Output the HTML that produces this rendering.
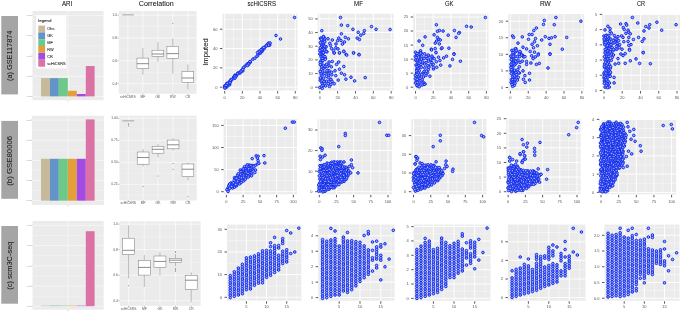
<!DOCTYPE html>
<html><head><meta charset="utf-8"><style>
html,body{margin:0;padding:0;background:#fff;}
svg{display:block;font-family:"Liberation Sans", sans-serif;-webkit-font-smoothing:antialiased;}
text{-webkit-font-smoothing:antialiased;}
</style></head><body>
<svg width="685" height="312" viewBox="0 0 685 312" style="will-change:transform">
<rect width="685" height="312" fill="#fff"/>
<rect x="1.3" y="16" width="16.7" height="78.4" fill="#a5a5a5" /><text x="-25.2" y="0" font-size="8.1" textLength="50.4" lengthAdjust="spacingAndGlyphs" fill="#151515" stroke="#151515" stroke-width="0.04" transform="translate(12.1,55.8) rotate(-90)">(a) GSE117874</text><rect x="1.3" y="120.9" width="16.7" height="77.9" fill="#a5a5a5" /><text x="-24.95" y="0" font-size="8.1" textLength="49.9" lengthAdjust="spacingAndGlyphs" fill="#151515" stroke="#151515" stroke-width="0.04" transform="translate(12.1,160.8) rotate(-90)">(b) GSE80006</text><rect x="1.3" y="226" width="16.7" height="77.7" fill="#a5a5a5" /><text x="-24.1" y="0" font-size="8.1" textLength="48.2" lengthAdjust="spacingAndGlyphs" fill="#151515" stroke="#151515" stroke-width="0.04" transform="translate(12.1,265.7) rotate(-90)">(c) scm3C-seq</text><text x="61.9" y="5.7" font-size="7.3" textLength="10.3" lengthAdjust="spacingAndGlyphs" fill="#111" stroke="#111" stroke-width="0.05">ARI</text><text x="138.8" y="5.7" font-size="7.3" textLength="35.0" lengthAdjust="spacingAndGlyphs" fill="#111" stroke="#111" stroke-width="0.05">Correlation</text><text x="247.5" y="5.7" font-size="7.3" textLength="28.5" lengthAdjust="spacingAndGlyphs" fill="#111" stroke="#111" stroke-width="0.05">scHiCSRS</text><text x="354" y="5.7" font-size="7.3" textLength="9.0" lengthAdjust="spacingAndGlyphs" fill="#111" stroke="#111" stroke-width="0.05">MF</text><text x="444.9" y="5.7" font-size="7.3" textLength="8.6" lengthAdjust="spacingAndGlyphs" fill="#111" stroke="#111" stroke-width="0.05">GK</text><text x="539.9" y="5.7" font-size="7.3" textLength="10.9" lengthAdjust="spacingAndGlyphs" fill="#111" stroke="#111" stroke-width="0.05">RW</text><text x="637" y="5.7" font-size="7.3" textLength="8.1" lengthAdjust="spacingAndGlyphs" fill="#111" stroke="#111" stroke-width="0.05">CR</text><text x="-13.75" y="0" font-size="7.5" textLength="27.5" lengthAdjust="spacingAndGlyphs" fill="#111" stroke="#111" stroke-width="0.05" transform="translate(208,52.05) rotate(-90)">Imputed</text><rect x="32.5" y="11" width="71" height="89.2" fill="#ebebeb" /><line x1="32.5" y1="25.55" x2="103.5" y2="25.55" stroke="#fafafa" stroke-width="0.3"/><line x1="32.5" y1="45.85" x2="103.5" y2="45.85" stroke="#fafafa" stroke-width="0.3"/><line x1="32.5" y1="66.15" x2="103.5" y2="66.15" stroke="#fafafa" stroke-width="0.3"/><line x1="32.5" y1="86.35" x2="103.5" y2="86.35" stroke="#fafafa" stroke-width="0.3"/><line x1="68" y1="11" x2="68" y2="100.2" stroke="#ffffff" stroke-width="0.5"/><line x1="32.5" y1="15.4" x2="103.5" y2="15.4" stroke="#ffffff" stroke-width="0.5"/><line x1="32.5" y1="35.7" x2="103.5" y2="35.7" stroke="#ffffff" stroke-width="0.5"/><line x1="32.5" y1="56" x2="103.5" y2="56" stroke="#ffffff" stroke-width="0.5"/><line x1="32.5" y1="76.3" x2="103.5" y2="76.3" stroke="#ffffff" stroke-width="0.5"/><line x1="32.5" y1="96.4" x2="103.5" y2="96.4" stroke="#ffffff" stroke-width="0.5"/><rect x="41" y="78.1" width="8.9" height="18.3" fill="#c9b99b" /><rect x="49.9" y="78.1" width="8.9" height="18.3" fill="#6294c8" /><rect x="58.8" y="78.1" width="9" height="18.3" fill="#6cc98a" /><rect x="67.8" y="90.8" width="9" height="5.6" fill="#e3a03a" /><rect x="76.8" y="94" width="9" height="2.4" fill="#a34be3" /><rect x="85.8" y="66" width="8.8" height="30.4" fill="#db72a6" /><line x1="31.3" y1="15.4" x2="32.5" y2="15.4" stroke="#777" stroke-width="0.4"/><text x="31.1" y="16.15" font-size="2.2" text-anchor="end" fill="#8a8a8a" >0.00</text><line x1="31.3" y1="35.7" x2="32.5" y2="35.7" stroke="#777" stroke-width="0.4"/><text x="31.1" y="36.45" font-size="2.2" text-anchor="end" fill="#8a8a8a" >0.00</text><line x1="31.3" y1="56" x2="32.5" y2="56" stroke="#777" stroke-width="0.4"/><text x="31.1" y="56.75" font-size="2.2" text-anchor="end" fill="#8a8a8a" >0.00</text><line x1="31.3" y1="76.3" x2="32.5" y2="76.3" stroke="#777" stroke-width="0.4"/><text x="31.1" y="77.05" font-size="2.2" text-anchor="end" fill="#8a8a8a" >0.00</text><line x1="31.3" y1="96.4" x2="32.5" y2="96.4" stroke="#777" stroke-width="0.4"/><text x="31.1" y="97.15" font-size="2.2" text-anchor="end" fill="#8a8a8a" >0.00</text><line x1="68" y1="100.2" x2="68" y2="101.4" stroke="#777" stroke-width="0.4"/><rect x="36" y="15.4" width="30.3" height="53.1" fill="#ffffff" /><text x="38.2" y="22.4" font-size="4.4" textLength="13.3" lengthAdjust="spacingAndGlyphs" fill="#222" stroke="#222" stroke-width="0.08">legend</text><rect x="38.3" y="25.6" width="6.8" height="6.8" fill="#c9b99b" /><text x="47.2" y="30.3" font-size="3.9" fill="#222" stroke="#222" stroke-width="0.06">Obs</text><rect x="38.3" y="32.4" width="6.8" height="6.8" fill="#6294c8" /><text x="47.2" y="37.1" font-size="3.9" fill="#222" stroke="#222" stroke-width="0.06">GK</text><rect x="38.3" y="39.2" width="6.8" height="6.8" fill="#6cc98a" /><text x="47.2" y="43.9" font-size="3.9" fill="#222" stroke="#222" stroke-width="0.06">MF</text><rect x="38.3" y="46" width="6.8" height="6.8" fill="#e3a03a" /><text x="47.2" y="50.7" font-size="3.9" fill="#222" stroke="#222" stroke-width="0.06">RW</text><rect x="38.3" y="52.9" width="6.8" height="6.8" fill="#a34be3" /><text x="47.2" y="57.6" font-size="3.9" fill="#222" stroke="#222" stroke-width="0.06">CR</text><rect x="38.3" y="59.9" width="6.8" height="6.8" fill="#db72a6" /><text x="47.2" y="64.6" font-size="3.9" fill="#222" stroke="#222" stroke-width="0.06">scHiCSRS</text><rect x="32" y="115.7" width="72" height="89.2" fill="#ebebeb" /><line x1="32" y1="130.1" x2="104" y2="130.1" stroke="#fafafa" stroke-width="0.3"/><line x1="32" y1="150.25" x2="104" y2="150.25" stroke="#fafafa" stroke-width="0.3"/><line x1="32" y1="170.4" x2="104" y2="170.4" stroke="#fafafa" stroke-width="0.3"/><line x1="32" y1="190.6" x2="104" y2="190.6" stroke="#fafafa" stroke-width="0.3"/><line x1="68" y1="115.7" x2="68" y2="204.9" stroke="#ffffff" stroke-width="0.5"/><line x1="32" y1="120" x2="104" y2="120" stroke="#ffffff" stroke-width="0.5"/><line x1="32" y1="140.2" x2="104" y2="140.2" stroke="#ffffff" stroke-width="0.5"/><line x1="32" y1="160.3" x2="104" y2="160.3" stroke="#ffffff" stroke-width="0.5"/><line x1="32" y1="180.5" x2="104" y2="180.5" stroke="#ffffff" stroke-width="0.5"/><line x1="32" y1="200.7" x2="104" y2="200.7" stroke="#ffffff" stroke-width="0.5"/><rect x="41" y="158.8" width="8.9" height="41.9" fill="#c9b99b" /><rect x="49.9" y="158.8" width="8.9" height="41.9" fill="#6294c8" /><rect x="58.8" y="158.8" width="9" height="41.9" fill="#6cc98a" /><rect x="67.8" y="158.8" width="9" height="41.9" fill="#e3a03a" /><rect x="76.8" y="158.8" width="9" height="41.9" fill="#a34be3" /><rect x="85.8" y="119.4" width="8.8" height="81.3" fill="#db72a6" /><line x1="30.8" y1="120" x2="32" y2="120" stroke="#777" stroke-width="0.4"/><text x="30.6" y="120.75" font-size="2.2" text-anchor="end" fill="#8a8a8a" >0.00</text><line x1="30.8" y1="140.2" x2="32" y2="140.2" stroke="#777" stroke-width="0.4"/><text x="30.6" y="140.95" font-size="2.2" text-anchor="end" fill="#8a8a8a" >0.00</text><line x1="30.8" y1="160.3" x2="32" y2="160.3" stroke="#777" stroke-width="0.4"/><text x="30.6" y="161.05" font-size="2.2" text-anchor="end" fill="#8a8a8a" >0.00</text><line x1="30.8" y1="180.5" x2="32" y2="180.5" stroke="#777" stroke-width="0.4"/><text x="30.6" y="181.25" font-size="2.2" text-anchor="end" fill="#8a8a8a" >0.00</text><line x1="30.8" y1="200.7" x2="32" y2="200.7" stroke="#777" stroke-width="0.4"/><text x="30.6" y="201.45" font-size="2.2" text-anchor="end" fill="#8a8a8a" >0.00</text><line x1="68" y1="204.9" x2="68" y2="206.1" stroke="#777" stroke-width="0.4"/><rect x="32.5" y="221" width="71.2" height="88.7" fill="#ebebeb" /><line x1="32.5" y1="235.5" x2="103.7" y2="235.5" stroke="#fafafa" stroke-width="0.3"/><line x1="32.5" y1="255.7" x2="103.7" y2="255.7" stroke="#fafafa" stroke-width="0.3"/><line x1="32.5" y1="275.9" x2="103.7" y2="275.9" stroke="#fafafa" stroke-width="0.3"/><line x1="32.5" y1="296.1" x2="103.7" y2="296.1" stroke="#fafafa" stroke-width="0.3"/><line x1="68" y1="221" x2="68" y2="309.7" stroke="#ffffff" stroke-width="0.5"/><line x1="32.5" y1="225.4" x2="103.7" y2="225.4" stroke="#ffffff" stroke-width="0.5"/><line x1="32.5" y1="245.6" x2="103.7" y2="245.6" stroke="#ffffff" stroke-width="0.5"/><line x1="32.5" y1="265.8" x2="103.7" y2="265.8" stroke="#ffffff" stroke-width="0.5"/><line x1="32.5" y1="286" x2="103.7" y2="286" stroke="#ffffff" stroke-width="0.5"/><line x1="32.5" y1="306.2" x2="103.7" y2="306.2" stroke="#ffffff" stroke-width="0.5"/><rect x="41" y="305.4" width="8.9" height="0.8" fill="#c9b99b" fill-opacity="0.55"/><rect x="49.9" y="305.4" width="8.9" height="0.8" fill="#6294c8" fill-opacity="0.55"/><rect x="58.8" y="305.4" width="9" height="0.8" fill="#6cc98a" fill-opacity="0.55"/><rect x="67.8" y="305.4" width="9" height="0.8" fill="#e3a03a" fill-opacity="0.55"/><rect x="76.8" y="305.4" width="9" height="0.8" fill="#a34be3" fill-opacity="0.55"/><rect x="85.8" y="231.2" width="8.8" height="75" fill="#db72a6" /><line x1="31.3" y1="225.4" x2="32.5" y2="225.4" stroke="#777" stroke-width="0.4"/><text x="31.1" y="226.15" font-size="2.2" text-anchor="end" fill="#8a8a8a" >0.00</text><line x1="31.3" y1="245.6" x2="32.5" y2="245.6" stroke="#777" stroke-width="0.4"/><text x="31.1" y="246.35" font-size="2.2" text-anchor="end" fill="#8a8a8a" >0.00</text><line x1="31.3" y1="265.8" x2="32.5" y2="265.8" stroke="#777" stroke-width="0.4"/><text x="31.1" y="266.55" font-size="2.2" text-anchor="end" fill="#8a8a8a" >0.00</text><line x1="31.3" y1="286" x2="32.5" y2="286" stroke="#777" stroke-width="0.4"/><text x="31.1" y="286.75" font-size="2.2" text-anchor="end" fill="#8a8a8a" >0.00</text><line x1="31.3" y1="306.2" x2="32.5" y2="306.2" stroke="#777" stroke-width="0.4"/><text x="31.1" y="306.95" font-size="2.2" text-anchor="end" fill="#8a8a8a" >0.00</text><line x1="68" y1="309.7" x2="68" y2="310.9" stroke="#777" stroke-width="0.4"/><rect x="118.8" y="11.1" width="77.8" height="82.6" fill="#ebebeb" /><line x1="118.8" y1="26.6" x2="196.6" y2="26.6" stroke="#fafafa" stroke-width="0.3"/><line x1="118.8" y1="49.4" x2="196.6" y2="49.4" stroke="#fafafa" stroke-width="0.3"/><line x1="118.8" y1="72.2" x2="196.6" y2="72.2" stroke="#fafafa" stroke-width="0.3"/><line x1="127.85" y1="11.1" x2="127.85" y2="93.7" stroke="#ffffff" stroke-width="0.6"/><line x1="142.85" y1="11.1" x2="142.85" y2="93.7" stroke="#ffffff" stroke-width="0.6"/><line x1="157.9" y1="11.1" x2="157.9" y2="93.7" stroke="#ffffff" stroke-width="0.6"/><line x1="172.8" y1="11.1" x2="172.8" y2="93.7" stroke="#ffffff" stroke-width="0.6"/><line x1="187.85" y1="11.1" x2="187.85" y2="93.7" stroke="#ffffff" stroke-width="0.6"/><line x1="118.8" y1="15.2" x2="196.6" y2="15.2" stroke="#ffffff" stroke-width="0.6"/><line x1="118.8" y1="38" x2="196.6" y2="38" stroke="#ffffff" stroke-width="0.6"/><line x1="118.8" y1="60.8" x2="196.6" y2="60.8" stroke="#ffffff" stroke-width="0.6"/><line x1="118.8" y1="83.6" x2="196.6" y2="83.6" stroke="#ffffff" stroke-width="0.6"/><line x1="117.4" y1="15.2" x2="118.8" y2="15.2" stroke="#555" stroke-width="0.4"/><text x="117" y="16.3" font-size="3.3" text-anchor="end" fill="#555" >1.0</text><line x1="117.4" y1="38" x2="118.8" y2="38" stroke="#555" stroke-width="0.4"/><text x="117" y="39.1" font-size="3.3" text-anchor="end" fill="#555" >0.8</text><line x1="117.4" y1="60.8" x2="118.8" y2="60.8" stroke="#555" stroke-width="0.4"/><text x="117" y="61.9" font-size="3.3" text-anchor="end" fill="#555" >0.6</text><line x1="117.4" y1="83.6" x2="118.8" y2="83.6" stroke="#555" stroke-width="0.4"/><text x="117" y="84.7" font-size="3.3" text-anchor="end" fill="#555" >0.4</text><line x1="127.85" y1="93.7" x2="127.85" y2="94.9" stroke="#555" stroke-width="0.4"/><text x="127.85" y="97.6" font-size="3.3" text-anchor="middle" fill="#555" >scHiCSRS</text><line x1="142.85" y1="93.7" x2="142.85" y2="94.9" stroke="#555" stroke-width="0.4"/><text x="142.85" y="97.6" font-size="3.3" text-anchor="middle" fill="#555" >MF</text><line x1="157.9" y1="93.7" x2="157.9" y2="94.9" stroke="#555" stroke-width="0.4"/><text x="157.9" y="97.6" font-size="3.3" text-anchor="middle" fill="#555" >GK</text><line x1="172.8" y1="93.7" x2="172.8" y2="94.9" stroke="#555" stroke-width="0.4"/><text x="172.8" y="97.6" font-size="3.3" text-anchor="middle" fill="#555" >RW</text><line x1="187.85" y1="93.7" x2="187.85" y2="94.9" stroke="#555" stroke-width="0.4"/><text x="187.85" y="97.6" font-size="3.3" text-anchor="middle" fill="#555" >CR</text><line x1="142.85" y1="48" x2="142.85" y2="58.1" stroke="#8a8a8a" stroke-width="0.55"/><line x1="142.85" y1="68.5" x2="142.85" y2="74.5" stroke="#8a8a8a" stroke-width="0.55"/><rect x="136.95" y="58.1" width="11.8" height="10.4" fill="#fff" stroke="#777777" stroke-width="0.5"/><line x1="136.95" y1="63.7" x2="148.75" y2="63.7" stroke="#666" stroke-width="0.75"/><line x1="157.9" y1="42" x2="157.9" y2="50.2" stroke="#8a8a8a" stroke-width="0.55"/><line x1="157.9" y1="56.4" x2="157.9" y2="61.7" stroke="#8a8a8a" stroke-width="0.55"/><rect x="152" y="50.2" width="11.8" height="6.2" fill="#fff" stroke="#777777" stroke-width="0.5"/><line x1="152" y1="54" x2="163.8" y2="54" stroke="#666" stroke-width="0.75"/><line x1="172.8" y1="38.4" x2="172.8" y2="46.3" stroke="#8a8a8a" stroke-width="0.55"/><line x1="172.8" y1="58.4" x2="172.8" y2="73.75" stroke="#8a8a8a" stroke-width="0.55"/><rect x="166.9" y="46.3" width="11.8" height="12.1" fill="#fff" stroke="#777777" stroke-width="0.5"/><line x1="166.9" y1="53.6" x2="178.7" y2="53.6" stroke="#666" stroke-width="0.75"/><circle cx="172.8" cy="23.3" r="0.45" fill="#444"/><line x1="187.85" y1="64.4" x2="187.85" y2="71.6" stroke="#8a8a8a" stroke-width="0.55"/><line x1="187.85" y1="82.4" x2="187.85" y2="89.6" stroke="#8a8a8a" stroke-width="0.55"/><rect x="181.95" y="71.6" width="11.8" height="10.8" fill="#fff" stroke="#777777" stroke-width="0.5"/><line x1="181.95" y1="78" x2="193.75" y2="78" stroke="#666" stroke-width="0.75"/><rect x="122.3" y="14.3" width="11.5" height="1.1" fill="#ababab" /><rect x="119.4" y="115.6" width="77.3" height="84.8" fill="#ebebeb" /><line x1="119.4" y1="129.3" x2="196.7" y2="129.3" stroke="#fafafa" stroke-width="0.3"/><line x1="119.4" y1="151.3" x2="196.7" y2="151.3" stroke="#fafafa" stroke-width="0.3"/><line x1="119.4" y1="173.3" x2="196.7" y2="173.3" stroke="#fafafa" stroke-width="0.3"/><line x1="119.4" y1="195.3" x2="196.7" y2="195.3" stroke="#fafafa" stroke-width="0.3"/><line x1="128.3" y1="115.6" x2="128.3" y2="200.4" stroke="#ffffff" stroke-width="0.6"/><line x1="143.1" y1="115.6" x2="143.1" y2="200.4" stroke="#ffffff" stroke-width="0.6"/><line x1="158" y1="115.6" x2="158" y2="200.4" stroke="#ffffff" stroke-width="0.6"/><line x1="173.1" y1="115.6" x2="173.1" y2="200.4" stroke="#ffffff" stroke-width="0.6"/><line x1="187.9" y1="115.6" x2="187.9" y2="200.4" stroke="#ffffff" stroke-width="0.6"/><line x1="119.4" y1="118.3" x2="196.7" y2="118.3" stroke="#ffffff" stroke-width="0.6"/><line x1="119.4" y1="140.3" x2="196.7" y2="140.3" stroke="#ffffff" stroke-width="0.6"/><line x1="119.4" y1="162.3" x2="196.7" y2="162.3" stroke="#ffffff" stroke-width="0.6"/><line x1="119.4" y1="184.3" x2="196.7" y2="184.3" stroke="#ffffff" stroke-width="0.6"/><line x1="118" y1="118.3" x2="119.4" y2="118.3" stroke="#555" stroke-width="0.4"/><text x="117.6" y="119.4" font-size="3.3" text-anchor="end" fill="#555" >1.00</text><line x1="118" y1="140.3" x2="119.4" y2="140.3" stroke="#555" stroke-width="0.4"/><text x="117.6" y="141.4" font-size="3.3" text-anchor="end" fill="#555" >0.75</text><line x1="118" y1="162.3" x2="119.4" y2="162.3" stroke="#555" stroke-width="0.4"/><text x="117.6" y="163.4" font-size="3.3" text-anchor="end" fill="#555" >0.50</text><line x1="118" y1="184.3" x2="119.4" y2="184.3" stroke="#555" stroke-width="0.4"/><text x="117.6" y="185.4" font-size="3.3" text-anchor="end" fill="#555" >0.25</text><line x1="128.3" y1="200.4" x2="128.3" y2="201.6" stroke="#555" stroke-width="0.4"/><text x="128.3" y="204.3" font-size="3.3" text-anchor="middle" fill="#555" >scHiCSRS</text><line x1="143.1" y1="200.4" x2="143.1" y2="201.6" stroke="#555" stroke-width="0.4"/><text x="143.1" y="204.3" font-size="3.3" text-anchor="middle" fill="#555" >MF</text><line x1="158" y1="200.4" x2="158" y2="201.6" stroke="#555" stroke-width="0.4"/><text x="158" y="204.3" font-size="3.3" text-anchor="middle" fill="#555" >GK</text><line x1="173.1" y1="200.4" x2="173.1" y2="201.6" stroke="#555" stroke-width="0.4"/><text x="173.1" y="204.3" font-size="3.3" text-anchor="middle" fill="#555" >RW</text><line x1="187.9" y1="200.4" x2="187.9" y2="201.6" stroke="#555" stroke-width="0.4"/><text x="187.9" y="204.3" font-size="3.3" text-anchor="middle" fill="#555" >CR</text><line x1="143.1" y1="149.3" x2="143.1" y2="152" stroke="#8a8a8a" stroke-width="0.55"/><line x1="143.1" y1="164.2" x2="143.1" y2="166.3" stroke="#8a8a8a" stroke-width="0.55"/><rect x="137.2" y="152" width="11.8" height="12.2" fill="#fff" stroke="#777777" stroke-width="0.5"/><line x1="137.2" y1="157.5" x2="149" y2="157.5" stroke="#666" stroke-width="0.75"/><circle cx="143.1" cy="186.5" r="0.45" fill="#444"/><line x1="158" y1="144.1" x2="158" y2="146.4" stroke="#8a8a8a" stroke-width="0.55"/><line x1="158" y1="153.2" x2="158" y2="157.4" stroke="#8a8a8a" stroke-width="0.55"/><rect x="152.1" y="146.4" width="11.8" height="6.8" fill="#fff" stroke="#777777" stroke-width="0.5"/><line x1="152.1" y1="149.3" x2="163.9" y2="149.3" stroke="#666" stroke-width="0.75"/><circle cx="158" cy="176" r="0.45" fill="#444"/><line x1="173.1" y1="138.4" x2="173.1" y2="140.1" stroke="#8a8a8a" stroke-width="0.55"/><line x1="173.1" y1="148.8" x2="173.1" y2="150.5" stroke="#8a8a8a" stroke-width="0.55"/><rect x="167.2" y="140.1" width="11.8" height="8.7" fill="#fff" stroke="#777777" stroke-width="0.5"/><line x1="167.2" y1="144.8" x2="179" y2="144.8" stroke="#666" stroke-width="0.75"/><circle cx="173.1" cy="163.5" r="0.45" fill="#444"/><circle cx="173.1" cy="169.2" r="0.45" fill="#444"/><line x1="187.9" y1="162.5" x2="187.9" y2="164" stroke="#8a8a8a" stroke-width="0.55"/><line x1="187.9" y1="176.5" x2="187.9" y2="180.4" stroke="#8a8a8a" stroke-width="0.55"/><rect x="182" y="164" width="11.8" height="12.5" fill="#fff" stroke="#777777" stroke-width="0.5"/><line x1="182" y1="169.2" x2="193.8" y2="169.2" stroke="#666" stroke-width="0.75"/><circle cx="187.9" cy="196.2" r="0.45" fill="#444"/><rect x="122.3" y="120.3" width="11.9" height="1.1" fill="#ababab" /><circle cx="128.6" cy="123.6" r="0.45" fill="#444"/><circle cx="128.6" cy="124.7" r="0.45" fill="#444"/><circle cx="128.6" cy="126.0" r="0.45" fill="#444"/><rect x="119.7" y="221.4" width="80.9" height="84.4" fill="#ebebeb" /><line x1="119.7" y1="236.85" x2="200.6" y2="236.85" stroke="#fafafa" stroke-width="0.3"/><line x1="119.7" y1="262.4" x2="200.6" y2="262.4" stroke="#fafafa" stroke-width="0.3"/><line x1="119.7" y1="287.95" x2="200.6" y2="287.95" stroke="#fafafa" stroke-width="0.3"/><line x1="128.6" y1="221.4" x2="128.6" y2="305.8" stroke="#ffffff" stroke-width="0.6"/><line x1="144.3" y1="221.4" x2="144.3" y2="305.8" stroke="#ffffff" stroke-width="0.6"/><line x1="159.95" y1="221.4" x2="159.95" y2="305.8" stroke="#ffffff" stroke-width="0.6"/><line x1="175.5" y1="221.4" x2="175.5" y2="305.8" stroke="#ffffff" stroke-width="0.6"/><line x1="191.2" y1="221.4" x2="191.2" y2="305.8" stroke="#ffffff" stroke-width="0.6"/><line x1="119.7" y1="224.1" x2="200.6" y2="224.1" stroke="#ffffff" stroke-width="0.6"/><line x1="119.7" y1="249.6" x2="200.6" y2="249.6" stroke="#ffffff" stroke-width="0.6"/><line x1="119.7" y1="275.2" x2="200.6" y2="275.2" stroke="#ffffff" stroke-width="0.6"/><line x1="119.7" y1="300.7" x2="200.6" y2="300.7" stroke="#ffffff" stroke-width="0.6"/><line x1="118.3" y1="224.1" x2="119.7" y2="224.1" stroke="#555" stroke-width="0.4"/><text x="117.9" y="225.2" font-size="3.3" text-anchor="end" fill="#555" >1.0</text><line x1="118.3" y1="249.6" x2="119.7" y2="249.6" stroke="#555" stroke-width="0.4"/><text x="117.9" y="250.7" font-size="3.3" text-anchor="end" fill="#555" >0.8</text><line x1="118.3" y1="275.2" x2="119.7" y2="275.2" stroke="#555" stroke-width="0.4"/><text x="117.9" y="276.3" font-size="3.3" text-anchor="end" fill="#555" >0.6</text><line x1="118.3" y1="300.7" x2="119.7" y2="300.7" stroke="#555" stroke-width="0.4"/><text x="117.9" y="301.8" font-size="3.3" text-anchor="end" fill="#555" >0.4</text><line x1="128.6" y1="305.8" x2="128.6" y2="307" stroke="#555" stroke-width="0.4"/><text x="128.6" y="309.7" font-size="3.3" text-anchor="middle" fill="#555" >scHiCSRS</text><line x1="144.3" y1="305.8" x2="144.3" y2="307" stroke="#555" stroke-width="0.4"/><text x="144.3" y="309.7" font-size="3.3" text-anchor="middle" fill="#555" >MF</text><line x1="159.95" y1="305.8" x2="159.95" y2="307" stroke="#555" stroke-width="0.4"/><text x="159.95" y="309.7" font-size="3.3" text-anchor="middle" fill="#555" >GK</text><line x1="175.5" y1="305.8" x2="175.5" y2="307" stroke="#555" stroke-width="0.4"/><text x="175.5" y="309.7" font-size="3.3" text-anchor="middle" fill="#555" >RW</text><line x1="191.2" y1="305.8" x2="191.2" y2="307" stroke="#555" stroke-width="0.4"/><text x="191.2" y="309.7" font-size="3.3" text-anchor="middle" fill="#555" >CR</text><line x1="128.6" y1="225.4" x2="128.6" y2="238.2" stroke="#8a8a8a" stroke-width="0.55"/><line x1="128.6" y1="254.3" x2="128.6" y2="278.4" stroke="#8a8a8a" stroke-width="0.55"/><rect x="122.6" y="238.2" width="12" height="16.1" fill="#fff" stroke="#777777" stroke-width="0.5"/><line x1="122.6" y1="250.3" x2="134.6" y2="250.3" stroke="#666" stroke-width="0.75"/><circle cx="128.6" cy="285.7" r="0.45" fill="#444"/><line x1="144.3" y1="255" x2="144.3" y2="260.5" stroke="#8a8a8a" stroke-width="0.55"/><line x1="144.3" y1="275.1" x2="144.3" y2="287" stroke="#8a8a8a" stroke-width="0.55"/><rect x="138.3" y="260.5" width="12" height="14.6" fill="#fff" stroke="#777777" stroke-width="0.5"/><line x1="138.3" y1="267.4" x2="150.3" y2="267.4" stroke="#666" stroke-width="0.75"/><line x1="159.95" y1="252.2" x2="159.95" y2="256" stroke="#8a8a8a" stroke-width="0.55"/><line x1="159.95" y1="267.4" x2="159.95" y2="275.5" stroke="#8a8a8a" stroke-width="0.55"/><rect x="153.95" y="256" width="12" height="11.4" fill="#fff" stroke="#777777" stroke-width="0.5"/><line x1="153.95" y1="261.4" x2="165.95" y2="261.4" stroke="#666" stroke-width="0.75"/><line x1="175.5" y1="254" x2="175.5" y2="258.3" stroke="#8a8a8a" stroke-width="0.55"/><line x1="175.5" y1="262.4" x2="175.5" y2="266.3" stroke="#8a8a8a" stroke-width="0.55"/><rect x="169.5" y="258.3" width="12" height="4.1" fill="#fff" stroke="#777777" stroke-width="0.5"/><line x1="169.5" y1="260.2" x2="181.5" y2="260.2" stroke="#666" stroke-width="0.75"/><circle cx="175.5" cy="251.5" r="0.45" fill="#444"/><circle cx="175.5" cy="252.3" r="0.45" fill="#444"/><circle cx="175.5" cy="268.2" r="0.45" fill="#444"/><circle cx="175.5" cy="269.3" r="0.45" fill="#444"/><circle cx="175.5" cy="270.5" r="0.45" fill="#444"/><circle cx="175.5" cy="271.4" r="0.45" fill="#444"/><line x1="191.2" y1="272.4" x2="191.2" y2="275.5" stroke="#8a8a8a" stroke-width="0.55"/><line x1="191.2" y1="289.4" x2="191.2" y2="302.2" stroke="#8a8a8a" stroke-width="0.55"/><rect x="185.2" y="275.5" width="12" height="13.9" fill="#fff" stroke="#777777" stroke-width="0.5"/><line x1="185.2" y1="280.2" x2="197.2" y2="280.2" stroke="#666" stroke-width="0.75"/><rect x="222.4" y="13.8" width="75.1" height="76.7" fill="#ebebeb" /><line x1="233.52" y1="13.8" x2="233.52" y2="90.5" stroke="#fafafa" stroke-width="0.55"/><line x1="251.18" y1="13.8" x2="251.18" y2="90.5" stroke="#fafafa" stroke-width="0.55"/><line x1="268.83" y1="13.8" x2="268.83" y2="90.5" stroke="#fafafa" stroke-width="0.55"/><line x1="286.48" y1="13.8" x2="286.48" y2="90.5" stroke="#fafafa" stroke-width="0.55"/><line x1="222.4" y1="19.53" x2="297.5" y2="19.53" stroke="#fafafa" stroke-width="0.55"/><line x1="222.4" y1="38.87" x2="297.5" y2="38.87" stroke="#fafafa" stroke-width="0.55"/><line x1="222.4" y1="58.2" x2="297.5" y2="58.2" stroke="#fafafa" stroke-width="0.55"/><line x1="222.4" y1="77.53" x2="297.5" y2="77.53" stroke="#fafafa" stroke-width="0.55"/><line x1="224.7" y1="13.8" x2="224.7" y2="90.5" stroke="#ffffff" stroke-width="0.95"/><line x1="242.35" y1="13.8" x2="242.35" y2="90.5" stroke="#ffffff" stroke-width="0.95"/><line x1="260" y1="13.8" x2="260" y2="90.5" stroke="#ffffff" stroke-width="0.95"/><line x1="277.65" y1="13.8" x2="277.65" y2="90.5" stroke="#ffffff" stroke-width="0.95"/><line x1="295.3" y1="13.8" x2="295.3" y2="90.5" stroke="#ffffff" stroke-width="0.95"/><line x1="222.4" y1="87.2" x2="297.5" y2="87.2" stroke="#ffffff" stroke-width="0.95"/><line x1="222.4" y1="67.87" x2="297.5" y2="67.87" stroke="#ffffff" stroke-width="0.95"/><line x1="222.4" y1="48.53" x2="297.5" y2="48.53" stroke="#ffffff" stroke-width="0.95"/><line x1="222.4" y1="29.2" x2="297.5" y2="29.2" stroke="#ffffff" stroke-width="0.95"/><line x1="219.9" y1="87.2" x2="222.4" y2="87.2" stroke="#222" stroke-width="0.75"/><text x="217.4" y="88.65" font-size="4.0" text-anchor="end" fill="#555" >0</text><line x1="219.9" y1="67.87" x2="222.4" y2="67.87" stroke="#222" stroke-width="0.75"/><text x="217.4" y="69.32" font-size="4.0" text-anchor="end" fill="#555" >20</text><line x1="219.9" y1="48.53" x2="222.4" y2="48.53" stroke="#222" stroke-width="0.75"/><text x="217.4" y="49.98" font-size="4.0" text-anchor="end" fill="#555" >40</text><line x1="219.9" y1="29.2" x2="222.4" y2="29.2" stroke="#222" stroke-width="0.75"/><text x="217.4" y="30.65" font-size="4.0" text-anchor="end" fill="#555" >60</text><line x1="224.7" y1="91.1" x2="224.7" y2="93.5" stroke="#222" stroke-width="0.75"/><text x="224.7" y="98.8" font-size="4.0" text-anchor="middle" fill="#555" >0</text><line x1="242.35" y1="91.1" x2="242.35" y2="93.5" stroke="#222" stroke-width="0.75"/><text x="242.35" y="98.8" font-size="4.0" text-anchor="middle" fill="#555" >20</text><line x1="260" y1="91.1" x2="260" y2="93.5" stroke="#222" stroke-width="0.75"/><text x="260" y="98.8" font-size="4.0" text-anchor="middle" fill="#555" >40</text><line x1="277.65" y1="91.1" x2="277.65" y2="93.5" stroke="#222" stroke-width="0.75"/><text x="277.65" y="98.8" font-size="4.0" text-anchor="middle" fill="#555" >60</text><line x1="295.3" y1="91.1" x2="295.3" y2="93.5" stroke="#222" stroke-width="0.75"/><text x="295.3" y="98.8" font-size="4.0" text-anchor="middle" fill="#555" >80</text><g fill="#9eaef8" stroke="#0f28ec" stroke-width="1.0"><circle cx="234.87" cy="75.38" r="1.3"/><circle cx="237.32" cy="74.14" r="1.3"/><circle cx="226.72" cy="83.96" r="1.3"/><circle cx="225.4" cy="86.41" r="1.3"/><circle cx="225.37" cy="86.25" r="1.3"/><circle cx="268.39" cy="43.31" r="1.3"/><circle cx="244.98" cy="66.23" r="1.3"/><circle cx="238.29" cy="72.79" r="1.3"/><circle cx="226.82" cy="85.14" r="1.3"/><circle cx="234.38" cy="77.98" r="1.3"/><circle cx="237.85" cy="73.7" r="1.3"/><circle cx="235.08" cy="75.46" r="1.3"/><circle cx="269.7" cy="45.04" r="1.3"/><circle cx="229.92" cy="81.26" r="1.3"/><circle cx="229.16" cy="84.24" r="1.3"/><circle cx="257.69" cy="55.68" r="1.3"/><circle cx="266.38" cy="45.77" r="1.3"/><circle cx="262.54" cy="50.28" r="1.3"/><circle cx="268.24" cy="44.47" r="1.3"/><circle cx="252.87" cy="59.14" r="1.3"/><circle cx="225.34" cy="85.42" r="1.3"/><circle cx="225.68" cy="87.46" r="1.3"/><circle cx="225.48" cy="87.13" r="1.3"/><circle cx="239.82" cy="73.04" r="1.3"/><circle cx="226.83" cy="85.06" r="1.3"/><circle cx="225.66" cy="85.79" r="1.3"/><circle cx="227.28" cy="84.38" r="1.3"/><circle cx="229.59" cy="84.8" r="1.3"/><circle cx="227.23" cy="83.33" r="1.3"/><circle cx="225.47" cy="87.53" r="1.3"/><circle cx="227.29" cy="84.59" r="1.3"/><circle cx="229.36" cy="83.4" r="1.3"/><circle cx="225.36" cy="85.96" r="1.3"/><circle cx="231.76" cy="79.97" r="1.3"/><circle cx="266.47" cy="45.3" r="1.3"/><circle cx="226.68" cy="84.58" r="1.3"/><circle cx="262.39" cy="49.93" r="1.3"/><circle cx="250.26" cy="61.66" r="1.3"/><circle cx="226.95" cy="86.78" r="1.3"/><circle cx="233.61" cy="77.13" r="1.3"/><circle cx="224.99" cy="87.56" r="1.3"/><circle cx="228.3" cy="83.53" r="1.3"/><circle cx="241.76" cy="70.41" r="1.3"/><circle cx="225.18" cy="86.47" r="1.3"/><circle cx="239.82" cy="72.4" r="1.3"/><circle cx="263.1" cy="47.96" r="1.3"/><circle cx="224.92" cy="86.06" r="1.3"/><circle cx="226.56" cy="86.35" r="1.3"/><circle cx="240.48" cy="72.39" r="1.3"/><circle cx="268.25" cy="45.36" r="1.3"/><circle cx="247.21" cy="64.02" r="1.3"/><circle cx="224.92" cy="86.73" r="1.3"/><circle cx="247.81" cy="64.84" r="1.3"/><circle cx="236.16" cy="75.98" r="1.3"/><circle cx="230.03" cy="82.35" r="1.3"/><circle cx="250.1" cy="62.43" r="1.3"/><circle cx="250.11" cy="61.97" r="1.3"/><circle cx="231.08" cy="79.44" r="1.3"/><circle cx="261.8" cy="51.67" r="1.3"/><circle cx="258.95" cy="53.13" r="1.3"/><circle cx="243.32" cy="68.16" r="1.3"/><circle cx="225.27" cy="87.44" r="1.3"/><circle cx="269.33" cy="44.74" r="1.3"/><circle cx="249.97" cy="61.56" r="1.3"/><circle cx="234.38" cy="77.96" r="1.3"/><circle cx="224.96" cy="86.62" r="1.3"/><circle cx="236.1" cy="76.25" r="1.3"/><circle cx="242.74" cy="70.99" r="1.3"/><circle cx="228.28" cy="84.47" r="1.3"/><circle cx="227.07" cy="84.14" r="1.3"/><circle cx="262.18" cy="50.13" r="1.3"/><circle cx="230.28" cy="80.93" r="1.3"/><circle cx="226.98" cy="83.49" r="1.3"/><circle cx="260.22" cy="53.25" r="1.3"/><circle cx="241.05" cy="71.06" r="1.3"/><circle cx="257" cy="56.15" r="1.3"/><circle cx="248.45" cy="63.93" r="1.3"/><circle cx="234.8" cy="76.33" r="1.3"/><circle cx="227.31" cy="83.57" r="1.3"/><circle cx="229.92" cy="82.75" r="1.3"/><circle cx="268.38" cy="43.47" r="1.3"/><circle cx="259.65" cy="52.42" r="1.3"/><circle cx="248.29" cy="63.5" r="1.3"/><circle cx="224.92" cy="85.84" r="1.3"/><circle cx="234.97" cy="78.05" r="1.3"/><circle cx="225.99" cy="85.4" r="1.3"/><circle cx="243.56" cy="67.61" r="1.3"/><circle cx="254.87" cy="58.2" r="1.3"/><circle cx="246.8" cy="65.17" r="1.3"/><circle cx="224.91" cy="87.96" r="1.3"/><circle cx="248.64" cy="64.17" r="1.3"/><circle cx="247.58" cy="65.53" r="1.3"/><circle cx="242.74" cy="69.64" r="1.3"/><circle cx="262.22" cy="48.91" r="1.3"/><circle cx="264.31" cy="48.49" r="1.3"/><circle cx="276" cy="35.5" r="1.3"/><circle cx="280.5" cy="39" r="1.3"/><circle cx="294.6" cy="17.5" r="1.3"/><circle cx="270" cy="43" r="1.3"/><circle cx="268.5" cy="45.2" r="1.3"/><circle cx="266.3" cy="46" r="1.3"/><circle cx="263.8" cy="47.5" r="1.3"/><circle cx="261" cy="49.8" r="1.3"/><circle cx="259" cy="51.3" r="1.3"/><circle cx="257.5" cy="52.6" r="1.3"/></g><rect x="317.7" y="13.8" width="75.9" height="76.7" fill="#ebebeb" /><line x1="328.73" y1="13.8" x2="328.73" y2="90.5" stroke="#fafafa" stroke-width="0.55"/><line x1="346.57" y1="13.8" x2="346.57" y2="90.5" stroke="#fafafa" stroke-width="0.55"/><line x1="364.42" y1="13.8" x2="364.42" y2="90.5" stroke="#fafafa" stroke-width="0.55"/><line x1="382.27" y1="13.8" x2="382.27" y2="90.5" stroke="#fafafa" stroke-width="0.55"/><line x1="317.7" y1="25.73" x2="393.6" y2="25.73" stroke="#fafafa" stroke-width="0.55"/><line x1="317.7" y1="39.39" x2="393.6" y2="39.39" stroke="#fafafa" stroke-width="0.55"/><line x1="317.7" y1="53.05" x2="393.6" y2="53.05" stroke="#fafafa" stroke-width="0.55"/><line x1="317.7" y1="66.71" x2="393.6" y2="66.71" stroke="#fafafa" stroke-width="0.55"/><line x1="317.7" y1="80.37" x2="393.6" y2="80.37" stroke="#fafafa" stroke-width="0.55"/><line x1="319.8" y1="13.8" x2="319.8" y2="90.5" stroke="#ffffff" stroke-width="0.95"/><line x1="337.65" y1="13.8" x2="337.65" y2="90.5" stroke="#ffffff" stroke-width="0.95"/><line x1="355.5" y1="13.8" x2="355.5" y2="90.5" stroke="#ffffff" stroke-width="0.95"/><line x1="373.35" y1="13.8" x2="373.35" y2="90.5" stroke="#ffffff" stroke-width="0.95"/><line x1="391.2" y1="13.8" x2="391.2" y2="90.5" stroke="#ffffff" stroke-width="0.95"/><line x1="317.7" y1="87.2" x2="393.6" y2="87.2" stroke="#ffffff" stroke-width="0.95"/><line x1="317.7" y1="73.54" x2="393.6" y2="73.54" stroke="#ffffff" stroke-width="0.95"/><line x1="317.7" y1="59.88" x2="393.6" y2="59.88" stroke="#ffffff" stroke-width="0.95"/><line x1="317.7" y1="46.22" x2="393.6" y2="46.22" stroke="#ffffff" stroke-width="0.95"/><line x1="317.7" y1="32.56" x2="393.6" y2="32.56" stroke="#ffffff" stroke-width="0.95"/><line x1="317.7" y1="18.9" x2="393.6" y2="18.9" stroke="#ffffff" stroke-width="0.95"/><line x1="315.2" y1="87.2" x2="317.7" y2="87.2" stroke="#222" stroke-width="0.75"/><text x="312.7" y="88.65" font-size="4.0" text-anchor="end" fill="#555" >0</text><line x1="315.2" y1="73.54" x2="317.7" y2="73.54" stroke="#222" stroke-width="0.75"/><text x="312.7" y="74.99" font-size="4.0" text-anchor="end" fill="#555" >10</text><line x1="315.2" y1="59.88" x2="317.7" y2="59.88" stroke="#222" stroke-width="0.75"/><text x="312.7" y="61.33" font-size="4.0" text-anchor="end" fill="#555" >20</text><line x1="315.2" y1="46.22" x2="317.7" y2="46.22" stroke="#222" stroke-width="0.75"/><text x="312.7" y="47.67" font-size="4.0" text-anchor="end" fill="#555" >30</text><line x1="315.2" y1="32.56" x2="317.7" y2="32.56" stroke="#222" stroke-width="0.75"/><text x="312.7" y="34.01" font-size="4.0" text-anchor="end" fill="#555" >40</text><line x1="315.2" y1="18.9" x2="317.7" y2="18.9" stroke="#222" stroke-width="0.75"/><text x="312.7" y="20.35" font-size="4.0" text-anchor="end" fill="#555" >50</text><line x1="319.8" y1="91.1" x2="319.8" y2="93.5" stroke="#222" stroke-width="0.75"/><text x="319.8" y="98.8" font-size="4.0" text-anchor="middle" fill="#555" >0</text><line x1="337.65" y1="91.1" x2="337.65" y2="93.5" stroke="#222" stroke-width="0.75"/><text x="337.65" y="98.8" font-size="4.0" text-anchor="middle" fill="#555" >20</text><line x1="355.5" y1="91.1" x2="355.5" y2="93.5" stroke="#222" stroke-width="0.75"/><text x="355.5" y="98.8" font-size="4.0" text-anchor="middle" fill="#555" >40</text><line x1="373.35" y1="91.1" x2="373.35" y2="93.5" stroke="#222" stroke-width="0.75"/><text x="373.35" y="98.8" font-size="4.0" text-anchor="middle" fill="#555" >60</text><line x1="391.2" y1="91.1" x2="391.2" y2="93.5" stroke="#222" stroke-width="0.75"/><text x="391.2" y="98.8" font-size="4.0" text-anchor="middle" fill="#555" >80</text><g fill="#9eaef8" stroke="#0f28ec" stroke-width="1.0"><circle cx="340.5" cy="17.5" r="1.3"/><circle cx="341.4" cy="25.1" r="1.3"/><circle cx="347.7" cy="25.6" r="1.3"/><circle cx="352.9" cy="29.3" r="1.3"/><circle cx="321.8" cy="30.7" r="1.3"/><circle cx="341.4" cy="33.8" r="1.3"/><circle cx="358.2" cy="32.3" r="1.3"/><circle cx="364.4" cy="30.6" r="1.3"/><circle cx="363.7" cy="33.5" r="1.3"/><circle cx="360.8" cy="35.2" r="1.3"/><circle cx="371.5" cy="26.6" r="1.3"/><circle cx="376.1" cy="29.3" r="1.3"/><circle cx="390.1" cy="29.5" r="1.3"/><circle cx="357.2" cy="38.1" r="1.3"/><circle cx="359.4" cy="39.5" r="1.3"/><circle cx="328" cy="38.8" r="1.3"/><circle cx="332.3" cy="40" r="1.3"/><circle cx="338.8" cy="38.1" r="1.3"/><circle cx="337.6" cy="40.7" r="1.3"/><circle cx="341" cy="40.5" r="1.3"/><circle cx="345.3" cy="37.4" r="1.3"/><circle cx="348.4" cy="38.8" r="1.3"/><circle cx="344.5" cy="42" r="1.3"/><circle cx="342.4" cy="44.1" r="1.3"/><circle cx="329.8" cy="43.4" r="1.3"/><circle cx="323.4" cy="40.7" r="1.3"/><circle cx="321.5" cy="42" r="1.3"/><circle cx="321.8" cy="45.6" r="1.3"/><circle cx="326.2" cy="46.7" r="1.3"/><circle cx="320.5" cy="49.2" r="1.3"/><circle cx="324.8" cy="48.9" r="1.3"/><circle cx="331.6" cy="48.5" r="1.3"/><circle cx="335.9" cy="47.8" r="1.3"/><circle cx="338" cy="48.9" r="1.3"/><circle cx="343.8" cy="51.5" r="1.3"/><circle cx="327" cy="51.8" r="1.3"/><circle cx="334.2" cy="52.9" r="1.3"/><circle cx="339.5" cy="52.9" r="1.3"/><circle cx="353.6" cy="52.9" r="1.3"/><circle cx="359" cy="54.4" r="1.3"/><circle cx="346" cy="54.4" r="1.3"/><circle cx="321.1" cy="51.3" r="1.3"/><circle cx="326.2" cy="51.6" r="1.3"/><circle cx="334.2" cy="52.9" r="1.3"/><circle cx="339.4" cy="52.9" r="1.3"/><circle cx="343.8" cy="51.3" r="1.3"/><circle cx="346.7" cy="55.1" r="1.3"/><circle cx="353.5" cy="52.9" r="1.3"/><circle cx="359.1" cy="54.8" r="1.3"/><circle cx="322.2" cy="56.4" r="1.3"/><circle cx="325.4" cy="58.3" r="1.3"/><circle cx="321.1" cy="61.5" r="1.3"/><circle cx="329.1" cy="62" r="1.3"/><circle cx="332.3" cy="61.5" r="1.3"/><circle cx="338.7" cy="62" r="1.3"/><circle cx="336.6" cy="64.4" r="1.3"/><circle cx="331.3" cy="66.8" r="1.3"/><circle cx="343.8" cy="66.5" r="1.3"/><circle cx="321.4" cy="66" r="1.3"/><circle cx="324.6" cy="67.6" r="1.3"/><circle cx="339.4" cy="69.2" r="1.3"/><circle cx="335" cy="70.8" r="1.3"/><circle cx="327.5" cy="72.1" r="1.3"/><circle cx="341.4" cy="73.2" r="1.3"/><circle cx="344.6" cy="74.8" r="1.3"/><circle cx="335.8" cy="75.6" r="1.3"/><circle cx="351" cy="77.2" r="1.3"/><circle cx="365.2" cy="77.6" r="1.3"/><circle cx="345.9" cy="79.2" r="1.3"/><circle cx="338.2" cy="80.1" r="1.3"/><circle cx="354.6" cy="80.9" r="1.3"/><circle cx="334.2" cy="83.7" r="1.3"/><circle cx="323.5" cy="36.5" r="1.3"/><circle cx="320.6" cy="38.5" r="1.3"/><circle cx="330.5" cy="45.5" r="1.3"/><circle cx="336" cy="44" r="1.3"/><circle cx="333.5" cy="50.5" r="1.3"/><circle cx="321.2" cy="60.35" r="1.3"/><circle cx="320.33" cy="47.68" r="1.3"/><circle cx="320.2" cy="71.52" r="1.3"/><circle cx="322.56" cy="54.34" r="1.3"/><circle cx="321.66" cy="62.32" r="1.3"/><circle cx="321.1" cy="56.84" r="1.3"/><circle cx="322.33" cy="58.63" r="1.3"/><circle cx="321.81" cy="46.11" r="1.3"/><circle cx="319.84" cy="87.47" r="1.3"/><circle cx="321.4" cy="52.56" r="1.3"/><circle cx="323.69" cy="48.15" r="1.3"/><circle cx="323.53" cy="73.94" r="1.3"/><circle cx="320.23" cy="80.21" r="1.3"/><circle cx="322.15" cy="83.34" r="1.3"/><circle cx="322.26" cy="88.37" r="1.3"/><circle cx="321.35" cy="81.46" r="1.3"/><circle cx="321.13" cy="43.98" r="1.3"/><circle cx="323.06" cy="68.59" r="1.3"/><circle cx="320.33" cy="77.93" r="1.3"/><circle cx="322.25" cy="80.27" r="1.3"/><circle cx="323.62" cy="52.61" r="1.3"/><circle cx="320.24" cy="62.45" r="1.3"/><circle cx="322" cy="49.73" r="1.3"/><circle cx="323.5" cy="65.42" r="1.3"/><circle cx="323.66" cy="78.16" r="1.3"/><circle cx="323.44" cy="43.57" r="1.3"/><circle cx="323.14" cy="56.04" r="1.3"/><circle cx="322.66" cy="70.87" r="1.3"/><circle cx="321.39" cy="69.21" r="1.3"/><circle cx="320.35" cy="64.65" r="1.3"/><circle cx="324.06" cy="81.5" r="1.3"/><circle cx="321.61" cy="86.48" r="1.3"/><circle cx="323" cy="85.29" r="1.3"/><circle cx="321.9" cy="66.78" r="1.3"/><circle cx="321.58" cy="75.29" r="1.3"/><circle cx="320.39" cy="42.63" r="1.3"/><circle cx="320.46" cy="54.34" r="1.3"/><circle cx="321.06" cy="73.91" r="1.3"/><circle cx="319.82" cy="50.68" r="1.3"/><circle cx="322.95" cy="60.54" r="1.3"/><circle cx="324.92" cy="56.68" r="1.3"/><circle cx="331.81" cy="74.77" r="1.3"/><circle cx="325.19" cy="66.45" r="1.3"/><circle cx="326.63" cy="81.12" r="1.3"/><circle cx="328.79" cy="81.32" r="1.3"/><circle cx="328.91" cy="65.26" r="1.3"/><circle cx="328.34" cy="73.69" r="1.3"/><circle cx="324.8" cy="83.62" r="1.3"/><circle cx="328.93" cy="70.71" r="1.3"/><circle cx="324.83" cy="73.3" r="1.3"/><circle cx="328.49" cy="75.48" r="1.3"/><circle cx="326.89" cy="70.77" r="1.3"/><circle cx="329.45" cy="86.49" r="1.3"/><circle cx="327.35" cy="66.75" r="1.3"/><circle cx="330.91" cy="79.27" r="1.3"/><circle cx="330.84" cy="84.5" r="1.3"/><circle cx="326.58" cy="64.24" r="1.3"/><circle cx="332.02" cy="81.34" r="1.3"/><circle cx="328.29" cy="83.65" r="1.3"/><circle cx="331.62" cy="72.24" r="1.3"/><circle cx="328.65" cy="77.53" r="1.3"/><circle cx="325.6" cy="86" r="1.3"/><circle cx="325.28" cy="59.3" r="1.3"/><circle cx="326.59" cy="76.34" r="1.3"/><circle cx="324.78" cy="38.53" r="1.3"/><circle cx="319.92" cy="53.98" r="1.3"/><circle cx="320.76" cy="38.17" r="1.3"/><circle cx="323.19" cy="42.22" r="1.3"/><circle cx="324.43" cy="40.17" r="1.3"/><circle cx="324.79" cy="41.75" r="1.3"/><circle cx="322.93" cy="52.78" r="1.3"/><circle cx="323.36" cy="52.63" r="1.3"/><circle cx="323.48" cy="36.87" r="1.3"/><circle cx="324.38" cy="46.61" r="1.3"/><circle cx="321.42" cy="39.42" r="1.3"/><circle cx="324.22" cy="46.49" r="1.3"/><circle cx="324.68" cy="49.93" r="1.3"/><circle cx="324.8" cy="46.19" r="1.3"/></g><rect x="413.2" y="13.8" width="75.3" height="76.7" fill="#ebebeb" /><line x1="424.36" y1="13.8" x2="424.36" y2="90.5" stroke="#fafafa" stroke-width="0.55"/><line x1="442.09" y1="13.8" x2="442.09" y2="90.5" stroke="#fafafa" stroke-width="0.55"/><line x1="459.81" y1="13.8" x2="459.81" y2="90.5" stroke="#fafafa" stroke-width="0.55"/><line x1="477.54" y1="13.8" x2="477.54" y2="90.5" stroke="#fafafa" stroke-width="0.55"/><line x1="413.2" y1="24.02" x2="488.5" y2="24.02" stroke="#fafafa" stroke-width="0.55"/><line x1="413.2" y1="38.06" x2="488.5" y2="38.06" stroke="#fafafa" stroke-width="0.55"/><line x1="413.2" y1="52.1" x2="488.5" y2="52.1" stroke="#fafafa" stroke-width="0.55"/><line x1="413.2" y1="66.14" x2="488.5" y2="66.14" stroke="#fafafa" stroke-width="0.55"/><line x1="413.2" y1="80.18" x2="488.5" y2="80.18" stroke="#fafafa" stroke-width="0.55"/><line x1="415.5" y1="13.8" x2="415.5" y2="90.5" stroke="#ffffff" stroke-width="0.95"/><line x1="433.23" y1="13.8" x2="433.23" y2="90.5" stroke="#ffffff" stroke-width="0.95"/><line x1="450.95" y1="13.8" x2="450.95" y2="90.5" stroke="#ffffff" stroke-width="0.95"/><line x1="468.67" y1="13.8" x2="468.67" y2="90.5" stroke="#ffffff" stroke-width="0.95"/><line x1="486.4" y1="13.8" x2="486.4" y2="90.5" stroke="#ffffff" stroke-width="0.95"/><line x1="413.2" y1="87.2" x2="488.5" y2="87.2" stroke="#ffffff" stroke-width="0.95"/><line x1="413.2" y1="73.16" x2="488.5" y2="73.16" stroke="#ffffff" stroke-width="0.95"/><line x1="413.2" y1="59.12" x2="488.5" y2="59.12" stroke="#ffffff" stroke-width="0.95"/><line x1="413.2" y1="45.08" x2="488.5" y2="45.08" stroke="#ffffff" stroke-width="0.95"/><line x1="413.2" y1="31.04" x2="488.5" y2="31.04" stroke="#ffffff" stroke-width="0.95"/><line x1="413.2" y1="17" x2="488.5" y2="17" stroke="#ffffff" stroke-width="0.95"/><line x1="410.7" y1="87.2" x2="413.2" y2="87.2" stroke="#222" stroke-width="0.75"/><text x="408.2" y="88.65" font-size="4.0" text-anchor="end" fill="#555" >0</text><line x1="410.7" y1="73.16" x2="413.2" y2="73.16" stroke="#222" stroke-width="0.75"/><text x="408.2" y="74.61" font-size="4.0" text-anchor="end" fill="#555" >5</text><line x1="410.7" y1="59.12" x2="413.2" y2="59.12" stroke="#222" stroke-width="0.75"/><text x="408.2" y="60.57" font-size="4.0" text-anchor="end" fill="#555" >10</text><line x1="410.7" y1="45.08" x2="413.2" y2="45.08" stroke="#222" stroke-width="0.75"/><text x="408.2" y="46.53" font-size="4.0" text-anchor="end" fill="#555" >15</text><line x1="410.7" y1="31.04" x2="413.2" y2="31.04" stroke="#222" stroke-width="0.75"/><text x="408.2" y="32.49" font-size="4.0" text-anchor="end" fill="#555" >20</text><line x1="410.7" y1="17" x2="413.2" y2="17" stroke="#222" stroke-width="0.75"/><text x="408.2" y="18.45" font-size="4.0" text-anchor="end" fill="#555" >25</text><line x1="415.5" y1="91.1" x2="415.5" y2="93.5" stroke="#222" stroke-width="0.75"/><text x="415.5" y="98.8" font-size="4.0" text-anchor="middle" fill="#555" >0</text><line x1="433.23" y1="91.1" x2="433.23" y2="93.5" stroke="#222" stroke-width="0.75"/><text x="433.23" y="98.8" font-size="4.0" text-anchor="middle" fill="#555" >20</text><line x1="450.95" y1="91.1" x2="450.95" y2="93.5" stroke="#222" stroke-width="0.75"/><text x="450.95" y="98.8" font-size="4.0" text-anchor="middle" fill="#555" >40</text><line x1="468.67" y1="91.1" x2="468.67" y2="93.5" stroke="#222" stroke-width="0.75"/><text x="468.67" y="98.8" font-size="4.0" text-anchor="middle" fill="#555" >60</text><line x1="486.4" y1="91.1" x2="486.4" y2="93.5" stroke="#222" stroke-width="0.75"/><text x="486.4" y="98.8" font-size="4.0" text-anchor="middle" fill="#555" >80</text><g fill="#9eaef8" stroke="#0f28ec" stroke-width="1.0"><circle cx="485.4" cy="17.5" r="1.3"/><circle cx="436.4" cy="24.8" r="1.3"/><circle cx="466.6" cy="26.3" r="1.3"/><circle cx="471.2" cy="27" r="1.3"/><circle cx="437.4" cy="31.3" r="1.3"/><circle cx="439.5" cy="30.5" r="1.3"/><circle cx="443.1" cy="31" r="1.3"/><circle cx="454.4" cy="30.5" r="1.3"/><circle cx="459.4" cy="32.5" r="1.3"/><circle cx="458.7" cy="33.3" r="1.3"/><circle cx="448.2" cy="35.2" r="1.3"/><circle cx="434.1" cy="34.8" r="1.3"/><circle cx="425.1" cy="36.9" r="1.3"/><circle cx="437.4" cy="37.4" r="1.3"/><circle cx="456.1" cy="37.4" r="1.3"/><circle cx="438.8" cy="39.3" r="1.3"/><circle cx="440.3" cy="40" r="1.3"/><circle cx="436.7" cy="41" r="1.3"/><circle cx="419.1" cy="41" r="1.3"/><circle cx="435.2" cy="43.1" r="1.3"/><circle cx="439.3" cy="43.9" r="1.3"/><circle cx="422.7" cy="45.3" r="1.3"/><circle cx="431.3" cy="49.2" r="1.3"/><circle cx="435.2" cy="48.6" r="1.3"/><circle cx="441.4" cy="48.6" r="1.3"/><circle cx="442" cy="47.9" r="1.3"/><circle cx="448.9" cy="48.2" r="1.3"/><circle cx="420.5" cy="50.8" r="1.3"/><circle cx="436" cy="52.5" r="1.3"/><circle cx="421.2" cy="52.9" r="1.3"/><circle cx="416.5" cy="53.9" r="1.3"/><circle cx="454" cy="53.9" r="1.3"/><circle cx="454" cy="54.3" r="1.3"/><circle cx="452.5" cy="59.4" r="1.3"/><circle cx="460.4" cy="61.2" r="1.3"/><circle cx="446.5" cy="56.2" r="1.3"/><circle cx="443.6" cy="57.9" r="1.3"/><circle cx="438.5" cy="57.2" r="1.3"/><circle cx="440" cy="60.5" r="1.3"/><circle cx="436" cy="52.6" r="1.3"/><circle cx="431.6" cy="50" r="1.3"/><circle cx="449.9" cy="65.9" r="1.3"/><circle cx="440.7" cy="65.1" r="1.3"/><circle cx="436.7" cy="67.3" r="1.3"/><circle cx="433.5" cy="69" r="1.3"/><circle cx="428.4" cy="69.5" r="1.3"/><circle cx="429.9" cy="76.2" r="1.3"/><circle cx="426.1" cy="75.2" r="1.3"/><circle cx="423" cy="73" r="1.3"/><circle cx="425.1" cy="83.9" r="1.3"/><circle cx="424" cy="84.5" r="1.3"/><circle cx="423" cy="82" r="1.3"/><circle cx="427.5" cy="72.5" r="1.3"/><circle cx="430.5" cy="60.5" r="1.3"/><circle cx="433" cy="58" r="1.3"/><circle cx="428.5" cy="56" r="1.3"/><circle cx="416.65" cy="61.03" r="1.3"/><circle cx="416.79" cy="76.34" r="1.3"/><circle cx="415.3" cy="56.48" r="1.3"/><circle cx="418.06" cy="63.83" r="1.3"/><circle cx="419.71" cy="82.29" r="1.3"/><circle cx="419.12" cy="76.2" r="1.3"/><circle cx="415.45" cy="59.99" r="1.3"/><circle cx="419.91" cy="52.55" r="1.3"/><circle cx="418.57" cy="83.87" r="1.3"/><circle cx="419.05" cy="67.83" r="1.3"/><circle cx="417.91" cy="65.43" r="1.3"/><circle cx="416.04" cy="65.08" r="1.3"/><circle cx="417.54" cy="55.75" r="1.3"/><circle cx="417.4" cy="60.14" r="1.3"/><circle cx="415.35" cy="75.37" r="1.3"/><circle cx="417.98" cy="62.24" r="1.3"/><circle cx="415.36" cy="78.72" r="1.3"/><circle cx="416.39" cy="80.87" r="1.3"/><circle cx="416.62" cy="72.99" r="1.3"/><circle cx="416.75" cy="69.31" r="1.3"/><circle cx="417.95" cy="80.13" r="1.3"/><circle cx="420.32" cy="56.02" r="1.3"/><circle cx="418.81" cy="54.08" r="1.3"/><circle cx="415.44" cy="82.95" r="1.3"/><circle cx="419.67" cy="74.8" r="1.3"/><circle cx="417.25" cy="85.9" r="1.3"/><circle cx="418.59" cy="57.12" r="1.3"/><circle cx="418.56" cy="72.86" r="1.3"/><circle cx="419.98" cy="78.32" r="1.3"/><circle cx="419.17" cy="63.23" r="1.3"/><circle cx="416.12" cy="57.47" r="1.3"/><circle cx="415.4" cy="52.19" r="1.3"/><circle cx="416.97" cy="53.48" r="1.3"/><circle cx="417.24" cy="79.34" r="1.3"/><circle cx="419.28" cy="70.71" r="1.3"/><circle cx="418.07" cy="68.73" r="1.3"/><circle cx="417.45" cy="82.51" r="1.3"/><circle cx="417.23" cy="74.37" r="1.3"/><circle cx="416.88" cy="70.83" r="1.3"/><circle cx="420.3" cy="59.73" r="1.3"/><circle cx="419.26" cy="86.75" r="1.3"/><circle cx="417.06" cy="66.77" r="1.3"/><circle cx="416.93" cy="85.18" r="1.3"/><circle cx="422.11" cy="84.97" r="1.3"/><circle cx="421.37" cy="59.09" r="1.3"/><circle cx="425.83" cy="73.23" r="1.3"/><circle cx="427.78" cy="65.79" r="1.3"/><circle cx="424.81" cy="67.84" r="1.3"/><circle cx="424.59" cy="53.8" r="1.3"/><circle cx="421.75" cy="56.18" r="1.3"/><circle cx="433.36" cy="64.38" r="1.3"/><circle cx="421.76" cy="74.57" r="1.3"/><circle cx="426.1" cy="62.5" r="1.3"/><circle cx="428.17" cy="55.08" r="1.3"/><circle cx="434.25" cy="58.7" r="1.3"/><circle cx="428.56" cy="61.11" r="1.3"/><circle cx="431.91" cy="56.06" r="1.3"/><circle cx="424.12" cy="71.49" r="1.3"/><circle cx="426.43" cy="71.22" r="1.3"/><circle cx="422.83" cy="62.04" r="1.3"/><circle cx="421.05" cy="64.52" r="1.3"/><circle cx="422.13" cy="79.81" r="1.3"/><circle cx="424.17" cy="58.5" r="1.3"/><circle cx="430.77" cy="59.13" r="1.3"/><circle cx="424.63" cy="64.01" r="1.3"/><circle cx="428.81" cy="67.24" r="1.3"/><circle cx="436.38" cy="61.68" r="1.3"/><circle cx="431.97" cy="62.69" r="1.3"/><circle cx="433.29" cy="67.41" r="1.3"/><circle cx="423.4" cy="77.05" r="1.3"/><circle cx="420.56" cy="53.17" r="1.3"/><circle cx="426.93" cy="58.33" r="1.3"/><circle cx="426.15" cy="56.46" r="1.3"/><circle cx="421.34" cy="67.39" r="1.3"/><circle cx="430.54" cy="64.76" r="1.3"/></g><rect x="508.2" y="14.1" width="76" height="76.4" fill="#ebebeb" /><line x1="519.34" y1="14.1" x2="519.34" y2="90.5" stroke="#fafafa" stroke-width="0.55"/><line x1="537.21" y1="14.1" x2="537.21" y2="90.5" stroke="#fafafa" stroke-width="0.55"/><line x1="555.09" y1="14.1" x2="555.09" y2="90.5" stroke="#fafafa" stroke-width="0.55"/><line x1="572.96" y1="14.1" x2="572.96" y2="90.5" stroke="#fafafa" stroke-width="0.55"/><line x1="508.2" y1="29.49" x2="584.2" y2="29.49" stroke="#fafafa" stroke-width="0.55"/><line x1="508.2" y1="46.06" x2="584.2" y2="46.06" stroke="#fafafa" stroke-width="0.55"/><line x1="508.2" y1="62.64" x2="584.2" y2="62.64" stroke="#fafafa" stroke-width="0.55"/><line x1="508.2" y1="79.21" x2="584.2" y2="79.21" stroke="#fafafa" stroke-width="0.55"/><line x1="510.4" y1="14.1" x2="510.4" y2="90.5" stroke="#ffffff" stroke-width="0.95"/><line x1="528.27" y1="14.1" x2="528.27" y2="90.5" stroke="#ffffff" stroke-width="0.95"/><line x1="546.15" y1="14.1" x2="546.15" y2="90.5" stroke="#ffffff" stroke-width="0.95"/><line x1="564.02" y1="14.1" x2="564.02" y2="90.5" stroke="#ffffff" stroke-width="0.95"/><line x1="581.9" y1="14.1" x2="581.9" y2="90.5" stroke="#ffffff" stroke-width="0.95"/><line x1="508.2" y1="87.5" x2="584.2" y2="87.5" stroke="#ffffff" stroke-width="0.95"/><line x1="508.2" y1="70.92" x2="584.2" y2="70.92" stroke="#ffffff" stroke-width="0.95"/><line x1="508.2" y1="54.35" x2="584.2" y2="54.35" stroke="#ffffff" stroke-width="0.95"/><line x1="508.2" y1="37.77" x2="584.2" y2="37.77" stroke="#ffffff" stroke-width="0.95"/><line x1="508.2" y1="21.2" x2="584.2" y2="21.2" stroke="#ffffff" stroke-width="0.95"/><line x1="505.7" y1="87.5" x2="508.2" y2="87.5" stroke="#222" stroke-width="0.75"/><text x="503.2" y="88.95" font-size="4.0" text-anchor="end" fill="#555" >0</text><line x1="505.7" y1="70.92" x2="508.2" y2="70.92" stroke="#222" stroke-width="0.75"/><text x="503.2" y="72.38" font-size="4.0" text-anchor="end" fill="#555" >5</text><line x1="505.7" y1="54.35" x2="508.2" y2="54.35" stroke="#222" stroke-width="0.75"/><text x="503.2" y="55.8" font-size="4.0" text-anchor="end" fill="#555" >10</text><line x1="505.7" y1="37.77" x2="508.2" y2="37.77" stroke="#222" stroke-width="0.75"/><text x="503.2" y="39.23" font-size="4.0" text-anchor="end" fill="#555" >15</text><line x1="505.7" y1="21.2" x2="508.2" y2="21.2" stroke="#222" stroke-width="0.75"/><text x="503.2" y="22.65" font-size="4.0" text-anchor="end" fill="#555" >20</text><line x1="510.4" y1="91.1" x2="510.4" y2="93.5" stroke="#222" stroke-width="0.75"/><text x="510.4" y="98.8" font-size="4.0" text-anchor="middle" fill="#555" >0</text><line x1="528.27" y1="91.1" x2="528.27" y2="93.5" stroke="#222" stroke-width="0.75"/><text x="528.27" y="98.8" font-size="4.0" text-anchor="middle" fill="#555" >20</text><line x1="546.15" y1="91.1" x2="546.15" y2="93.5" stroke="#222" stroke-width="0.75"/><text x="546.15" y="98.8" font-size="4.0" text-anchor="middle" fill="#555" >40</text><line x1="564.02" y1="91.1" x2="564.02" y2="93.5" stroke="#222" stroke-width="0.75"/><text x="564.02" y="98.8" font-size="4.0" text-anchor="middle" fill="#555" >60</text><line x1="581.9" y1="91.1" x2="581.9" y2="93.5" stroke="#222" stroke-width="0.75"/><text x="581.9" y="98.8" font-size="4.0" text-anchor="middle" fill="#555" >80</text><g fill="#9eaef8" stroke="#0f28ec" stroke-width="1.0"><circle cx="580.9" cy="21.2" r="1.3"/><circle cx="555.9" cy="17.5" r="1.3"/><circle cx="544.3" cy="20.4" r="1.3"/><circle cx="543.5" cy="24.4" r="1.3"/><circle cx="554.3" cy="24.7" r="1.3"/><circle cx="536.4" cy="28" r="1.3"/><circle cx="533.8" cy="30.5" r="1.3"/><circle cx="529.2" cy="34.5" r="1.3"/><circle cx="532.1" cy="34.5" r="1.3"/><circle cx="512.5" cy="35.9" r="1.3"/><circle cx="513.6" cy="37.4" r="1.3"/><circle cx="522.3" cy="36.9" r="1.3"/><circle cx="528.5" cy="39.3" r="1.3"/><circle cx="535.5" cy="38.5" r="1.3"/><circle cx="545.3" cy="36.7" r="1.3"/><circle cx="549" cy="38.4" r="1.3"/><circle cx="551.5" cy="37.8" r="1.3"/><circle cx="555.1" cy="36.7" r="1.3"/><circle cx="566.7" cy="37.4" r="1.3"/><circle cx="541.7" cy="40" r="1.3"/><circle cx="534.5" cy="41.7" r="1.3"/><circle cx="518" cy="43.1" r="1.3"/><circle cx="532.1" cy="44.3" r="1.3"/><circle cx="537.4" cy="45.7" r="1.3"/><circle cx="550" cy="44.3" r="1.3"/><circle cx="523" cy="47.2" r="1.3"/><circle cx="526.6" cy="48.9" r="1.3"/><circle cx="533.5" cy="47.8" r="1.3"/><circle cx="515.8" cy="48.6" r="1.3"/><circle cx="513.4" cy="51.1" r="1.3"/><circle cx="516.5" cy="51.1" r="1.3"/><circle cx="520.1" cy="52.2" r="1.3"/><circle cx="530.2" cy="51.5" r="1.3"/><circle cx="534.5" cy="52.2" r="1.3"/><circle cx="562.3" cy="49.2" r="1.3"/><circle cx="538.4" cy="53.9" r="1.3"/><circle cx="550" cy="53.9" r="1.3"/><circle cx="550" cy="54.3" r="1.3"/><circle cx="548" cy="68" r="1.3"/><circle cx="538.1" cy="55" r="1.3"/><circle cx="535.3" cy="56.9" r="1.3"/><circle cx="531.7" cy="55.8" r="1.3"/><circle cx="533.1" cy="58.6" r="1.3"/><circle cx="530.9" cy="63" r="1.3"/><circle cx="526.6" cy="61.5" r="1.3"/><circle cx="526.6" cy="64.4" r="1.3"/><circle cx="536.4" cy="64.4" r="1.3"/><circle cx="539.3" cy="63.4" r="1.3"/><circle cx="529.5" cy="73.3" r="1.3"/><circle cx="529.5" cy="80" r="1.3"/><circle cx="524.9" cy="75.6" r="1.3"/><circle cx="523.4" cy="79.3" r="1.3"/><circle cx="525.2" cy="82.4" r="1.3"/><circle cx="523" cy="70.9" r="1.3"/><circle cx="519.4" cy="73" r="1.3"/><circle cx="520.1" cy="52.6" r="1.3"/><circle cx="523.7" cy="56.9" r="1.3"/><circle cx="522.3" cy="55" r="1.3"/><circle cx="512.56" cy="67.79" r="1.3"/><circle cx="515.21" cy="56.26" r="1.3"/><circle cx="512.39" cy="54.69" r="1.3"/><circle cx="513.65" cy="71.61" r="1.3"/><circle cx="512.02" cy="62.5" r="1.3"/><circle cx="511.1" cy="70.83" r="1.3"/><circle cx="514.49" cy="65.1" r="1.3"/><circle cx="511.73" cy="57.44" r="1.3"/><circle cx="513.93" cy="53.68" r="1.3"/><circle cx="511.43" cy="66.21" r="1.3"/><circle cx="512.18" cy="81.52" r="1.3"/><circle cx="511.83" cy="50.41" r="1.3"/><circle cx="514.62" cy="70.95" r="1.3"/><circle cx="511.1" cy="82.38" r="1.3"/><circle cx="513.43" cy="50.32" r="1.3"/><circle cx="514.6" cy="80.88" r="1.3"/><circle cx="511.37" cy="79.66" r="1.3"/><circle cx="515.11" cy="51.87" r="1.3"/><circle cx="510.82" cy="56.15" r="1.3"/><circle cx="513.38" cy="56.29" r="1.3"/><circle cx="513.49" cy="58.69" r="1.3"/><circle cx="513.56" cy="63.58" r="1.3"/><circle cx="513.62" cy="73.81" r="1.3"/><circle cx="512.77" cy="79.43" r="1.3"/><circle cx="514.49" cy="70.19" r="1.3"/><circle cx="514.35" cy="61.33" r="1.3"/><circle cx="514.22" cy="85.44" r="1.3"/><circle cx="510.97" cy="64.21" r="1.3"/><circle cx="512.57" cy="76.68" r="1.3"/><circle cx="515.44" cy="48.91" r="1.3"/><circle cx="512.92" cy="74.65" r="1.3"/><circle cx="514.43" cy="77.89" r="1.3"/><circle cx="514.5" cy="75.86" r="1.3"/><circle cx="511.32" cy="73.61" r="1.3"/><circle cx="512.56" cy="86.33" r="1.3"/><circle cx="512.59" cy="83.56" r="1.3"/><circle cx="515.2" cy="79.74" r="1.3"/><circle cx="511.36" cy="69.55" r="1.3"/><circle cx="513.54" cy="60.02" r="1.3"/><circle cx="511.27" cy="59.7" r="1.3"/><circle cx="510.93" cy="67.46" r="1.3"/><circle cx="512.01" cy="84.53" r="1.3"/><circle cx="515.24" cy="64.09" r="1.3"/><circle cx="514.64" cy="60.48" r="1.3"/><circle cx="515.07" cy="83.21" r="1.3"/><circle cx="513.07" cy="52.69" r="1.3"/><circle cx="516.43" cy="50.48" r="1.3"/><circle cx="517.43" cy="56.6" r="1.3"/><circle cx="520.1" cy="62.39" r="1.3"/><circle cx="516.58" cy="62.81" r="1.3"/><circle cx="524.92" cy="56.59" r="1.3"/><circle cx="521.45" cy="55.1" r="1.3"/><circle cx="516.49" cy="77.79" r="1.3"/><circle cx="517.41" cy="80.16" r="1.3"/><circle cx="515.75" cy="61.27" r="1.3"/><circle cx="516.09" cy="72.53" r="1.3"/><circle cx="519.74" cy="56.56" r="1.3"/><circle cx="522.25" cy="61.17" r="1.3"/><circle cx="517.86" cy="69.47" r="1.3"/><circle cx="519.33" cy="66.72" r="1.3"/><circle cx="516.51" cy="74.57" r="1.3"/><circle cx="519.28" cy="54.07" r="1.3"/><circle cx="518.3" cy="77.3" r="1.3"/><circle cx="518.59" cy="72.8" r="1.3"/><circle cx="517.97" cy="60.1" r="1.3"/><circle cx="519.91" cy="51.49" r="1.3"/></g><rect x="602.2" y="14.1" width="77.8" height="76.4" fill="#ebebeb" /><line x1="613.12" y1="14.1" x2="613.12" y2="90.5" stroke="#fafafa" stroke-width="0.55"/><line x1="631.38" y1="14.1" x2="631.38" y2="90.5" stroke="#fafafa" stroke-width="0.55"/><line x1="649.62" y1="14.1" x2="649.62" y2="90.5" stroke="#fafafa" stroke-width="0.55"/><line x1="667.88" y1="14.1" x2="667.88" y2="90.5" stroke="#fafafa" stroke-width="0.55"/><line x1="602.2" y1="22.01" x2="680" y2="22.01" stroke="#fafafa" stroke-width="0.55"/><line x1="602.2" y1="37.23" x2="680" y2="37.23" stroke="#fafafa" stroke-width="0.55"/><line x1="602.2" y1="52.45" x2="680" y2="52.45" stroke="#fafafa" stroke-width="0.55"/><line x1="602.2" y1="67.67" x2="680" y2="67.67" stroke="#fafafa" stroke-width="0.55"/><line x1="602.2" y1="82.89" x2="680" y2="82.89" stroke="#fafafa" stroke-width="0.55"/><line x1="604" y1="14.1" x2="604" y2="90.5" stroke="#ffffff" stroke-width="0.95"/><line x1="622.25" y1="14.1" x2="622.25" y2="90.5" stroke="#ffffff" stroke-width="0.95"/><line x1="640.5" y1="14.1" x2="640.5" y2="90.5" stroke="#ffffff" stroke-width="0.95"/><line x1="658.75" y1="14.1" x2="658.75" y2="90.5" stroke="#ffffff" stroke-width="0.95"/><line x1="677" y1="14.1" x2="677" y2="90.5" stroke="#ffffff" stroke-width="0.95"/><line x1="602.2" y1="90.5" x2="680" y2="90.5" stroke="#ffffff" stroke-width="0.95"/><line x1="602.2" y1="75.28" x2="680" y2="75.28" stroke="#ffffff" stroke-width="0.95"/><line x1="602.2" y1="60.06" x2="680" y2="60.06" stroke="#ffffff" stroke-width="0.95"/><line x1="602.2" y1="44.84" x2="680" y2="44.84" stroke="#ffffff" stroke-width="0.95"/><line x1="602.2" y1="29.62" x2="680" y2="29.62" stroke="#ffffff" stroke-width="0.95"/><line x1="602.2" y1="14.4" x2="680" y2="14.4" stroke="#ffffff" stroke-width="0.95"/><line x1="599.7" y1="90.5" x2="602.2" y2="90.5" stroke="#222" stroke-width="0.75"/><text x="597.2" y="91.95" font-size="4.0" text-anchor="end" fill="#555" >0</text><line x1="599.7" y1="75.28" x2="602.2" y2="75.28" stroke="#222" stroke-width="0.75"/><text x="597.2" y="76.73" font-size="4.0" text-anchor="end" fill="#555" >1</text><line x1="599.7" y1="60.06" x2="602.2" y2="60.06" stroke="#222" stroke-width="0.75"/><text x="597.2" y="61.51" font-size="4.0" text-anchor="end" fill="#555" >2</text><line x1="599.7" y1="44.84" x2="602.2" y2="44.84" stroke="#222" stroke-width="0.75"/><text x="597.2" y="46.29" font-size="4.0" text-anchor="end" fill="#555" >3</text><line x1="599.7" y1="29.62" x2="602.2" y2="29.62" stroke="#222" stroke-width="0.75"/><text x="597.2" y="31.07" font-size="4.0" text-anchor="end" fill="#555" >4</text><line x1="599.7" y1="14.4" x2="602.2" y2="14.4" stroke="#222" stroke-width="0.75"/><text x="597.2" y="15.85" font-size="4.0" text-anchor="end" fill="#555" >5</text><line x1="604" y1="91.1" x2="604" y2="93.5" stroke="#222" stroke-width="0.75"/><text x="604" y="98.8" font-size="4.0" text-anchor="middle" fill="#555" >0</text><line x1="622.25" y1="91.1" x2="622.25" y2="93.5" stroke="#222" stroke-width="0.75"/><text x="622.25" y="98.8" font-size="4.0" text-anchor="middle" fill="#555" >20</text><line x1="640.5" y1="91.1" x2="640.5" y2="93.5" stroke="#222" stroke-width="0.75"/><text x="640.5" y="98.8" font-size="4.0" text-anchor="middle" fill="#555" >40</text><line x1="658.75" y1="91.1" x2="658.75" y2="93.5" stroke="#222" stroke-width="0.75"/><text x="658.75" y="98.8" font-size="4.0" text-anchor="middle" fill="#555" >60</text><line x1="677" y1="91.1" x2="677" y2="93.5" stroke="#222" stroke-width="0.75"/><text x="677" y="98.8" font-size="4.0" text-anchor="middle" fill="#555" >80</text><g fill="#9eaef8" stroke="#0f28ec" stroke-width="1.0"><circle cx="632.4" cy="17.5" r="1.3"/><circle cx="676.1" cy="24.7" r="1.3"/><circle cx="656.9" cy="22.2" r="1.3"/><circle cx="649.7" cy="24.7" r="1.3"/><circle cx="649" cy="28" r="1.3"/><circle cx="645.8" cy="26.6" r="1.3"/><circle cx="661.7" cy="30.2" r="1.3"/><circle cx="644" cy="30.9" r="1.3"/><circle cx="637.8" cy="23" r="1.3"/><circle cx="620.6" cy="24" r="1.3"/><circle cx="626" cy="23.7" r="1.3"/><circle cx="626.7" cy="25.1" r="1.3"/><circle cx="623.3" cy="27.6" r="1.3"/><circle cx="624.2" cy="29.5" r="1.3"/><circle cx="628.1" cy="30.2" r="1.3"/><circle cx="628.8" cy="32.3" r="1.3"/><circle cx="625.9" cy="33.3" r="1.3"/><circle cx="630.3" cy="33.8" r="1.3"/><circle cx="607.9" cy="26.3" r="1.3"/><circle cx="605" cy="29.9" r="1.3"/><circle cx="610.1" cy="28.7" r="1.3"/><circle cx="610.1" cy="31.6" r="1.3"/><circle cx="611.5" cy="33.3" r="1.3"/><circle cx="606.5" cy="35.2" r="1.3"/><circle cx="608.4" cy="36.7" r="1.3"/><circle cx="614.4" cy="35.6" r="1.3"/><circle cx="618" cy="36.7" r="1.3"/><circle cx="621.6" cy="35.9" r="1.3"/><circle cx="623" cy="37.4" r="1.3"/><circle cx="628.8" cy="37.4" r="1.3"/><circle cx="638.6" cy="37.4" r="1.3"/><circle cx="633.4" cy="39.5" r="1.3"/><circle cx="644" cy="38.8" r="1.3"/><circle cx="642.2" cy="41.4" r="1.3"/><circle cx="628.1" cy="41.4" r="1.3"/><circle cx="623.8" cy="41.7" r="1.3"/><circle cx="631" cy="44.6" r="1.3"/><circle cx="628.8" cy="45.3" r="1.3"/><circle cx="622" cy="49.2" r="1.3"/><circle cx="629.5" cy="49.3" r="1.3"/><circle cx="643.2" cy="52.5" r="1.3"/><circle cx="643.2" cy="52.6" r="1.3"/><circle cx="629.5" cy="50.3" r="1.3"/><circle cx="625.2" cy="53.6" r="1.3"/><circle cx="623" cy="55.5" r="1.3"/><circle cx="620.9" cy="54" r="1.3"/><circle cx="618" cy="58.6" r="1.3"/><circle cx="618.7" cy="63.3" r="1.3"/><circle cx="615.1" cy="64.1" r="1.3"/><circle cx="625.2" cy="63.3" r="1.3"/><circle cx="630.3" cy="60.8" r="1.3"/><circle cx="636" cy="58.9" r="1.3"/><circle cx="639.6" cy="63.4" r="1.3"/><circle cx="650.4" cy="63.7" r="1.3"/><circle cx="614.1" cy="77.4" r="1.3"/><circle cx="614.1" cy="82.9" r="1.3"/><circle cx="616" cy="40" r="1.3"/><circle cx="612.5" cy="43.5" r="1.3"/><circle cx="617.5" cy="45" r="1.3"/><circle cx="614" cy="50" r="1.3"/><circle cx="608.03" cy="73.89" r="1.3"/><circle cx="608.45" cy="43.03" r="1.3"/><circle cx="604.82" cy="44.72" r="1.3"/><circle cx="606.17" cy="58.45" r="1.3"/><circle cx="604.68" cy="67.43" r="1.3"/><circle cx="606.19" cy="81.86" r="1.3"/><circle cx="604.01" cy="77.84" r="1.3"/><circle cx="606.65" cy="61.01" r="1.3"/><circle cx="607.15" cy="67.94" r="1.3"/><circle cx="607.91" cy="84.86" r="1.3"/><circle cx="609.23" cy="87.08" r="1.3"/><circle cx="609.05" cy="60.26" r="1.3"/><circle cx="604.39" cy="81.04" r="1.3"/><circle cx="609.46" cy="64.85" r="1.3"/><circle cx="604.39" cy="66.36" r="1.3"/><circle cx="606.13" cy="65.65" r="1.3"/><circle cx="608.51" cy="62.35" r="1.3"/><circle cx="607.06" cy="52.76" r="1.3"/><circle cx="609.37" cy="76.14" r="1.3"/><circle cx="608.81" cy="35.53" r="1.3"/><circle cx="608.4" cy="70.18" r="1.3"/><circle cx="607.54" cy="87.53" r="1.3"/><circle cx="604.99" cy="59.87" r="1.3"/><circle cx="603.96" cy="36.05" r="1.3"/><circle cx="606.72" cy="56.5" r="1.3"/><circle cx="606.83" cy="83.32" r="1.3"/><circle cx="604.52" cy="40.74" r="1.3"/><circle cx="606.47" cy="71.53" r="1.3"/><circle cx="604.73" cy="63.87" r="1.3"/><circle cx="609.05" cy="41.47" r="1.3"/><circle cx="604.27" cy="76.16" r="1.3"/><circle cx="605.29" cy="79.75" r="1.3"/><circle cx="607.78" cy="50.86" r="1.3"/><circle cx="604.38" cy="56.77" r="1.3"/><circle cx="609.38" cy="71.2" r="1.3"/><circle cx="606.34" cy="38.86" r="1.3"/><circle cx="604.47" cy="42.53" r="1.3"/><circle cx="608" cy="39.25" r="1.3"/><circle cx="607.78" cy="75.72" r="1.3"/><circle cx="603.94" cy="73.53" r="1.3"/><circle cx="607.7" cy="46.33" r="1.3"/><circle cx="606.34" cy="54.53" r="1.3"/><circle cx="608.64" cy="66.7" r="1.3"/><circle cx="605.94" cy="35.8" r="1.3"/><circle cx="605.5" cy="51.4" r="1.3"/><circle cx="607.82" cy="58.94" r="1.3"/><circle cx="604.51" cy="72.29" r="1.3"/><circle cx="605.23" cy="37.73" r="1.3"/><circle cx="609.46" cy="82.98" r="1.3"/><circle cx="604.15" cy="38.99" r="1.3"/><circle cx="604.39" cy="83.41" r="1.3"/><circle cx="605.97" cy="77.64" r="1.3"/><circle cx="605.77" cy="73.19" r="1.3"/><circle cx="605.1" cy="52.95" r="1.3"/><circle cx="606.64" cy="46.6" r="1.3"/><circle cx="608.84" cy="38.11" r="1.3"/><circle cx="605.64" cy="62.39" r="1.3"/><circle cx="607.11" cy="41.45" r="1.3"/><circle cx="606.47" cy="48.87" r="1.3"/><circle cx="607.6" cy="36.77" r="1.3"/><circle cx="605.14" cy="49.35" r="1.3"/><circle cx="609.23" cy="45.52" r="1.3"/><circle cx="607.37" cy="63.87" r="1.3"/><circle cx="605.09" cy="87.11" r="1.3"/><circle cx="607.49" cy="45.43" r="1.3"/><circle cx="608.05" cy="54.05" r="1.3"/><circle cx="606.41" cy="79.91" r="1.3"/><circle cx="608.07" cy="81.14" r="1.3"/><circle cx="605.97" cy="70.18" r="1.3"/><circle cx="605.69" cy="42.58" r="1.3"/><circle cx="606.23" cy="85.59" r="1.3"/><circle cx="609.15" cy="48.66" r="1.3"/><circle cx="608.01" cy="77.05" r="1.3"/><circle cx="608.93" cy="56.29" r="1.3"/><circle cx="610.42" cy="68.1" r="1.3"/><circle cx="611.74" cy="52.88" r="1.3"/><circle cx="613.56" cy="40.61" r="1.3"/><circle cx="612.19" cy="47.6" r="1.3"/><circle cx="609.97" cy="73.48" r="1.3"/><circle cx="617.03" cy="43.31" r="1.3"/><circle cx="609.58" cy="41.1" r="1.3"/><circle cx="615.18" cy="42.07" r="1.3"/><circle cx="611.31" cy="60.32" r="1.3"/><circle cx="616.3" cy="46.53" r="1.3"/><circle cx="610.25" cy="76.33" r="1.3"/><circle cx="611.63" cy="54.15" r="1.3"/><circle cx="609.97" cy="45.91" r="1.3"/><circle cx="613.33" cy="49.39" r="1.3"/><circle cx="612.31" cy="57.32" r="1.3"/><circle cx="610.58" cy="49.68" r="1.3"/><circle cx="610.5" cy="72.18" r="1.3"/><circle cx="614.05" cy="42.88" r="1.3"/><circle cx="610.86" cy="39.11" r="1.3"/><circle cx="619.26" cy="47.6" r="1.3"/><circle cx="618.62" cy="40.62" r="1.3"/><circle cx="610.66" cy="66.73" r="1.3"/><circle cx="610.29" cy="51.93" r="1.3"/><circle cx="616.61" cy="39.26" r="1.3"/><circle cx="613.42" cy="55" r="1.3"/><circle cx="610.98" cy="44.65" r="1.3"/><circle cx="619.74" cy="44.64" r="1.3"/><circle cx="615.06" cy="38.73" r="1.3"/><circle cx="616.97" cy="49.1" r="1.3"/></g><rect x="223.7" y="119" width="73.3" height="75.3" fill="#ebebeb" /><line x1="234.78" y1="119" x2="234.78" y2="194.3" stroke="#fafafa" stroke-width="0.55"/><line x1="251.52" y1="119" x2="251.52" y2="194.3" stroke="#fafafa" stroke-width="0.55"/><line x1="268.27" y1="119" x2="268.27" y2="194.3" stroke="#fafafa" stroke-width="0.55"/><line x1="285.02" y1="119" x2="285.02" y2="194.3" stroke="#fafafa" stroke-width="0.55"/><line x1="223.7" y1="136.45" x2="297" y2="136.45" stroke="#fafafa" stroke-width="0.55"/><line x1="223.7" y1="158.55" x2="297" y2="158.55" stroke="#fafafa" stroke-width="0.55"/><line x1="223.7" y1="180.65" x2="297" y2="180.65" stroke="#fafafa" stroke-width="0.55"/><line x1="226.4" y1="119" x2="226.4" y2="194.3" stroke="#ffffff" stroke-width="0.95"/><line x1="243.15" y1="119" x2="243.15" y2="194.3" stroke="#ffffff" stroke-width="0.95"/><line x1="259.9" y1="119" x2="259.9" y2="194.3" stroke="#ffffff" stroke-width="0.95"/><line x1="276.65" y1="119" x2="276.65" y2="194.3" stroke="#ffffff" stroke-width="0.95"/><line x1="293.4" y1="119" x2="293.4" y2="194.3" stroke="#ffffff" stroke-width="0.95"/><line x1="223.7" y1="191.7" x2="297" y2="191.7" stroke="#ffffff" stroke-width="0.95"/><line x1="223.7" y1="169.6" x2="297" y2="169.6" stroke="#ffffff" stroke-width="0.95"/><line x1="223.7" y1="147.5" x2="297" y2="147.5" stroke="#ffffff" stroke-width="0.95"/><line x1="223.7" y1="125.4" x2="297" y2="125.4" stroke="#ffffff" stroke-width="0.95"/><line x1="221.2" y1="191.7" x2="223.7" y2="191.7" stroke="#222" stroke-width="0.75"/><text x="218.7" y="193.15" font-size="4.0" text-anchor="end" fill="#555" >0</text><line x1="221.2" y1="169.6" x2="223.7" y2="169.6" stroke="#222" stroke-width="0.75"/><text x="218.7" y="171.05" font-size="4.0" text-anchor="end" fill="#555" >50</text><line x1="221.2" y1="147.5" x2="223.7" y2="147.5" stroke="#222" stroke-width="0.75"/><text x="218.7" y="148.95" font-size="4.0" text-anchor="end" fill="#555" >100</text><line x1="221.2" y1="125.4" x2="223.7" y2="125.4" stroke="#222" stroke-width="0.75"/><text x="218.7" y="126.85" font-size="4.0" text-anchor="end" fill="#555" >150</text><line x1="226.4" y1="194.9" x2="226.4" y2="197.3" stroke="#222" stroke-width="0.75"/><text x="226.4" y="202.6" font-size="4.0" text-anchor="middle" fill="#555" >0</text><line x1="243.15" y1="194.9" x2="243.15" y2="197.3" stroke="#222" stroke-width="0.75"/><text x="243.15" y="202.6" font-size="4.0" text-anchor="middle" fill="#555" >25</text><line x1="259.9" y1="194.9" x2="259.9" y2="197.3" stroke="#222" stroke-width="0.75"/><text x="259.9" y="202.6" font-size="4.0" text-anchor="middle" fill="#555" >50</text><line x1="276.65" y1="194.9" x2="276.65" y2="197.3" stroke="#222" stroke-width="0.75"/><text x="276.65" y="202.6" font-size="4.0" text-anchor="middle" fill="#555" >75</text><line x1="293.4" y1="194.9" x2="293.4" y2="197.3" stroke="#222" stroke-width="0.75"/><text x="293.4" y="202.6" font-size="4.0" text-anchor="middle" fill="#555" >100</text><g fill="#9eaef8" stroke="#0f28ec" stroke-width="1.0"><circle cx="249.18" cy="165.01" r="1.3"/><circle cx="250.11" cy="174.26" r="1.3"/><circle cx="236.53" cy="185.84" r="1.3"/><circle cx="241.26" cy="182.47" r="1.3"/><circle cx="244.68" cy="175.75" r="1.3"/><circle cx="236.15" cy="180.85" r="1.3"/><circle cx="237.41" cy="183.97" r="1.3"/><circle cx="239.59" cy="183.86" r="1.3"/><circle cx="236.31" cy="177.53" r="1.3"/><circle cx="249.81" cy="166.26" r="1.3"/><circle cx="235.49" cy="181.91" r="1.3"/><circle cx="237.63" cy="177.55" r="1.3"/><circle cx="242.62" cy="179.19" r="1.3"/><circle cx="247.27" cy="164.88" r="1.3"/><circle cx="228.14" cy="187.88" r="1.3"/><circle cx="234.51" cy="177.68" r="1.3"/><circle cx="251.23" cy="172.57" r="1.3"/><circle cx="231.01" cy="182.99" r="1.3"/><circle cx="251.8" cy="174.26" r="1.3"/><circle cx="232.35" cy="183.79" r="1.3"/><circle cx="242.2" cy="170.32" r="1.3"/><circle cx="238.56" cy="174.95" r="1.3"/><circle cx="234.34" cy="187.27" r="1.3"/><circle cx="243.63" cy="173.76" r="1.3"/><circle cx="241.94" cy="173.19" r="1.3"/><circle cx="239.69" cy="180.26" r="1.3"/><circle cx="243.14" cy="171.57" r="1.3"/><circle cx="246.26" cy="174.24" r="1.3"/><circle cx="240.22" cy="170.1" r="1.3"/><circle cx="248.55" cy="167.24" r="1.3"/><circle cx="241.4" cy="179.46" r="1.3"/><circle cx="235.26" cy="185.33" r="1.3"/><circle cx="243.52" cy="181.01" r="1.3"/><circle cx="232.59" cy="186.42" r="1.3"/><circle cx="248.72" cy="172.17" r="1.3"/><circle cx="246.19" cy="177.39" r="1.3"/><circle cx="232.43" cy="188.05" r="1.3"/><circle cx="234.37" cy="183.67" r="1.3"/><circle cx="252.77" cy="165.48" r="1.3"/><circle cx="240.75" cy="175.52" r="1.3"/><circle cx="240.94" cy="171.73" r="1.3"/><circle cx="247.37" cy="168.21" r="1.3"/><circle cx="228.75" cy="185.66" r="1.3"/><circle cx="243.55" cy="170.32" r="1.3"/><circle cx="231.53" cy="186.49" r="1.3"/><circle cx="246.87" cy="175.55" r="1.3"/><circle cx="228.45" cy="189.57" r="1.3"/><circle cx="238.42" cy="182.15" r="1.3"/><circle cx="226.93" cy="189.64" r="1.3"/><circle cx="246.47" cy="166.35" r="1.3"/><circle cx="245.35" cy="179.23" r="1.3"/><circle cx="251.5" cy="175.79" r="1.3"/><circle cx="251.76" cy="169.71" r="1.3"/><circle cx="245.78" cy="170.47" r="1.3"/><circle cx="233.29" cy="182.76" r="1.3"/><circle cx="244.47" cy="166.72" r="1.3"/><circle cx="240.2" cy="174.22" r="1.3"/><circle cx="238.55" cy="179.54" r="1.3"/><circle cx="234.24" cy="180.44" r="1.3"/><circle cx="235.54" cy="178.41" r="1.3"/><circle cx="245.3" cy="172.43" r="1.3"/><circle cx="239.67" cy="177.25" r="1.3"/><circle cx="228.08" cy="191.44" r="1.3"/><circle cx="237.59" cy="175.36" r="1.3"/><circle cx="237.29" cy="182.54" r="1.3"/><circle cx="244.95" cy="168.6" r="1.3"/><circle cx="252.8" cy="169.04" r="1.3"/><circle cx="249.92" cy="170.21" r="1.3"/><circle cx="241.93" cy="180.18" r="1.3"/><circle cx="238.28" cy="173.84" r="1.3"/><circle cx="251" cy="165.49" r="1.3"/><circle cx="248.28" cy="169.95" r="1.3"/><circle cx="246.47" cy="172.23" r="1.3"/><circle cx="229.65" cy="188.13" r="1.3"/><circle cx="243.16" cy="168.95" r="1.3"/><circle cx="237.56" cy="181.23" r="1.3"/><circle cx="229.59" cy="184.09" r="1.3"/><circle cx="243.58" cy="175.24" r="1.3"/><circle cx="248.01" cy="173.41" r="1.3"/><circle cx="251.06" cy="168.56" r="1.3"/><circle cx="235.7" cy="184.38" r="1.3"/><circle cx="252.06" cy="167.01" r="1.3"/><circle cx="236.47" cy="178.36" r="1.3"/><circle cx="248.58" cy="175.9" r="1.3"/><circle cx="243.55" cy="177.33" r="1.3"/><circle cx="241.44" cy="177.69" r="1.3"/><circle cx="248.22" cy="177.06" r="1.3"/><circle cx="248.73" cy="168.71" r="1.3"/><circle cx="285.3" cy="128.2" r="1.3"/><circle cx="292.4" cy="122.1" r="1.3"/><circle cx="294.2" cy="122.1" r="1.3"/><circle cx="252.2" cy="158.6" r="1.3"/><circle cx="256.2" cy="155.9" r="1.3"/><circle cx="258.1" cy="156.2" r="1.3"/><circle cx="257.4" cy="158.1" r="1.3"/><circle cx="258.1" cy="160.6" r="1.3"/><circle cx="257.4" cy="164" r="1.3"/><circle cx="255.2" cy="165.5" r="1.3"/><circle cx="264" cy="155.6" r="1.3"/><circle cx="264.8" cy="163" r="1.3"/><circle cx="253.7" cy="166.5" r="1.3"/><circle cx="258.9" cy="163.3" r="1.3"/><circle cx="255.5" cy="170" r="1.3"/><circle cx="254.8" cy="172.5" r="1.3"/></g><rect x="317.5" y="119" width="74.5" height="75.3" fill="#ebebeb" /><line x1="327.89" y1="119" x2="327.89" y2="194.3" stroke="#fafafa" stroke-width="0.55"/><line x1="345.06" y1="119" x2="345.06" y2="194.3" stroke="#fafafa" stroke-width="0.55"/><line x1="362.24" y1="119" x2="362.24" y2="194.3" stroke="#fafafa" stroke-width="0.55"/><line x1="379.41" y1="119" x2="379.41" y2="194.3" stroke="#fafafa" stroke-width="0.55"/><line x1="317.5" y1="119.72" x2="392" y2="119.72" stroke="#fafafa" stroke-width="0.55"/><line x1="317.5" y1="140.28" x2="392" y2="140.28" stroke="#fafafa" stroke-width="0.55"/><line x1="317.5" y1="160.85" x2="392" y2="160.85" stroke="#fafafa" stroke-width="0.55"/><line x1="317.5" y1="181.42" x2="392" y2="181.42" stroke="#fafafa" stroke-width="0.55"/><line x1="319.3" y1="119" x2="319.3" y2="194.3" stroke="#ffffff" stroke-width="0.95"/><line x1="336.48" y1="119" x2="336.48" y2="194.3" stroke="#ffffff" stroke-width="0.95"/><line x1="353.65" y1="119" x2="353.65" y2="194.3" stroke="#ffffff" stroke-width="0.95"/><line x1="370.82" y1="119" x2="370.82" y2="194.3" stroke="#ffffff" stroke-width="0.95"/><line x1="388" y1="119" x2="388" y2="194.3" stroke="#ffffff" stroke-width="0.95"/><line x1="317.5" y1="191.7" x2="392" y2="191.7" stroke="#ffffff" stroke-width="0.95"/><line x1="317.5" y1="171.13" x2="392" y2="171.13" stroke="#ffffff" stroke-width="0.95"/><line x1="317.5" y1="150.57" x2="392" y2="150.57" stroke="#ffffff" stroke-width="0.95"/><line x1="317.5" y1="130" x2="392" y2="130" stroke="#ffffff" stroke-width="0.95"/><line x1="315" y1="191.7" x2="317.5" y2="191.7" stroke="#222" stroke-width="0.75"/><text x="312.5" y="193.15" font-size="4.0" text-anchor="end" fill="#555" >0</text><line x1="315" y1="171.13" x2="317.5" y2="171.13" stroke="#222" stroke-width="0.75"/><text x="312.5" y="172.58" font-size="4.0" text-anchor="end" fill="#555" >10</text><line x1="315" y1="150.57" x2="317.5" y2="150.57" stroke="#222" stroke-width="0.75"/><text x="312.5" y="152.02" font-size="4.0" text-anchor="end" fill="#555" >20</text><line x1="315" y1="130" x2="317.5" y2="130" stroke="#222" stroke-width="0.75"/><text x="312.5" y="131.45" font-size="4.0" text-anchor="end" fill="#555" >30</text><line x1="319.3" y1="194.9" x2="319.3" y2="197.3" stroke="#222" stroke-width="0.75"/><text x="319.3" y="202.6" font-size="4.0" text-anchor="middle" fill="#555" >0</text><line x1="336.48" y1="194.9" x2="336.48" y2="197.3" stroke="#222" stroke-width="0.75"/><text x="336.48" y="202.6" font-size="4.0" text-anchor="middle" fill="#555" >25</text><line x1="353.65" y1="194.9" x2="353.65" y2="197.3" stroke="#222" stroke-width="0.75"/><text x="353.65" y="202.6" font-size="4.0" text-anchor="middle" fill="#555" >50</text><line x1="370.82" y1="194.9" x2="370.82" y2="197.3" stroke="#222" stroke-width="0.75"/><text x="370.82" y="202.6" font-size="4.0" text-anchor="middle" fill="#555" >75</text><line x1="388" y1="194.9" x2="388" y2="197.3" stroke="#222" stroke-width="0.75"/><text x="388" y="202.6" font-size="4.0" text-anchor="middle" fill="#555" >100</text><g fill="#9eaef8" stroke="#0f28ec" stroke-width="1.0"><circle cx="331.8" cy="162.21" r="1.3"/><circle cx="335.26" cy="165.4" r="1.3"/><circle cx="344.12" cy="181.4" r="1.3"/><circle cx="343.4" cy="171.7" r="1.3"/><circle cx="333.16" cy="168.51" r="1.3"/><circle cx="321.23" cy="182.6" r="1.3"/><circle cx="338.92" cy="173.37" r="1.3"/><circle cx="323" cy="180.42" r="1.3"/><circle cx="322.24" cy="187.92" r="1.3"/><circle cx="325.03" cy="191.24" r="1.3"/><circle cx="331.29" cy="175.94" r="1.3"/><circle cx="319.45" cy="189.42" r="1.3"/><circle cx="330.71" cy="181.3" r="1.3"/><circle cx="338.16" cy="168.39" r="1.3"/><circle cx="321.55" cy="165.63" r="1.3"/><circle cx="343.41" cy="168.68" r="1.3"/><circle cx="347.07" cy="170.16" r="1.3"/><circle cx="325.44" cy="175.53" r="1.3"/><circle cx="325.98" cy="172.41" r="1.3"/><circle cx="342.45" cy="177.7" r="1.3"/><circle cx="323.77" cy="164.89" r="1.3"/><circle cx="325.78" cy="168.35" r="1.3"/><circle cx="344.72" cy="166.93" r="1.3"/><circle cx="332.1" cy="165.18" r="1.3"/><circle cx="341.77" cy="165.19" r="1.3"/><circle cx="330.01" cy="167.06" r="1.3"/><circle cx="327.18" cy="168.18" r="1.3"/><circle cx="322.94" cy="191.83" r="1.3"/><circle cx="319.97" cy="165.62" r="1.3"/><circle cx="323.98" cy="183.12" r="1.3"/><circle cx="333.19" cy="180.73" r="1.3"/><circle cx="326.01" cy="184.81" r="1.3"/><circle cx="342.34" cy="169.94" r="1.3"/><circle cx="345.03" cy="170.87" r="1.3"/><circle cx="328.53" cy="170.38" r="1.3"/><circle cx="341.39" cy="176.12" r="1.3"/><circle cx="331.59" cy="182.04" r="1.3"/><circle cx="341.08" cy="172.21" r="1.3"/><circle cx="337.09" cy="177.91" r="1.3"/><circle cx="327.02" cy="170.31" r="1.3"/><circle cx="329.41" cy="176.03" r="1.3"/><circle cx="319.9" cy="182.95" r="1.3"/><circle cx="324.9" cy="187.77" r="1.3"/><circle cx="338.82" cy="170.94" r="1.3"/><circle cx="329.19" cy="189.13" r="1.3"/><circle cx="333.25" cy="178.89" r="1.3"/><circle cx="323.13" cy="169" r="1.3"/><circle cx="331.27" cy="169.16" r="1.3"/><circle cx="347.9" cy="175.78" r="1.3"/><circle cx="321.14" cy="186.66" r="1.3"/><circle cx="338.23" cy="177.04" r="1.3"/><circle cx="346.19" cy="176.14" r="1.3"/><circle cx="330.46" cy="170.82" r="1.3"/><circle cx="323.43" cy="175.25" r="1.3"/><circle cx="334.3" cy="187.54" r="1.3"/><circle cx="327.39" cy="186.63" r="1.3"/><circle cx="331.85" cy="186.62" r="1.3"/><circle cx="340.04" cy="161.96" r="1.3"/><circle cx="323.06" cy="167.51" r="1.3"/><circle cx="334.15" cy="181.18" r="1.3"/><circle cx="328.72" cy="187.5" r="1.3"/><circle cx="320.72" cy="188" r="1.3"/><circle cx="324.41" cy="166.52" r="1.3"/><circle cx="343.09" cy="174.33" r="1.3"/><circle cx="336.89" cy="170.82" r="1.3"/><circle cx="328.07" cy="182.76" r="1.3"/><circle cx="328.17" cy="172.75" r="1.3"/><circle cx="327.72" cy="189.57" r="1.3"/><circle cx="345.06" cy="174.21" r="1.3"/><circle cx="337.84" cy="165.73" r="1.3"/><circle cx="330.63" cy="184.55" r="1.3"/><circle cx="340.5" cy="163.26" r="1.3"/><circle cx="341.79" cy="182.18" r="1.3"/><circle cx="321" cy="171.03" r="1.3"/><circle cx="325.76" cy="189.59" r="1.3"/><circle cx="338.14" cy="163.06" r="1.3"/><circle cx="319.25" cy="171.61" r="1.3"/><circle cx="337.13" cy="181.37" r="1.3"/><circle cx="321.07" cy="174.2" r="1.3"/><circle cx="345.83" cy="168.21" r="1.3"/><circle cx="341.13" cy="168.93" r="1.3"/><circle cx="339.52" cy="171.92" r="1.3"/><circle cx="344.07" cy="179.65" r="1.3"/><circle cx="324.63" cy="176.99" r="1.3"/><circle cx="322.08" cy="175.35" r="1.3"/><circle cx="325.87" cy="186.19" r="1.3"/><circle cx="334.99" cy="177" r="1.3"/><circle cx="326.73" cy="177.52" r="1.3"/><circle cx="322.64" cy="171.01" r="1.3"/><circle cx="323.05" cy="185.59" r="1.3"/><circle cx="325.11" cy="164.82" r="1.3"/><circle cx="330.26" cy="163.38" r="1.3"/><circle cx="329.89" cy="178.82" r="1.3"/><circle cx="325.62" cy="178.75" r="1.3"/><circle cx="320.77" cy="184.35" r="1.3"/><circle cx="334.28" cy="162.98" r="1.3"/><circle cx="332.71" cy="176.99" r="1.3"/><circle cx="328.25" cy="184.45" r="1.3"/><circle cx="327.1" cy="166.9" r="1.3"/><circle cx="339.83" cy="179.58" r="1.3"/><circle cx="327.17" cy="181.41" r="1.3"/><circle cx="334.18" cy="175.26" r="1.3"/><circle cx="326.49" cy="187.76" r="1.3"/><circle cx="333.01" cy="164.95" r="1.3"/><circle cx="334.02" cy="173.92" r="1.3"/><circle cx="326.76" cy="174.19" r="1.3"/><circle cx="320.43" cy="190.87" r="1.3"/><circle cx="319.9" cy="178.93" r="1.3"/><circle cx="335.44" cy="176.23" r="1.3"/><circle cx="321.85" cy="189.66" r="1.3"/><circle cx="325.11" cy="182.73" r="1.3"/><circle cx="347.1" cy="172.52" r="1.3"/><circle cx="323.12" cy="178.94" r="1.3"/><circle cx="320.91" cy="177.3" r="1.3"/><circle cx="345.48" cy="172.4" r="1.3"/><circle cx="321.1" cy="168.93" r="1.3"/><circle cx="331.59" cy="179.33" r="1.3"/><circle cx="335.48" cy="172.56" r="1.3"/><circle cx="335.57" cy="168.53" r="1.3"/><circle cx="319.28" cy="186.01" r="1.3"/><circle cx="333.02" cy="173.51" r="1.3"/><circle cx="328.23" cy="173.78" r="1.3"/><circle cx="334.05" cy="185.94" r="1.3"/><circle cx="322.35" cy="173.71" r="1.3"/><circle cx="342.33" cy="180.43" r="1.3"/><circle cx="335.11" cy="166.94" r="1.3"/><circle cx="335.93" cy="185.76" r="1.3"/><circle cx="337.25" cy="182.06" r="1.3"/><circle cx="332.17" cy="163.46" r="1.3"/><circle cx="330" cy="165.78" r="1.3"/><circle cx="318.71" cy="184.8" r="1.3"/><circle cx="349.1" cy="172.14" r="1.3"/><circle cx="337.42" cy="179.28" r="1.3"/><circle cx="339.18" cy="176.06" r="1.3"/><circle cx="328.7" cy="177.73" r="1.3"/><circle cx="322.17" cy="179.01" r="1.3"/><circle cx="346.33" cy="167.44" r="1.3"/><circle cx="339.85" cy="165.77" r="1.3"/><circle cx="340.6" cy="173.77" r="1.3"/><circle cx="323.82" cy="172.57" r="1.3"/><circle cx="324.07" cy="170.41" r="1.3"/><circle cx="336.34" cy="174.03" r="1.3"/><circle cx="348.65" cy="173.76" r="1.3"/><circle cx="328.3" cy="166.53" r="1.3"/><circle cx="324.3" cy="183.98" r="1.3"/><circle cx="348.89" cy="170.96" r="1.3"/><circle cx="341.15" cy="166.4" r="1.3"/><circle cx="339.58" cy="168.35" r="1.3"/><circle cx="336.01" cy="179.01" r="1.3"/><circle cx="338.89" cy="184.54" r="1.3"/><circle cx="341.01" cy="170.6" r="1.3"/><circle cx="337.14" cy="166.44" r="1.3"/><circle cx="324.94" cy="181.41" r="1.3"/><circle cx="329.21" cy="169.27" r="1.3"/><circle cx="335.22" cy="183.15" r="1.3"/><circle cx="333.7" cy="171.78" r="1.3"/><circle cx="329.53" cy="172.69" r="1.3"/><circle cx="337.01" cy="172.22" r="1.3"/><circle cx="332.93" cy="187.87" r="1.3"/><circle cx="339.87" cy="182.12" r="1.3"/><circle cx="337.48" cy="175.45" r="1.3"/><circle cx="319.08" cy="188.12" r="1.3"/><circle cx="331.15" cy="173.72" r="1.3"/><circle cx="327.95" cy="165.09" r="1.3"/><circle cx="327.11" cy="175.83" r="1.3"/><circle cx="322.98" cy="184.77" r="1.3"/><circle cx="327.92" cy="178.94" r="1.3"/><circle cx="347.07" cy="168.93" r="1.3"/><circle cx="330.57" cy="177.87" r="1.3"/><circle cx="344.4" cy="176.96" r="1.3"/><circle cx="342.61" cy="167.03" r="1.3"/><circle cx="320.66" cy="181.19" r="1.3"/><circle cx="340.15" cy="181.3" r="1.3"/><circle cx="320.72" cy="166.94" r="1.3"/><circle cx="337.54" cy="161.89" r="1.3"/><circle cx="333.96" cy="182.7" r="1.3"/><circle cx="329.94" cy="182.38" r="1.3"/><circle cx="319.35" cy="175.84" r="1.3"/><circle cx="346.42" cy="174.06" r="1.3"/><circle cx="329.84" cy="186.04" r="1.3"/><circle cx="340.84" cy="177.35" r="1.3"/><circle cx="327.13" cy="163.14" r="1.3"/><circle cx="333.13" cy="184.55" r="1.3"/><circle cx="330.99" cy="187.32" r="1.3"/><circle cx="323.18" cy="177.8" r="1.3"/><circle cx="320.15" cy="168.76" r="1.3"/><circle cx="333.99" cy="161.91" r="1.3"/><circle cx="334.21" cy="184.28" r="1.3"/><circle cx="328.54" cy="163.68" r="1.3"/><circle cx="328.69" cy="181.35" r="1.3"/><circle cx="331.86" cy="171.87" r="1.3"/><circle cx="334.39" cy="170.8" r="1.3"/><circle cx="336.47" cy="163.06" r="1.3"/><circle cx="324.99" cy="173.93" r="1.3"/><circle cx="346.1" cy="179.37" r="1.3"/><circle cx="338.91" cy="167.27" r="1.3"/><circle cx="335.56" cy="162.28" r="1.3"/><circle cx="332.34" cy="167.03" r="1.3"/><circle cx="318.76" cy="191.13" r="1.3"/><circle cx="341.47" cy="162.03" r="1.3"/><circle cx="324.05" cy="189.5" r="1.3"/><circle cx="336.22" cy="184.22" r="1.3"/><circle cx="321.21" cy="171.84" r="1.3"/><circle cx="338.56" cy="180.82" r="1.3"/><circle cx="343.67" cy="175.28" r="1.3"/><circle cx="333.17" cy="170.12" r="1.3"/><circle cx="346.66" cy="177.85" r="1.3"/><circle cx="341.68" cy="179.56" r="1.3"/><circle cx="379.5" cy="122.4" r="1.3"/><circle cx="386.8" cy="135.3" r="1.3"/><circle cx="388.7" cy="135.3" r="1.3"/><circle cx="345.3" cy="133.4" r="1.3"/><circle cx="345.3" cy="135.5" r="1.3"/><circle cx="338.7" cy="146.6" r="1.3"/><circle cx="320.8" cy="147.9" r="1.3"/><circle cx="322.1" cy="148.7" r="1.3"/><circle cx="351.4" cy="160" r="1.3"/><circle cx="351.4" cy="164.7" r="1.3"/><circle cx="352.6" cy="167.7" r="1.3"/><circle cx="349.2" cy="166.5" r="1.3"/><circle cx="350.7" cy="172.9" r="1.3"/><circle cx="358" cy="172.9" r="1.3"/><circle cx="320.1" cy="156.2" r="1.3"/><circle cx="322.6" cy="157.1" r="1.3"/><circle cx="325.1" cy="155.2" r="1.3"/><circle cx="320.4" cy="159.6" r="1.3"/><circle cx="321.9" cy="150.3" r="1.3"/><circle cx="344" cy="162" r="1.3"/><circle cx="346.5" cy="170" r="1.3"/></g><rect x="411.3" y="119" width="75" height="75.3" fill="#ebebeb" /><line x1="422.14" y1="119" x2="422.14" y2="194.3" stroke="#fafafa" stroke-width="0.55"/><line x1="439.41" y1="119" x2="439.41" y2="194.3" stroke="#fafafa" stroke-width="0.55"/><line x1="456.69" y1="119" x2="456.69" y2="194.3" stroke="#fafafa" stroke-width="0.55"/><line x1="473.96" y1="119" x2="473.96" y2="194.3" stroke="#fafafa" stroke-width="0.55"/><line x1="411.3" y1="126.25" x2="486.3" y2="126.25" stroke="#fafafa" stroke-width="0.55"/><line x1="411.3" y1="144.95" x2="486.3" y2="144.95" stroke="#fafafa" stroke-width="0.55"/><line x1="411.3" y1="163.65" x2="486.3" y2="163.65" stroke="#fafafa" stroke-width="0.55"/><line x1="411.3" y1="182.35" x2="486.3" y2="182.35" stroke="#fafafa" stroke-width="0.55"/><line x1="413.5" y1="119" x2="413.5" y2="194.3" stroke="#ffffff" stroke-width="0.95"/><line x1="430.77" y1="119" x2="430.77" y2="194.3" stroke="#ffffff" stroke-width="0.95"/><line x1="448.05" y1="119" x2="448.05" y2="194.3" stroke="#ffffff" stroke-width="0.95"/><line x1="465.33" y1="119" x2="465.33" y2="194.3" stroke="#ffffff" stroke-width="0.95"/><line x1="482.6" y1="119" x2="482.6" y2="194.3" stroke="#ffffff" stroke-width="0.95"/><line x1="411.3" y1="191.7" x2="486.3" y2="191.7" stroke="#ffffff" stroke-width="0.95"/><line x1="411.3" y1="173" x2="486.3" y2="173" stroke="#ffffff" stroke-width="0.95"/><line x1="411.3" y1="154.3" x2="486.3" y2="154.3" stroke="#ffffff" stroke-width="0.95"/><line x1="411.3" y1="135.6" x2="486.3" y2="135.6" stroke="#ffffff" stroke-width="0.95"/><line x1="408.8" y1="191.7" x2="411.3" y2="191.7" stroke="#222" stroke-width="0.75"/><text x="406.3" y="193.15" font-size="4.0" text-anchor="end" fill="#555" >0</text><line x1="408.8" y1="173" x2="411.3" y2="173" stroke="#222" stroke-width="0.75"/><text x="406.3" y="174.45" font-size="4.0" text-anchor="end" fill="#555" >10</text><line x1="408.8" y1="154.3" x2="411.3" y2="154.3" stroke="#222" stroke-width="0.75"/><text x="406.3" y="155.75" font-size="4.0" text-anchor="end" fill="#555" >20</text><line x1="408.8" y1="135.6" x2="411.3" y2="135.6" stroke="#222" stroke-width="0.75"/><text x="406.3" y="137.05" font-size="4.0" text-anchor="end" fill="#555" >30</text><line x1="413.5" y1="194.9" x2="413.5" y2="197.3" stroke="#222" stroke-width="0.75"/><text x="413.5" y="202.6" font-size="4.0" text-anchor="middle" fill="#555" >0</text><line x1="430.77" y1="194.9" x2="430.77" y2="197.3" stroke="#222" stroke-width="0.75"/><text x="430.77" y="202.6" font-size="4.0" text-anchor="middle" fill="#555" >25</text><line x1="448.05" y1="194.9" x2="448.05" y2="197.3" stroke="#222" stroke-width="0.75"/><text x="448.05" y="202.6" font-size="4.0" text-anchor="middle" fill="#555" >50</text><line x1="465.33" y1="194.9" x2="465.33" y2="197.3" stroke="#222" stroke-width="0.75"/><text x="465.33" y="202.6" font-size="4.0" text-anchor="middle" fill="#555" >75</text><line x1="482.6" y1="194.9" x2="482.6" y2="197.3" stroke="#222" stroke-width="0.75"/><text x="482.6" y="202.6" font-size="4.0" text-anchor="middle" fill="#555" >100</text><g fill="#9eaef8" stroke="#0f28ec" stroke-width="1.0"><circle cx="420.93" cy="171.83" r="1.3"/><circle cx="424.81" cy="171.16" r="1.3"/><circle cx="416.58" cy="172.32" r="1.3"/><circle cx="428.72" cy="171.76" r="1.3"/><circle cx="430.28" cy="183.02" r="1.3"/><circle cx="429.83" cy="181.26" r="1.3"/><circle cx="427.74" cy="170.62" r="1.3"/><circle cx="419.01" cy="188.43" r="1.3"/><circle cx="414.92" cy="186.55" r="1.3"/><circle cx="429.26" cy="167.05" r="1.3"/><circle cx="442.18" cy="172.24" r="1.3"/><circle cx="433.91" cy="165.32" r="1.3"/><circle cx="415.33" cy="173.83" r="1.3"/><circle cx="420.45" cy="175.61" r="1.3"/><circle cx="435.7" cy="170.93" r="1.3"/><circle cx="420.7" cy="182.63" r="1.3"/><circle cx="418.92" cy="173.92" r="1.3"/><circle cx="425.8" cy="181.3" r="1.3"/><circle cx="420.88" cy="189.14" r="1.3"/><circle cx="424.63" cy="172.04" r="1.3"/><circle cx="437.76" cy="180.68" r="1.3"/><circle cx="437.1" cy="170.26" r="1.3"/><circle cx="429.37" cy="177.57" r="1.3"/><circle cx="415.82" cy="188.13" r="1.3"/><circle cx="439.96" cy="169.15" r="1.3"/><circle cx="429.64" cy="174.21" r="1.3"/><circle cx="416.1" cy="189.82" r="1.3"/><circle cx="418.67" cy="172.88" r="1.3"/><circle cx="421.83" cy="169.28" r="1.3"/><circle cx="432.18" cy="168.52" r="1.3"/><circle cx="430.91" cy="176.98" r="1.3"/><circle cx="415.49" cy="191.11" r="1.3"/><circle cx="426.78" cy="175.5" r="1.3"/><circle cx="431.92" cy="170.6" r="1.3"/><circle cx="414.03" cy="172.5" r="1.3"/><circle cx="413.44" cy="177.46" r="1.3"/><circle cx="430.16" cy="176.33" r="1.3"/><circle cx="433.7" cy="173.93" r="1.3"/><circle cx="433.4" cy="180.61" r="1.3"/><circle cx="423.99" cy="182.84" r="1.3"/><circle cx="435.05" cy="181.6" r="1.3"/><circle cx="418.16" cy="190.24" r="1.3"/><circle cx="417.28" cy="188.34" r="1.3"/><circle cx="438.82" cy="175.74" r="1.3"/><circle cx="419.24" cy="181.09" r="1.3"/><circle cx="416.36" cy="183.26" r="1.3"/><circle cx="426.75" cy="186.19" r="1.3"/><circle cx="426.92" cy="172.25" r="1.3"/><circle cx="421.82" cy="175.49" r="1.3"/><circle cx="431.02" cy="181.49" r="1.3"/><circle cx="420.56" cy="168.3" r="1.3"/><circle cx="432.09" cy="182.16" r="1.3"/><circle cx="431.62" cy="184.88" r="1.3"/><circle cx="436.19" cy="172.13" r="1.3"/><circle cx="423.65" cy="177.2" r="1.3"/><circle cx="420.42" cy="186.27" r="1.3"/><circle cx="423.83" cy="179.12" r="1.3"/><circle cx="416.93" cy="169.04" r="1.3"/><circle cx="441.93" cy="173.95" r="1.3"/><circle cx="422.94" cy="187.9" r="1.3"/><circle cx="427.93" cy="180.58" r="1.3"/><circle cx="426.91" cy="179.44" r="1.3"/><circle cx="425.38" cy="174.23" r="1.3"/><circle cx="423.68" cy="180.77" r="1.3"/><circle cx="413.51" cy="180.51" r="1.3"/><circle cx="414.1" cy="176.25" r="1.3"/><circle cx="417.19" cy="174.24" r="1.3"/><circle cx="419.2" cy="170.25" r="1.3"/><circle cx="431.2" cy="167.15" r="1.3"/><circle cx="422.43" cy="165.59" r="1.3"/><circle cx="419.12" cy="177.81" r="1.3"/><circle cx="425.07" cy="166.94" r="1.3"/><circle cx="421.35" cy="170.77" r="1.3"/><circle cx="432.78" cy="165.58" r="1.3"/><circle cx="415" cy="179.5" r="1.3"/><circle cx="423.48" cy="167.23" r="1.3"/><circle cx="416.92" cy="184.07" r="1.3"/><circle cx="432.75" cy="172.33" r="1.3"/><circle cx="430.84" cy="173.61" r="1.3"/><circle cx="430.32" cy="179.1" r="1.3"/><circle cx="443.12" cy="173.57" r="1.3"/><circle cx="420.93" cy="174.24" r="1.3"/><circle cx="439.79" cy="178.04" r="1.3"/><circle cx="436.51" cy="168.61" r="1.3"/><circle cx="418.32" cy="183.01" r="1.3"/><circle cx="428.93" cy="170.02" r="1.3"/><circle cx="416.59" cy="175.23" r="1.3"/><circle cx="413.65" cy="173.77" r="1.3"/><circle cx="433.61" cy="166.87" r="1.3"/><circle cx="421.85" cy="167.13" r="1.3"/><circle cx="414.68" cy="183.15" r="1.3"/><circle cx="420.43" cy="179.1" r="1.3"/><circle cx="439.96" cy="174.23" r="1.3"/><circle cx="442.16" cy="175.46" r="1.3"/><circle cx="434.43" cy="168.7" r="1.3"/><circle cx="430.67" cy="169.11" r="1.3"/><circle cx="414.82" cy="189.55" r="1.3"/><circle cx="440.9" cy="176.11" r="1.3"/><circle cx="425.97" cy="165.24" r="1.3"/><circle cx="417.16" cy="181.01" r="1.3"/><circle cx="424.55" cy="168.42" r="1.3"/><circle cx="415.92" cy="169.97" r="1.3"/><circle cx="438.75" cy="168.72" r="1.3"/><circle cx="430.9" cy="164.86" r="1.3"/><circle cx="424.16" cy="165.32" r="1.3"/><circle cx="416.83" cy="178.9" r="1.3"/><circle cx="422.78" cy="183" r="1.3"/><circle cx="427.11" cy="185.04" r="1.3"/><circle cx="432.95" cy="177.3" r="1.3"/><circle cx="421.3" cy="180.85" r="1.3"/><circle cx="417.69" cy="177.64" r="1.3"/><circle cx="415.99" cy="181.08" r="1.3"/><circle cx="429.41" cy="184.81" r="1.3"/><circle cx="428.1" cy="164.86" r="1.3"/><circle cx="434.06" cy="176.22" r="1.3"/><circle cx="426.38" cy="182.85" r="1.3"/><circle cx="437.44" cy="167.66" r="1.3"/><circle cx="439.93" cy="172.48" r="1.3"/><circle cx="437.21" cy="177.32" r="1.3"/><circle cx="428.49" cy="178.74" r="1.3"/><circle cx="437.79" cy="174.33" r="1.3"/><circle cx="424.62" cy="186.03" r="1.3"/><circle cx="419.56" cy="184.29" r="1.3"/><circle cx="439.32" cy="170.88" r="1.3"/><circle cx="428.84" cy="168.56" r="1.3"/><circle cx="424.85" cy="176.05" r="1.3"/><circle cx="435.62" cy="167.5" r="1.3"/><circle cx="417.83" cy="175.73" r="1.3"/><circle cx="441.75" cy="170.87" r="1.3"/><circle cx="423.22" cy="184.1" r="1.3"/><circle cx="418.21" cy="168.62" r="1.3"/><circle cx="432.56" cy="179.14" r="1.3"/><circle cx="416.54" cy="186.34" r="1.3"/><circle cx="417.39" cy="169.98" r="1.3"/><circle cx="426.31" cy="168.57" r="1.3"/><circle cx="436.62" cy="175.89" r="1.3"/><circle cx="418.09" cy="178.78" r="1.3"/><circle cx="418.85" cy="167.26" r="1.3"/><circle cx="439.17" cy="167.58" r="1.3"/><circle cx="427.43" cy="174.42" r="1.3"/><circle cx="415.75" cy="177.7" r="1.3"/><circle cx="435.09" cy="177.09" r="1.3"/><circle cx="438.25" cy="171.94" r="1.3"/><circle cx="427.51" cy="177.79" r="1.3"/><circle cx="435.97" cy="174.2" r="1.3"/><circle cx="433.83" cy="170.9" r="1.3"/><circle cx="434.76" cy="178.99" r="1.3"/><circle cx="437.98" cy="179.62" r="1.3"/><circle cx="421.82" cy="186.67" r="1.3"/><circle cx="421.98" cy="177.68" r="1.3"/><circle cx="423.16" cy="174.6" r="1.3"/><circle cx="424.93" cy="188.02" r="1.3"/><circle cx="418.95" cy="185.78" r="1.3"/><circle cx="425.43" cy="184.49" r="1.3"/><circle cx="424.94" cy="177.46" r="1.3"/><circle cx="421.97" cy="184.49" r="1.3"/><circle cx="422.14" cy="172.44" r="1.3"/><circle cx="423.83" cy="170.27" r="1.3"/><circle cx="427.49" cy="167.26" r="1.3"/><circle cx="428.6" cy="175.42" r="1.3"/><circle cx="430.13" cy="171.73" r="1.3"/><circle cx="428.67" cy="186.28" r="1.3"/><circle cx="436.67" cy="178.67" r="1.3"/><circle cx="434.36" cy="182.91" r="1.3"/><circle cx="421.83" cy="187.93" r="1.3"/><circle cx="427.83" cy="182.98" r="1.3"/><circle cx="415.22" cy="184.51" r="1.3"/><circle cx="413.44" cy="187.42" r="1.3"/><circle cx="422.36" cy="178.83" r="1.3"/><circle cx="434.94" cy="172.43" r="1.3"/><circle cx="432.06" cy="175.53" r="1.3"/><circle cx="474.5" cy="122.4" r="1.3"/><circle cx="481.6" cy="135.5" r="1.3"/><circle cx="483.7" cy="136.8" r="1.3"/><circle cx="440.3" cy="135.3" r="1.3"/><circle cx="440.3" cy="140.8" r="1.3"/><circle cx="433.2" cy="146.6" r="1.3"/><circle cx="415.8" cy="156.6" r="1.3"/><circle cx="417.1" cy="157.9" r="1.3"/><circle cx="415.3" cy="163.7" r="1.3"/><circle cx="416.2" cy="156.6" r="1.3"/><circle cx="417.6" cy="158.1" r="1.3"/><circle cx="416.9" cy="160.3" r="1.3"/><circle cx="415.1" cy="164" r="1.3"/><circle cx="420.1" cy="163" r="1.3"/><circle cx="422.1" cy="163.6" r="1.3"/><circle cx="436.1" cy="161.8" r="1.3"/><circle cx="446.1" cy="161.1" r="1.3"/><circle cx="445.7" cy="164.7" r="1.3"/><circle cx="447.1" cy="166.5" r="1.3"/><circle cx="444.6" cy="168.4" r="1.3"/><circle cx="453" cy="169.2" r="1.3"/><circle cx="452.6" cy="171.4" r="1.3"/></g><rect x="506.3" y="118.6" width="74.3" height="75.7" fill="#ebebeb" /><line x1="516.8" y1="118.6" x2="516.8" y2="194.3" stroke="#fafafa" stroke-width="0.55"/><line x1="534" y1="118.6" x2="534" y2="194.3" stroke="#fafafa" stroke-width="0.55"/><line x1="551.2" y1="118.6" x2="551.2" y2="194.3" stroke="#fafafa" stroke-width="0.55"/><line x1="568.4" y1="118.6" x2="568.4" y2="194.3" stroke="#fafafa" stroke-width="0.55"/><line x1="506.3" y1="126" x2="580.6" y2="126" stroke="#fafafa" stroke-width="0.55"/><line x1="506.3" y1="140.6" x2="580.6" y2="140.6" stroke="#fafafa" stroke-width="0.55"/><line x1="506.3" y1="155.2" x2="580.6" y2="155.2" stroke="#fafafa" stroke-width="0.55"/><line x1="506.3" y1="169.8" x2="580.6" y2="169.8" stroke="#fafafa" stroke-width="0.55"/><line x1="506.3" y1="184.4" x2="580.6" y2="184.4" stroke="#fafafa" stroke-width="0.55"/><line x1="508.2" y1="118.6" x2="508.2" y2="194.3" stroke="#ffffff" stroke-width="0.95"/><line x1="525.4" y1="118.6" x2="525.4" y2="194.3" stroke="#ffffff" stroke-width="0.95"/><line x1="542.6" y1="118.6" x2="542.6" y2="194.3" stroke="#ffffff" stroke-width="0.95"/><line x1="559.8" y1="118.6" x2="559.8" y2="194.3" stroke="#ffffff" stroke-width="0.95"/><line x1="577" y1="118.6" x2="577" y2="194.3" stroke="#ffffff" stroke-width="0.95"/><line x1="506.3" y1="191.7" x2="580.6" y2="191.7" stroke="#ffffff" stroke-width="0.95"/><line x1="506.3" y1="177.1" x2="580.6" y2="177.1" stroke="#ffffff" stroke-width="0.95"/><line x1="506.3" y1="162.5" x2="580.6" y2="162.5" stroke="#ffffff" stroke-width="0.95"/><line x1="506.3" y1="147.9" x2="580.6" y2="147.9" stroke="#ffffff" stroke-width="0.95"/><line x1="506.3" y1="133.3" x2="580.6" y2="133.3" stroke="#ffffff" stroke-width="0.95"/><line x1="506.3" y1="118.7" x2="580.6" y2="118.7" stroke="#ffffff" stroke-width="0.95"/><line x1="503.8" y1="191.7" x2="506.3" y2="191.7" stroke="#222" stroke-width="0.75"/><text x="501.3" y="193.15" font-size="4.0" text-anchor="end" fill="#555" >0</text><line x1="503.8" y1="177.1" x2="506.3" y2="177.1" stroke="#222" stroke-width="0.75"/><text x="501.3" y="178.55" font-size="4.0" text-anchor="end" fill="#555" >5</text><line x1="503.8" y1="162.5" x2="506.3" y2="162.5" stroke="#222" stroke-width="0.75"/><text x="501.3" y="163.95" font-size="4.0" text-anchor="end" fill="#555" >10</text><line x1="503.8" y1="147.9" x2="506.3" y2="147.9" stroke="#222" stroke-width="0.75"/><text x="501.3" y="149.35" font-size="4.0" text-anchor="end" fill="#555" >15</text><line x1="503.8" y1="133.3" x2="506.3" y2="133.3" stroke="#222" stroke-width="0.75"/><text x="501.3" y="134.75" font-size="4.0" text-anchor="end" fill="#555" >20</text><line x1="503.8" y1="118.7" x2="506.3" y2="118.7" stroke="#222" stroke-width="0.75"/><text x="501.3" y="120.15" font-size="4.0" text-anchor="end" fill="#555" >25</text><line x1="508.2" y1="194.9" x2="508.2" y2="197.3" stroke="#222" stroke-width="0.75"/><text x="508.2" y="202.6" font-size="4.0" text-anchor="middle" fill="#555" >0</text><line x1="525.4" y1="194.9" x2="525.4" y2="197.3" stroke="#222" stroke-width="0.75"/><text x="525.4" y="202.6" font-size="4.0" text-anchor="middle" fill="#555" >25</text><line x1="542.6" y1="194.9" x2="542.6" y2="197.3" stroke="#222" stroke-width="0.75"/><text x="542.6" y="202.6" font-size="4.0" text-anchor="middle" fill="#555" >50</text><line x1="559.8" y1="194.9" x2="559.8" y2="197.3" stroke="#222" stroke-width="0.75"/><text x="559.8" y="202.6" font-size="4.0" text-anchor="middle" fill="#555" >75</text><line x1="577" y1="194.9" x2="577" y2="197.3" stroke="#222" stroke-width="0.75"/><text x="577" y="202.6" font-size="4.0" text-anchor="middle" fill="#555" >100</text><g fill="#9eaef8" stroke="#0f28ec" stroke-width="1.0"><circle cx="516.8" cy="175.76" r="1.3"/><circle cx="516.4" cy="167.12" r="1.3"/><circle cx="511.93" cy="167.76" r="1.3"/><circle cx="514.96" cy="165.9" r="1.3"/><circle cx="515.81" cy="181.95" r="1.3"/><circle cx="531.49" cy="180.9" r="1.3"/><circle cx="524.46" cy="183.61" r="1.3"/><circle cx="509.25" cy="176.49" r="1.3"/><circle cx="533.58" cy="171.04" r="1.3"/><circle cx="517.98" cy="181.13" r="1.3"/><circle cx="508.33" cy="167.95" r="1.3"/><circle cx="516.02" cy="178.5" r="1.3"/><circle cx="517.4" cy="166.34" r="1.3"/><circle cx="524.38" cy="179.29" r="1.3"/><circle cx="510.31" cy="167.5" r="1.3"/><circle cx="513.44" cy="180.9" r="1.3"/><circle cx="513.32" cy="182.62" r="1.3"/><circle cx="512.51" cy="189.88" r="1.3"/><circle cx="520.96" cy="169.76" r="1.3"/><circle cx="517.88" cy="167.42" r="1.3"/><circle cx="514.54" cy="169.21" r="1.3"/><circle cx="510.32" cy="186.22" r="1.3"/><circle cx="514.12" cy="171.17" r="1.3"/><circle cx="512.48" cy="179.79" r="1.3"/><circle cx="519.23" cy="182.61" r="1.3"/><circle cx="516.59" cy="172.14" r="1.3"/><circle cx="517.86" cy="173.91" r="1.3"/><circle cx="513.1" cy="166.11" r="1.3"/><circle cx="523.45" cy="179.9" r="1.3"/><circle cx="537.57" cy="177.93" r="1.3"/><circle cx="517.04" cy="187.06" r="1.3"/><circle cx="534.07" cy="174" r="1.3"/><circle cx="522.96" cy="182.97" r="1.3"/><circle cx="538.04" cy="181.11" r="1.3"/><circle cx="526.38" cy="174.81" r="1.3"/><circle cx="536.39" cy="178.01" r="1.3"/><circle cx="528.31" cy="172.95" r="1.3"/><circle cx="517.44" cy="171.32" r="1.3"/><circle cx="525.57" cy="178.16" r="1.3"/><circle cx="511.43" cy="175.91" r="1.3"/><circle cx="513.68" cy="188.17" r="1.3"/><circle cx="527.83" cy="170.87" r="1.3"/><circle cx="519.52" cy="178.48" r="1.3"/><circle cx="518.09" cy="185.34" r="1.3"/><circle cx="533.19" cy="183.04" r="1.3"/><circle cx="519.42" cy="172.25" r="1.3"/><circle cx="511.9" cy="184.41" r="1.3"/><circle cx="532.34" cy="172.6" r="1.3"/><circle cx="535.32" cy="179.18" r="1.3"/><circle cx="515.02" cy="183.46" r="1.3"/><circle cx="508.08" cy="181.79" r="1.3"/><circle cx="517.69" cy="177.6" r="1.3"/><circle cx="535.11" cy="183.48" r="1.3"/><circle cx="515.82" cy="174.91" r="1.3"/><circle cx="531.33" cy="183.52" r="1.3"/><circle cx="532.28" cy="174.49" r="1.3"/><circle cx="527.34" cy="186.7" r="1.3"/><circle cx="512" cy="188.86" r="1.3"/><circle cx="525.76" cy="184.7" r="1.3"/><circle cx="520.45" cy="181.14" r="1.3"/><circle cx="509.35" cy="180.9" r="1.3"/><circle cx="532.45" cy="171.1" r="1.3"/><circle cx="510.48" cy="173.98" r="1.3"/><circle cx="513.29" cy="172.99" r="1.3"/><circle cx="522.27" cy="171.35" r="1.3"/><circle cx="524.52" cy="172.18" r="1.3"/><circle cx="540.43" cy="174.53" r="1.3"/><circle cx="510.34" cy="190.27" r="1.3"/><circle cx="508.54" cy="168.69" r="1.3"/><circle cx="510.6" cy="173.09" r="1.3"/><circle cx="509.35" cy="177.54" r="1.3"/><circle cx="519.89" cy="170.8" r="1.3"/><circle cx="513.99" cy="166.91" r="1.3"/><circle cx="538.77" cy="179.21" r="1.3"/><circle cx="522.96" cy="190.29" r="1.3"/><circle cx="531.49" cy="172.75" r="1.3"/><circle cx="535.34" cy="173.86" r="1.3"/><circle cx="515.73" cy="184.7" r="1.3"/><circle cx="514.33" cy="185.38" r="1.3"/><circle cx="530.52" cy="179.39" r="1.3"/><circle cx="515.77" cy="191.32" r="1.3"/><circle cx="517.61" cy="188.01" r="1.3"/><circle cx="518.77" cy="179.15" r="1.3"/><circle cx="512.01" cy="177.98" r="1.3"/><circle cx="514.78" cy="186.21" r="1.3"/><circle cx="531.48" cy="175.63" r="1.3"/><circle cx="523.89" cy="177.42" r="1.3"/><circle cx="528.79" cy="186.68" r="1.3"/><circle cx="530.47" cy="171.17" r="1.3"/><circle cx="514.7" cy="176.42" r="1.3"/><circle cx="516.98" cy="183.19" r="1.3"/><circle cx="527.95" cy="180.89" r="1.3"/><circle cx="537.36" cy="174.45" r="1.3"/><circle cx="515.31" cy="170.89" r="1.3"/><circle cx="528.24" cy="174.31" r="1.3"/><circle cx="519.23" cy="190.08" r="1.3"/><circle cx="524.63" cy="186.71" r="1.3"/><circle cx="508.65" cy="179.3" r="1.3"/><circle cx="536.96" cy="180.23" r="1.3"/><circle cx="527.6" cy="177.94" r="1.3"/><circle cx="535.01" cy="175.82" r="1.3"/><circle cx="508.31" cy="182.77" r="1.3"/><circle cx="523.36" cy="174.22" r="1.3"/><circle cx="536.42" cy="181.09" r="1.3"/><circle cx="534.13" cy="181.85" r="1.3"/><circle cx="522.64" cy="172.82" r="1.3"/><circle cx="526.67" cy="179.93" r="1.3"/><circle cx="514.98" cy="189.67" r="1.3"/><circle cx="520.3" cy="186.15" r="1.3"/><circle cx="512.9" cy="176.69" r="1.3"/><circle cx="514.41" cy="174.4" r="1.3"/><circle cx="508.36" cy="170.4" r="1.3"/><circle cx="520.98" cy="183.71" r="1.3"/><circle cx="516.39" cy="169.68" r="1.3"/><circle cx="521.31" cy="190.39" r="1.3"/><circle cx="508.58" cy="190.47" r="1.3"/><circle cx="520.07" cy="185.35" r="1.3"/><circle cx="511.35" cy="179.18" r="1.3"/><circle cx="508.72" cy="187.02" r="1.3"/><circle cx="530.39" cy="177.54" r="1.3"/><circle cx="516.01" cy="187.88" r="1.3"/><circle cx="508.02" cy="187.97" r="1.3"/><circle cx="537.32" cy="176.02" r="1.3"/><circle cx="522.26" cy="188.52" r="1.3"/><circle cx="510.91" cy="168.89" r="1.3"/><circle cx="515.5" cy="164.47" r="1.3"/><circle cx="519.84" cy="174.16" r="1.3"/><circle cx="528.32" cy="185.08" r="1.3"/><circle cx="520.47" cy="188.53" r="1.3"/><circle cx="522.73" cy="175.87" r="1.3"/><circle cx="528.41" cy="176.06" r="1.3"/><circle cx="526.44" cy="188.5" r="1.3"/><circle cx="522.48" cy="186.96" r="1.3"/><circle cx="511.67" cy="181.24" r="1.3"/><circle cx="508.44" cy="174.46" r="1.3"/><circle cx="532.64" cy="175.79" r="1.3"/><circle cx="531.87" cy="178.23" r="1.3"/><circle cx="512.94" cy="168.91" r="1.3"/><circle cx="525.26" cy="175.59" r="1.3"/><circle cx="518.98" cy="169.09" r="1.3"/><circle cx="527.38" cy="172.44" r="1.3"/><circle cx="517.2" cy="179.91" r="1.3"/><circle cx="532.9" cy="179.91" r="1.3"/><circle cx="522.06" cy="177.91" r="1.3"/><circle cx="534.19" cy="178.31" r="1.3"/><circle cx="509.38" cy="184.33" r="1.3"/><circle cx="512.83" cy="186.2" r="1.3"/><circle cx="521.16" cy="172.1" r="1.3"/><circle cx="514.17" cy="177.6" r="1.3"/><circle cx="511.56" cy="191.54" r="1.3"/><circle cx="528.67" cy="179.34" r="1.3"/><circle cx="523.68" cy="188.2" r="1.3"/><circle cx="521.13" cy="179.8" r="1.3"/><circle cx="527.1" cy="183.69" r="1.3"/><circle cx="530.45" cy="174.86" r="1.3"/><circle cx="510.28" cy="188.35" r="1.3"/><circle cx="521.47" cy="180.95" r="1.3"/><circle cx="531.74" cy="184.38" r="1.3"/><circle cx="525.94" cy="181.98" r="1.3"/><circle cx="518.54" cy="176.01" r="1.3"/><circle cx="523.38" cy="170.47" r="1.3"/><circle cx="511.31" cy="165.19" r="1.3"/><circle cx="535.03" cy="172.39" r="1.3"/><circle cx="511.34" cy="183.72" r="1.3"/><circle cx="536.8" cy="172.99" r="1.3"/><circle cx="522.09" cy="174.82" r="1.3"/><circle cx="511.92" cy="174.65" r="1.3"/><circle cx="515.17" cy="179.57" r="1.3"/><circle cx="527.21" cy="176.12" r="1.3"/><circle cx="508.56" cy="172.35" r="1.3"/><circle cx="529.94" cy="184.58" r="1.3"/><circle cx="512.26" cy="170.73" r="1.3"/><circle cx="523.33" cy="181.9" r="1.3"/><circle cx="525.69" cy="170.74" r="1.3"/><circle cx="520.33" cy="176.64" r="1.3"/><circle cx="533.59" cy="184.39" r="1.3"/><circle cx="509.51" cy="170.56" r="1.3"/><circle cx="518.77" cy="186.95" r="1.3"/><circle cx="514.99" cy="172.27" r="1.3"/><circle cx="539.44" cy="175.73" r="1.3"/><circle cx="529.46" cy="183.37" r="1.3"/><circle cx="521.71" cy="184.84" r="1.3"/><circle cx="529.74" cy="181.21" r="1.3"/><circle cx="524.12" cy="185.17" r="1.3"/><circle cx="517.16" cy="190.3" r="1.3"/><circle cx="578.2" cy="122.4" r="1.3"/><circle cx="576.6" cy="127.6" r="1.3"/><circle cx="568.7" cy="134.7" r="1.3"/><circle cx="522.1" cy="139.5" r="1.3"/><circle cx="527.4" cy="143.2" r="1.3"/><circle cx="523.4" cy="144.7" r="1.3"/><circle cx="526.8" cy="147.1" r="1.3"/><circle cx="540" cy="142.4" r="1.3"/><circle cx="534.5" cy="148.4" r="1.3"/><circle cx="534.7" cy="151.8" r="1.3"/><circle cx="534.7" cy="155.3" r="1.3"/><circle cx="523.4" cy="151.8" r="1.3"/><circle cx="520.3" cy="154.5" r="1.3"/><circle cx="524.7" cy="155.8" r="1.3"/><circle cx="524.7" cy="158.9" r="1.3"/><circle cx="522.1" cy="161.8" r="1.3"/><circle cx="509.7" cy="157.6" r="1.3"/><circle cx="520" cy="153.7" r="1.3"/><circle cx="523.7" cy="151.8" r="1.3"/><circle cx="524.4" cy="155.6" r="1.3"/><circle cx="509.7" cy="157.4" r="1.3"/><circle cx="512.6" cy="159.6" r="1.3"/><circle cx="509.7" cy="161.1" r="1.3"/><circle cx="516.6" cy="161.1" r="1.3"/><circle cx="523" cy="160.3" r="1.3"/><circle cx="525.2" cy="159.1" r="1.3"/><circle cx="522.2" cy="162.5" r="1.3"/><circle cx="538.2" cy="168.9" r="1.3"/><circle cx="547.6" cy="169.6" r="1.3"/><circle cx="541.1" cy="174.3" r="1.3"/><circle cx="546.6" cy="179.2" r="1.3"/><circle cx="539.6" cy="182.2" r="1.3"/></g><rect x="599.3" y="119.3" width="76.9" height="75" fill="#ebebeb" /><line x1="609.83" y1="119.3" x2="609.83" y2="194.3" stroke="#fafafa" stroke-width="0.55"/><line x1="627.47" y1="119.3" x2="627.47" y2="194.3" stroke="#fafafa" stroke-width="0.55"/><line x1="645.12" y1="119.3" x2="645.12" y2="194.3" stroke="#fafafa" stroke-width="0.55"/><line x1="662.78" y1="119.3" x2="662.78" y2="194.3" stroke="#fafafa" stroke-width="0.55"/><line x1="599.3" y1="128.53" x2="676.2" y2="128.53" stroke="#fafafa" stroke-width="0.55"/><line x1="599.3" y1="146.78" x2="676.2" y2="146.78" stroke="#fafafa" stroke-width="0.55"/><line x1="599.3" y1="165.03" x2="676.2" y2="165.03" stroke="#fafafa" stroke-width="0.55"/><line x1="599.3" y1="183.28" x2="676.2" y2="183.28" stroke="#fafafa" stroke-width="0.55"/><line x1="601" y1="119.3" x2="601" y2="194.3" stroke="#ffffff" stroke-width="0.95"/><line x1="618.65" y1="119.3" x2="618.65" y2="194.3" stroke="#ffffff" stroke-width="0.95"/><line x1="636.3" y1="119.3" x2="636.3" y2="194.3" stroke="#ffffff" stroke-width="0.95"/><line x1="653.95" y1="119.3" x2="653.95" y2="194.3" stroke="#ffffff" stroke-width="0.95"/><line x1="671.6" y1="119.3" x2="671.6" y2="194.3" stroke="#ffffff" stroke-width="0.95"/><line x1="599.3" y1="192.4" x2="676.2" y2="192.4" stroke="#ffffff" stroke-width="0.95"/><line x1="599.3" y1="174.15" x2="676.2" y2="174.15" stroke="#ffffff" stroke-width="0.95"/><line x1="599.3" y1="155.9" x2="676.2" y2="155.9" stroke="#ffffff" stroke-width="0.95"/><line x1="599.3" y1="137.65" x2="676.2" y2="137.65" stroke="#ffffff" stroke-width="0.95"/><line x1="599.3" y1="119.4" x2="676.2" y2="119.4" stroke="#ffffff" stroke-width="0.95"/><line x1="596.8" y1="192.4" x2="599.3" y2="192.4" stroke="#222" stroke-width="0.75"/><text x="594.3" y="193.85" font-size="4.0" text-anchor="end" fill="#555" >0</text><line x1="596.8" y1="174.15" x2="599.3" y2="174.15" stroke="#222" stroke-width="0.75"/><text x="594.3" y="175.6" font-size="4.0" text-anchor="end" fill="#555" >1</text><line x1="596.8" y1="155.9" x2="599.3" y2="155.9" stroke="#222" stroke-width="0.75"/><text x="594.3" y="157.35" font-size="4.0" text-anchor="end" fill="#555" >2</text><line x1="596.8" y1="137.65" x2="599.3" y2="137.65" stroke="#222" stroke-width="0.75"/><text x="594.3" y="139.1" font-size="4.0" text-anchor="end" fill="#555" >3</text><line x1="596.8" y1="119.4" x2="599.3" y2="119.4" stroke="#222" stroke-width="0.75"/><text x="594.3" y="120.85" font-size="4.0" text-anchor="end" fill="#555" >4</text><line x1="601" y1="194.9" x2="601" y2="197.3" stroke="#222" stroke-width="0.75"/><text x="601" y="202.6" font-size="4.0" text-anchor="middle" fill="#555" >0</text><line x1="618.65" y1="194.9" x2="618.65" y2="197.3" stroke="#222" stroke-width="0.75"/><text x="618.65" y="202.6" font-size="4.0" text-anchor="middle" fill="#555" >25</text><line x1="636.3" y1="194.9" x2="636.3" y2="197.3" stroke="#222" stroke-width="0.75"/><text x="636.3" y="202.6" font-size="4.0" text-anchor="middle" fill="#555" >50</text><line x1="653.95" y1="194.9" x2="653.95" y2="197.3" stroke="#222" stroke-width="0.75"/><text x="653.95" y="202.6" font-size="4.0" text-anchor="middle" fill="#555" >75</text><line x1="671.6" y1="194.9" x2="671.6" y2="197.3" stroke="#222" stroke-width="0.75"/><text x="671.6" y="202.6" font-size="4.0" text-anchor="middle" fill="#555" >100</text><g fill="#9eaef8" stroke="#0f28ec" stroke-width="1.0"><circle cx="602.68" cy="177.35" r="1.3"/><circle cx="601.8" cy="133.87" r="1.3"/><circle cx="615.77" cy="161.22" r="1.3"/><circle cx="608.01" cy="129.13" r="1.3"/><circle cx="606.57" cy="180.65" r="1.3"/><circle cx="611.87" cy="146.48" r="1.3"/><circle cx="615.36" cy="168.5" r="1.3"/><circle cx="611.7" cy="128.5" r="1.3"/><circle cx="608.02" cy="122.1" r="1.3"/><circle cx="604.02" cy="128.59" r="1.3"/><circle cx="608.28" cy="145.87" r="1.3"/><circle cx="613.02" cy="147.47" r="1.3"/><circle cx="611.88" cy="167.06" r="1.3"/><circle cx="604.72" cy="156.43" r="1.3"/><circle cx="614.79" cy="160.15" r="1.3"/><circle cx="605.74" cy="167.56" r="1.3"/><circle cx="605.14" cy="130.11" r="1.3"/><circle cx="621.52" cy="165.16" r="1.3"/><circle cx="600.25" cy="187.98" r="1.3"/><circle cx="603.28" cy="137.5" r="1.3"/><circle cx="613.18" cy="133.95" r="1.3"/><circle cx="612.67" cy="161.5" r="1.3"/><circle cx="604.91" cy="176.28" r="1.3"/><circle cx="613.83" cy="153.03" r="1.3"/><circle cx="616.95" cy="172.69" r="1.3"/><circle cx="612.95" cy="171.73" r="1.3"/><circle cx="615.9" cy="159.78" r="1.3"/><circle cx="615.18" cy="127.24" r="1.3"/><circle cx="610.8" cy="154.95" r="1.3"/><circle cx="600.77" cy="135.66" r="1.3"/><circle cx="608.74" cy="154.93" r="1.3"/><circle cx="611.08" cy="151.72" r="1.3"/><circle cx="610.65" cy="165.29" r="1.3"/><circle cx="601.82" cy="135.51" r="1.3"/><circle cx="617.76" cy="123.89" r="1.3"/><circle cx="600.52" cy="170.1" r="1.3"/><circle cx="611.61" cy="161.8" r="1.3"/><circle cx="615.79" cy="157.08" r="1.3"/><circle cx="622.1" cy="145.58" r="1.3"/><circle cx="624.46" cy="146.03" r="1.3"/><circle cx="611.8" cy="149.56" r="1.3"/><circle cx="619.81" cy="136.26" r="1.3"/><circle cx="612.22" cy="138.69" r="1.3"/><circle cx="618.34" cy="139.77" r="1.3"/><circle cx="621.2" cy="161.3" r="1.3"/><circle cx="608.64" cy="130.15" r="1.3"/><circle cx="620.23" cy="153.3" r="1.3"/><circle cx="619.21" cy="168.29" r="1.3"/><circle cx="607.88" cy="135.97" r="1.3"/><circle cx="602.25" cy="166.54" r="1.3"/><circle cx="610.47" cy="125.22" r="1.3"/><circle cx="625.05" cy="133.54" r="1.3"/><circle cx="605.28" cy="155.09" r="1.3"/><circle cx="606.92" cy="144.78" r="1.3"/><circle cx="604.04" cy="184.96" r="1.3"/><circle cx="618.83" cy="141.54" r="1.3"/><circle cx="611.97" cy="173.91" r="1.3"/><circle cx="611.47" cy="133.89" r="1.3"/><circle cx="601.33" cy="179.22" r="1.3"/><circle cx="603.83" cy="152.89" r="1.3"/><circle cx="614.84" cy="158.04" r="1.3"/><circle cx="603.59" cy="123.86" r="1.3"/><circle cx="621.05" cy="148.33" r="1.3"/><circle cx="618.25" cy="153.08" r="1.3"/><circle cx="603.7" cy="161.45" r="1.3"/><circle cx="604.3" cy="124.7" r="1.3"/><circle cx="622.42" cy="128.54" r="1.3"/><circle cx="619.98" cy="160.65" r="1.3"/><circle cx="601.77" cy="141.05" r="1.3"/><circle cx="612.71" cy="156.77" r="1.3"/><circle cx="604.67" cy="190.19" r="1.3"/><circle cx="609.15" cy="161.82" r="1.3"/><circle cx="606.8" cy="136.28" r="1.3"/><circle cx="606.48" cy="163.07" r="1.3"/><circle cx="607.71" cy="161.78" r="1.3"/><circle cx="604.23" cy="173.98" r="1.3"/><circle cx="614.42" cy="142.9" r="1.3"/><circle cx="602.09" cy="160.41" r="1.3"/><circle cx="615.83" cy="176.9" r="1.3"/><circle cx="614.09" cy="149.59" r="1.3"/><circle cx="605.83" cy="124.75" r="1.3"/><circle cx="618.69" cy="130.36" r="1.3"/><circle cx="612.64" cy="178.01" r="1.3"/><circle cx="614.91" cy="133.9" r="1.3"/><circle cx="623.07" cy="151.2" r="1.3"/><circle cx="612.3" cy="125.7" r="1.3"/><circle cx="611.64" cy="168.18" r="1.3"/><circle cx="613.94" cy="132.2" r="1.3"/><circle cx="609.57" cy="147.69" r="1.3"/><circle cx="608.56" cy="187.41" r="1.3"/><circle cx="608.27" cy="174.54" r="1.3"/><circle cx="613.75" cy="136.21" r="1.3"/><circle cx="618.7" cy="165.29" r="1.3"/><circle cx="607.2" cy="157.86" r="1.3"/><circle cx="625.25" cy="141.09" r="1.3"/><circle cx="602.63" cy="150.14" r="1.3"/><circle cx="622.62" cy="133.95" r="1.3"/><circle cx="608.34" cy="159.65" r="1.3"/><circle cx="601.92" cy="187.45" r="1.3"/><circle cx="601.08" cy="161.7" r="1.3"/><circle cx="608.77" cy="132.42" r="1.3"/><circle cx="622.77" cy="142.16" r="1.3"/><circle cx="616.79" cy="146.04" r="1.3"/><circle cx="620.9" cy="158.86" r="1.3"/><circle cx="621.51" cy="154.35" r="1.3"/><circle cx="614.19" cy="163.43" r="1.3"/><circle cx="620.79" cy="144.97" r="1.3"/><circle cx="618.4" cy="132.47" r="1.3"/><circle cx="610.14" cy="153.27" r="1.3"/><circle cx="614.44" cy="146.53" r="1.3"/><circle cx="610.34" cy="149.75" r="1.3"/><circle cx="605.88" cy="170.22" r="1.3"/><circle cx="606.11" cy="174.59" r="1.3"/><circle cx="610.85" cy="127.16" r="1.3"/><circle cx="611.21" cy="123.85" r="1.3"/><circle cx="606.64" cy="146.41" r="1.3"/><circle cx="604.37" cy="145.71" r="1.3"/><circle cx="610.62" cy="144.08" r="1.3"/><circle cx="602.27" cy="170.31" r="1.3"/><circle cx="605.78" cy="162.22" r="1.3"/><circle cx="623.34" cy="130.32" r="1.3"/><circle cx="621.56" cy="137.27" r="1.3"/><circle cx="607.82" cy="149.12" r="1.3"/><circle cx="608.1" cy="156.4" r="1.3"/><circle cx="601.94" cy="138.83" r="1.3"/><circle cx="609.36" cy="164.83" r="1.3"/><circle cx="611.01" cy="176.03" r="1.3"/><circle cx="618.38" cy="149.44" r="1.3"/><circle cx="601.11" cy="172.64" r="1.3"/><circle cx="604.95" cy="179.61" r="1.3"/><circle cx="607.91" cy="153.25" r="1.3"/><circle cx="623.07" cy="137" r="1.3"/><circle cx="613.59" cy="137.29" r="1.3"/><circle cx="624.61" cy="135.67" r="1.3"/><circle cx="614" cy="156.58" r="1.3"/><circle cx="617.49" cy="158.4" r="1.3"/><circle cx="623.56" cy="144.84" r="1.3"/><circle cx="619.72" cy="123.78" r="1.3"/><circle cx="612.81" cy="151.97" r="1.3"/><circle cx="624.8" cy="142.45" r="1.3"/><circle cx="600.7" cy="164.72" r="1.3"/><circle cx="615.47" cy="136.98" r="1.3"/><circle cx="604.48" cy="132.48" r="1.3"/><circle cx="621.62" cy="156.93" r="1.3"/><circle cx="602.79" cy="189.65" r="1.3"/><circle cx="603.37" cy="151.09" r="1.3"/><circle cx="603.38" cy="179.45" r="1.3"/><circle cx="604.69" cy="164.99" r="1.3"/><circle cx="613.47" cy="130.01" r="1.3"/><circle cx="618.37" cy="166.99" r="1.3"/><circle cx="616.74" cy="153.7" r="1.3"/><circle cx="601.98" cy="173.5" r="1.3"/><circle cx="610.58" cy="181.29" r="1.3"/><circle cx="615.62" cy="154.98" r="1.3"/><circle cx="605.04" cy="137.92" r="1.3"/><circle cx="603.83" cy="135.77" r="1.3"/><circle cx="608.11" cy="181.42" r="1.3"/><circle cx="603.02" cy="155.33" r="1.3"/><circle cx="619.83" cy="167.54" r="1.3"/><circle cx="616.15" cy="122.26" r="1.3"/><circle cx="609.04" cy="182.17" r="1.3"/><circle cx="611.74" cy="178.85" r="1.3"/><circle cx="623.12" cy="162.3" r="1.3"/><circle cx="611.73" cy="186" r="1.3"/><circle cx="607.61" cy="142.56" r="1.3"/><circle cx="606.04" cy="159.88" r="1.3"/><circle cx="602.72" cy="168.87" r="1.3"/><circle cx="613.94" cy="139.22" r="1.3"/><circle cx="623.8" cy="139.15" r="1.3"/><circle cx="604.78" cy="187.75" r="1.3"/><circle cx="606.62" cy="142.72" r="1.3"/><circle cx="605.72" cy="132.27" r="1.3"/><circle cx="621.82" cy="136.03" r="1.3"/><circle cx="609.17" cy="137.87" r="1.3"/><circle cx="612.24" cy="159.9" r="1.3"/><circle cx="607.28" cy="129.98" r="1.3"/><circle cx="615.75" cy="141.45" r="1.3"/><circle cx="616.81" cy="151.27" r="1.3"/><circle cx="618.32" cy="145.65" r="1.3"/><circle cx="620.75" cy="123.44" r="1.3"/><circle cx="604.14" cy="191.54" r="1.3"/><circle cx="601.63" cy="151.18" r="1.3"/><circle cx="605.66" cy="126.7" r="1.3"/><circle cx="614.57" cy="166.8" r="1.3"/><circle cx="623.41" cy="158.53" r="1.3"/><circle cx="606.63" cy="188.2" r="1.3"/><circle cx="607.95" cy="170.88" r="1.3"/><circle cx="608.78" cy="186.47" r="1.3"/><circle cx="615.75" cy="138.7" r="1.3"/><circle cx="601.31" cy="169.19" r="1.3"/><circle cx="616.36" cy="125.11" r="1.3"/><circle cx="614.53" cy="129.15" r="1.3"/><circle cx="608.74" cy="157.8" r="1.3"/><circle cx="606.69" cy="139.43" r="1.3"/><circle cx="603.58" cy="130.26" r="1.3"/><circle cx="606.44" cy="184.16" r="1.3"/><circle cx="610.69" cy="177.19" r="1.3"/><circle cx="621.85" cy="132.07" r="1.3"/><circle cx="603.92" cy="163.67" r="1.3"/><circle cx="609.09" cy="151.62" r="1.3"/><circle cx="615.31" cy="179.5" r="1.3"/><circle cx="607.15" cy="137.32" r="1.3"/><circle cx="613.69" cy="154.31" r="1.3"/><circle cx="617.03" cy="134.09" r="1.3"/><circle cx="600.53" cy="160.25" r="1.3"/><circle cx="607.61" cy="190.81" r="1.3"/><circle cx="620.13" cy="163.05" r="1.3"/><circle cx="604.17" cy="167.52" r="1.3"/><circle cx="609.41" cy="176.32" r="1.3"/><circle cx="603.66" cy="158.35" r="1.3"/><circle cx="606.68" cy="182.56" r="1.3"/><circle cx="615.54" cy="175.71" r="1.3"/><circle cx="600.99" cy="137.5" r="1.3"/><circle cx="620.63" cy="150.22" r="1.3"/><circle cx="607.6" cy="185.75" r="1.3"/><circle cx="603.32" cy="147.84" r="1.3"/><circle cx="601.79" cy="180.85" r="1.3"/><circle cx="606.74" cy="126.86" r="1.3"/><circle cx="611.32" cy="137.75" r="1.3"/><circle cx="617.18" cy="137.41" r="1.3"/><circle cx="624" cy="132.74" r="1.3"/><circle cx="610.63" cy="172.37" r="1.3"/><circle cx="605.63" cy="151.05" r="1.3"/><circle cx="616.87" cy="144.3" r="1.3"/><circle cx="613.82" cy="181.26" r="1.3"/><circle cx="615.14" cy="130.78" r="1.3"/><circle cx="604.99" cy="133.76" r="1.3"/><circle cx="607.66" cy="164.99" r="1.3"/><circle cx="600.62" cy="129.19" r="1.3"/><circle cx="604.74" cy="172.85" r="1.3"/><circle cx="604.64" cy="177.49" r="1.3"/><circle cx="611.65" cy="130.72" r="1.3"/><circle cx="610.76" cy="140.69" r="1.3"/><circle cx="602.71" cy="142.11" r="1.3"/><circle cx="618.92" cy="147.49" r="1.3"/><circle cx="606.19" cy="177.14" r="1.3"/><circle cx="612" cy="184.46" r="1.3"/><circle cx="609.63" cy="187.49" r="1.3"/><circle cx="615.22" cy="123.65" r="1.3"/><circle cx="620.77" cy="131.96" r="1.3"/><circle cx="607.1" cy="175.28" r="1.3"/><circle cx="618.7" cy="158.38" r="1.3"/><circle cx="610.16" cy="183.89" r="1.3"/><circle cx="618.42" cy="128.83" r="1.3"/><circle cx="615.6" cy="165.4" r="1.3"/><circle cx="600.44" cy="143.01" r="1.3"/><circle cx="608.64" cy="125.06" r="1.3"/><circle cx="605.77" cy="156.26" r="1.3"/><circle cx="618.89" cy="143.98" r="1.3"/><circle cx="619.2" cy="151.91" r="1.3"/><circle cx="620.3" cy="139.8" r="1.3"/><circle cx="620.02" cy="129.29" r="1.3"/><circle cx="622.76" cy="163.82" r="1.3"/><circle cx="615.66" cy="135.17" r="1.3"/><circle cx="608.64" cy="177.03" r="1.3"/><circle cx="609.73" cy="139.31" r="1.3"/><circle cx="610.28" cy="136.04" r="1.3"/><circle cx="615.71" cy="132.26" r="1.3"/><circle cx="614.39" cy="124.77" r="1.3"/><circle cx="622.76" cy="152.87" r="1.3"/><circle cx="617.33" cy="162.24" r="1.3"/><circle cx="604.54" cy="149.17" r="1.3"/><circle cx="625.64" cy="137.9" r="1.3"/><circle cx="601.19" cy="154.41" r="1.3"/><circle cx="600.52" cy="181.52" r="1.3"/><circle cx="612.92" cy="127.45" r="1.3"/><circle cx="616.93" cy="168.45" r="1.3"/><circle cx="606.79" cy="168.9" r="1.3"/><circle cx="607.07" cy="189.38" r="1.3"/><circle cx="602.28" cy="131.76" r="1.3"/><circle cx="609.78" cy="121.99" r="1.3"/><circle cx="607.6" cy="133.4" r="1.3"/><circle cx="617.64" cy="156.67" r="1.3"/><circle cx="610.53" cy="159.65" r="1.3"/><circle cx="610.61" cy="143.14" r="1.3"/><circle cx="622.53" cy="159.7" r="1.3"/><circle cx="605.12" cy="157.94" r="1.3"/><circle cx="613.14" cy="144.42" r="1.3"/><circle cx="603.35" cy="171.68" r="1.3"/><circle cx="618.16" cy="135.19" r="1.3"/><circle cx="622.18" cy="138.72" r="1.3"/><circle cx="608.28" cy="167.59" r="1.3"/><circle cx="603.07" cy="144.9" r="1.3"/><circle cx="605.66" cy="191.73" r="1.3"/><circle cx="622.79" cy="154.59" r="1.3"/><circle cx="604.6" cy="139.34" r="1.3"/><circle cx="616.26" cy="163.2" r="1.3"/><circle cx="604.63" cy="182.23" r="1.3"/><circle cx="605.03" cy="185.8" r="1.3"/><circle cx="609.42" cy="178.99" r="1.3"/><circle cx="617.49" cy="130.44" r="1.3"/><circle cx="604.72" cy="171" r="1.3"/><circle cx="615.22" cy="151.85" r="1.3"/><circle cx="610.83" cy="147.61" r="1.3"/><circle cx="609.58" cy="140.61" r="1.3"/><circle cx="600.64" cy="163.93" r="1.3"/><circle cx="617.29" cy="165.08" r="1.3"/><circle cx="613.43" cy="164.79" r="1.3"/><circle cx="623.51" cy="127.11" r="1.3"/><circle cx="609.88" cy="163.67" r="1.3"/><circle cx="615.52" cy="144.56" r="1.3"/><circle cx="605.41" cy="147.65" r="1.3"/><circle cx="601.97" cy="156.81" r="1.3"/><circle cx="611.71" cy="153.4" r="1.3"/><circle cx="616.7" cy="128.2" r="1.3"/><circle cx="601.78" cy="183.21" r="1.3"/><circle cx="605.66" cy="124.11" r="1.3"/><circle cx="601.26" cy="186.55" r="1.3"/><circle cx="616.03" cy="149.2" r="1.3"/><circle cx="601.09" cy="147.91" r="1.3"/><circle cx="603.66" cy="181.49" r="1.3"/><circle cx="602.55" cy="146.26" r="1.3"/><circle cx="603.51" cy="141" r="1.3"/><circle cx="619.06" cy="161.78" r="1.3"/><circle cx="615.16" cy="147.99" r="1.3"/><circle cx="602.85" cy="183.21" r="1.3"/><circle cx="610.41" cy="171.09" r="1.3"/><circle cx="626.13" cy="135.37" r="1.3"/><circle cx="618.01" cy="164" r="1.3"/><circle cx="613.23" cy="182.66" r="1.3"/><circle cx="609.07" cy="123.58" r="1.3"/><circle cx="617.8" cy="142.36" r="1.3"/><circle cx="606.76" cy="172.74" r="1.3"/><circle cx="603.15" cy="133.88" r="1.3"/><circle cx="600.49" cy="146.21" r="1.3"/><circle cx="618.77" cy="125" r="1.3"/><circle cx="603.27" cy="175.92" r="1.3"/><circle cx="619.89" cy="125.79" r="1.3"/><circle cx="604.71" cy="169.09" r="1.3"/><circle cx="611.8" cy="170.09" r="1.3"/><circle cx="613.87" cy="177.12" r="1.3"/><circle cx="622.79" cy="147.92" r="1.3"/><circle cx="607.74" cy="150.98" r="1.3"/><circle cx="602.89" cy="126.47" r="1.3"/><circle cx="610.4" cy="146.06" r="1.3"/><circle cx="621.79" cy="151.26" r="1.3"/><circle cx="605.83" cy="128.93" r="1.3"/><circle cx="617.77" cy="154.7" r="1.3"/><circle cx="608.28" cy="184.25" r="1.3"/><circle cx="601.79" cy="144.07" r="1.3"/><circle cx="602.5" cy="128.96" r="1.3"/><circle cx="608.05" cy="163.31" r="1.3"/><circle cx="607.44" cy="179.63" r="1.3"/><circle cx="620.53" cy="156.81" r="1.3"/><circle cx="610.41" cy="132.21" r="1.3"/><circle cx="616.3" cy="167.54" r="1.3"/><circle cx="616.19" cy="143" r="1.3"/><circle cx="619" cy="134.09" r="1.3"/><circle cx="602.64" cy="125.84" r="1.3"/><circle cx="620.39" cy="146.55" r="1.3"/><circle cx="601.4" cy="189.13" r="1.3"/><circle cx="605.62" cy="144.32" r="1.3"/><circle cx="612.62" cy="140.57" r="1.3"/><circle cx="602.59" cy="153.03" r="1.3"/><circle cx="622.93" cy="140.35" r="1.3"/><circle cx="612.72" cy="185.77" r="1.3"/><circle cx="612.11" cy="132.82" r="1.3"/><circle cx="606.93" cy="141.31" r="1.3"/><circle cx="607.32" cy="154.6" r="1.3"/><circle cx="602.33" cy="163.74" r="1.3"/><circle cx="609.44" cy="127.62" r="1.3"/><circle cx="600.28" cy="183.9" r="1.3"/><circle cx="613.81" cy="174.49" r="1.3"/><circle cx="613.35" cy="123.93" r="1.3"/><circle cx="613.05" cy="158.77" r="1.3"/><circle cx="612.13" cy="181.21" r="1.3"/><circle cx="610.67" cy="173.95" r="1.3"/><circle cx="600.27" cy="191" r="1.3"/><circle cx="606.87" cy="147.86" r="1.3"/><circle cx="619.07" cy="137.06" r="1.3"/><circle cx="601.64" cy="126.83" r="1.3"/><circle cx="622.1" cy="124.78" r="1.3"/><circle cx="617.06" cy="175.19" r="1.3"/><circle cx="608.68" cy="134.35" r="1.3"/><circle cx="613.58" cy="168.53" r="1.3"/><circle cx="620.65" cy="134.57" r="1.3"/><circle cx="602.65" cy="165.74" r="1.3"/><circle cx="600.81" cy="175.86" r="1.3"/><circle cx="600.51" cy="152.65" r="1.3"/><circle cx="607.77" cy="123.82" r="1.3"/><circle cx="617.61" cy="127.06" r="1.3"/><circle cx="610.77" cy="158.45" r="1.3"/><circle cx="608" cy="139.54" r="1.3"/><circle cx="609.1" cy="168.8" r="1.3"/><circle cx="602.45" cy="184.29" r="1.3"/><circle cx="601.73" cy="157.9" r="1.3"/><circle cx="602.19" cy="191.8" r="1.3"/><circle cx="613.84" cy="170.54" r="1.3"/><circle cx="619.17" cy="126.43" r="1.3"/><circle cx="605.75" cy="153.28" r="1.3"/><circle cx="609.8" cy="166.93" r="1.3"/><circle cx="609.88" cy="128.48" r="1.3"/><circle cx="611.79" cy="135.17" r="1.3"/><circle cx="620.34" cy="142.97" r="1.3"/><circle cx="616.2" cy="170.55" r="1.3"/><circle cx="605.73" cy="150.21" r="1.3"/><circle cx="620.8" cy="127.25" r="1.3"/><circle cx="617.12" cy="141.4" r="1.3"/><circle cx="621.64" cy="149.96" r="1.3"/><circle cx="619.05" cy="154.49" r="1.3"/><circle cx="611.68" cy="163.12" r="1.3"/><circle cx="617.97" cy="160.23" r="1.3"/><circle cx="616.74" cy="174.33" r="1.3"/><circle cx="617.79" cy="147.41" r="1.3"/><circle cx="621.74" cy="130.97" r="1.3"/><circle cx="612.71" cy="142.7" r="1.3"/><circle cx="603.06" cy="186.59" r="1.3"/><circle cx="608.84" cy="144.26" r="1.3"/><circle cx="614.71" cy="171.96" r="1.3"/><circle cx="604.8" cy="140.99" r="1.3"/><circle cx="601.17" cy="129.93" r="1.3"/><circle cx="604.04" cy="159.62" r="1.3"/><circle cx="613.47" cy="179.57" r="1.3"/><circle cx="609.09" cy="172.13" r="1.3"/><circle cx="604.42" cy="142.19" r="1.3"/><circle cx="611.45" cy="182.43" r="1.3"/><circle cx="609.98" cy="156.65" r="1.3"/><circle cx="613.18" cy="175.95" r="1.3"/><circle cx="621.28" cy="141.08" r="1.3"/><circle cx="627.2" cy="122.4" r="1.3"/><circle cx="628" cy="126.8" r="1.3"/><circle cx="633.8" cy="129.4" r="1.3"/><circle cx="629.8" cy="131.3" r="1.3"/><circle cx="633.8" cy="135.5" r="1.3"/><circle cx="631.1" cy="139.2" r="1.3"/><circle cx="635.1" cy="141.3" r="1.3"/><circle cx="640.3" cy="145.7" r="1.3"/><circle cx="641.1" cy="151.2" r="1.3"/><circle cx="628.5" cy="151.2" r="1.3"/><circle cx="631.7" cy="153.9" r="1.3"/><circle cx="626.4" cy="156.5" r="1.3"/><circle cx="627.2" cy="166.2" r="1.3"/><circle cx="623.3" cy="167.5" r="1.3"/><circle cx="663.2" cy="125.5" r="1.3"/><circle cx="671.3" cy="124.5" r="1.3"/><circle cx="672.4" cy="128.9" r="1.3"/></g><rect x="227" y="224.6" width="74.3" height="76.1" fill="#ebebeb" /><line x1="236.33" y1="224.6" x2="236.33" y2="300.7" stroke="#fafafa" stroke-width="0.55"/><line x1="256.48" y1="224.6" x2="256.48" y2="300.7" stroke="#fafafa" stroke-width="0.55"/><line x1="276.62" y1="224.6" x2="276.62" y2="300.7" stroke="#fafafa" stroke-width="0.55"/><line x1="296.77" y1="224.6" x2="296.77" y2="300.7" stroke="#fafafa" stroke-width="0.55"/><line x1="227" y1="240.63" x2="301.3" y2="240.63" stroke="#fafafa" stroke-width="0.55"/><line x1="227" y1="263.3" x2="301.3" y2="263.3" stroke="#fafafa" stroke-width="0.55"/><line x1="227" y1="285.97" x2="301.3" y2="285.97" stroke="#fafafa" stroke-width="0.55"/><line x1="246.4" y1="224.6" x2="246.4" y2="300.7" stroke="#ffffff" stroke-width="0.95"/><line x1="266.55" y1="224.6" x2="266.55" y2="300.7" stroke="#ffffff" stroke-width="0.95"/><line x1="286.7" y1="224.6" x2="286.7" y2="300.7" stroke="#ffffff" stroke-width="0.95"/><line x1="227" y1="297.3" x2="301.3" y2="297.3" stroke="#ffffff" stroke-width="0.95"/><line x1="227" y1="274.63" x2="301.3" y2="274.63" stroke="#ffffff" stroke-width="0.95"/><line x1="227" y1="251.97" x2="301.3" y2="251.97" stroke="#ffffff" stroke-width="0.95"/><line x1="227" y1="229.3" x2="301.3" y2="229.3" stroke="#ffffff" stroke-width="0.95"/><line x1="224.5" y1="297.3" x2="227" y2="297.3" stroke="#222" stroke-width="0.75"/><text x="222" y="298.75" font-size="4.0" text-anchor="end" fill="#555" >0</text><line x1="224.5" y1="274.63" x2="227" y2="274.63" stroke="#222" stroke-width="0.75"/><text x="222" y="276.08" font-size="4.0" text-anchor="end" fill="#555" >10</text><line x1="224.5" y1="251.97" x2="227" y2="251.97" stroke="#222" stroke-width="0.75"/><text x="222" y="253.42" font-size="4.0" text-anchor="end" fill="#555" >20</text><line x1="224.5" y1="229.3" x2="227" y2="229.3" stroke="#222" stroke-width="0.75"/><text x="222" y="230.75" font-size="4.0" text-anchor="end" fill="#555" >30</text><line x1="246.4" y1="301.3" x2="246.4" y2="303.7" stroke="#222" stroke-width="0.75"/><text x="246.4" y="308.4" font-size="4.0" text-anchor="middle" fill="#555" >5</text><line x1="266.55" y1="301.3" x2="266.55" y2="303.7" stroke="#222" stroke-width="0.75"/><text x="266.55" y="308.4" font-size="4.0" text-anchor="middle" fill="#555" >10</text><line x1="286.7" y1="301.3" x2="286.7" y2="303.7" stroke="#222" stroke-width="0.75"/><text x="286.7" y="308.4" font-size="4.0" text-anchor="middle" fill="#555" >15</text><g fill="#9eaef8" stroke="#0f28ec" stroke-width="1.0"><circle cx="230.28" cy="297.6" r="1.3"/><circle cx="230.28" cy="295.15" r="1.3"/><circle cx="230.28" cy="292.7" r="1.3"/><circle cx="230.28" cy="290.25" r="1.3"/><circle cx="230.28" cy="287.8" r="1.3"/><circle cx="230.28" cy="285.35" r="1.3"/><circle cx="230.28" cy="282.9" r="1.3"/><circle cx="230.28" cy="280.45" r="1.3"/><circle cx="230.28" cy="278" r="1.3"/><circle cx="230.28" cy="275.55" r="1.3"/><circle cx="234.31" cy="296.3" r="1.3"/><circle cx="234.31" cy="293.85" r="1.3"/><circle cx="234.31" cy="291.4" r="1.3"/><circle cx="234.31" cy="288.95" r="1.3"/><circle cx="234.31" cy="286.5" r="1.3"/><circle cx="234.31" cy="284.05" r="1.3"/><circle cx="234.31" cy="281.6" r="1.3"/><circle cx="234.31" cy="279.15" r="1.3"/><circle cx="234.31" cy="276.7" r="1.3"/><circle cx="234.31" cy="274.25" r="1.3"/><circle cx="234.31" cy="271.8" r="1.3"/><circle cx="238.34" cy="295" r="1.3"/><circle cx="238.34" cy="292.55" r="1.3"/><circle cx="238.34" cy="290.1" r="1.3"/><circle cx="238.34" cy="287.65" r="1.3"/><circle cx="238.34" cy="285.2" r="1.3"/><circle cx="238.34" cy="282.75" r="1.3"/><circle cx="238.34" cy="280.3" r="1.3"/><circle cx="238.34" cy="277.85" r="1.3"/><circle cx="238.34" cy="275.4" r="1.3"/><circle cx="238.34" cy="272.95" r="1.3"/><circle cx="238.34" cy="270.5" r="1.3"/><circle cx="238.34" cy="268.05" r="1.3"/><circle cx="242.37" cy="293.7" r="1.3"/><circle cx="242.37" cy="291.25" r="1.3"/><circle cx="242.37" cy="288.8" r="1.3"/><circle cx="242.37" cy="286.35" r="1.3"/><circle cx="242.37" cy="283.9" r="1.3"/><circle cx="242.37" cy="281.45" r="1.3"/><circle cx="242.37" cy="279" r="1.3"/><circle cx="242.37" cy="276.55" r="1.3"/><circle cx="242.37" cy="274.1" r="1.3"/><circle cx="242.37" cy="271.65" r="1.3"/><circle cx="242.37" cy="269.2" r="1.3"/><circle cx="242.37" cy="266.75" r="1.3"/><circle cx="242.37" cy="264.3" r="1.3"/><circle cx="246.4" cy="289.7" r="1.3"/><circle cx="246.4" cy="287.25" r="1.3"/><circle cx="246.4" cy="284.8" r="1.3"/><circle cx="246.4" cy="282.35" r="1.3"/><circle cx="246.4" cy="279.9" r="1.3"/><circle cx="246.4" cy="277.45" r="1.3"/><circle cx="246.4" cy="275" r="1.3"/><circle cx="246.4" cy="272.55" r="1.3"/><circle cx="246.4" cy="270.1" r="1.3"/><circle cx="246.4" cy="267.65" r="1.3"/><circle cx="246.4" cy="265.2" r="1.3"/><circle cx="246.4" cy="262.75" r="1.3"/><circle cx="246.4" cy="260.3" r="1.3"/><circle cx="246.4" cy="257.85" r="1.3"/><circle cx="250.43" cy="289" r="1.3"/><circle cx="250.43" cy="286.55" r="1.3"/><circle cx="250.43" cy="284.1" r="1.3"/><circle cx="250.43" cy="281.65" r="1.3"/><circle cx="250.43" cy="279.2" r="1.3"/><circle cx="250.43" cy="276.75" r="1.3"/><circle cx="250.43" cy="274.3" r="1.3"/><circle cx="250.43" cy="271.85" r="1.3"/><circle cx="250.43" cy="269.4" r="1.3"/><circle cx="250.43" cy="266.95" r="1.3"/><circle cx="250.43" cy="264.5" r="1.3"/><circle cx="250.43" cy="262.05" r="1.3"/><circle cx="250.43" cy="259.6" r="1.3"/><circle cx="250.43" cy="257.15" r="1.3"/><circle cx="254.46" cy="285.3" r="1.3"/><circle cx="254.46" cy="282.85" r="1.3"/><circle cx="254.46" cy="280.4" r="1.3"/><circle cx="254.46" cy="277.95" r="1.3"/><circle cx="254.46" cy="275.5" r="1.3"/><circle cx="254.46" cy="273.05" r="1.3"/><circle cx="254.46" cy="270.6" r="1.3"/><circle cx="254.46" cy="268.15" r="1.3"/><circle cx="254.46" cy="265.7" r="1.3"/><circle cx="254.46" cy="263.25" r="1.3"/><circle cx="254.46" cy="260.8" r="1.3"/><circle cx="254.46" cy="258.35" r="1.3"/><circle cx="254.46" cy="255.9" r="1.3"/><circle cx="258.49" cy="283.2" r="1.3"/><circle cx="258.49" cy="280.75" r="1.3"/><circle cx="258.49" cy="278.3" r="1.3"/><circle cx="258.49" cy="275.85" r="1.3"/><circle cx="258.49" cy="273.4" r="1.3"/><circle cx="258.49" cy="270.95" r="1.3"/><circle cx="258.49" cy="268.5" r="1.3"/><circle cx="258.49" cy="266.05" r="1.3"/><circle cx="258.49" cy="263.6" r="1.3"/><circle cx="258.49" cy="261.15" r="1.3"/><circle cx="258.49" cy="258.7" r="1.3"/><circle cx="258.49" cy="256.25" r="1.3"/><circle cx="258.49" cy="253.8" r="1.3"/><circle cx="262.52" cy="280.2" r="1.3"/><circle cx="262.52" cy="277.75" r="1.3"/><circle cx="262.52" cy="275.3" r="1.3"/><circle cx="262.52" cy="272.85" r="1.3"/><circle cx="262.52" cy="270.4" r="1.3"/><circle cx="262.52" cy="267.95" r="1.3"/><circle cx="262.52" cy="265.5" r="1.3"/><circle cx="262.52" cy="263.05" r="1.3"/><circle cx="262.52" cy="260.6" r="1.3"/><circle cx="262.52" cy="258.15" r="1.3"/><circle cx="262.52" cy="255.7" r="1.3"/><circle cx="262.52" cy="253.25" r="1.3"/><circle cx="262.52" cy="250.8" r="1.3"/><circle cx="262.52" cy="282.8" r="1.3"/><circle cx="266.55" cy="277.4" r="1.3"/><circle cx="266.55" cy="274.95" r="1.3"/><circle cx="266.55" cy="272.5" r="1.3"/><circle cx="266.55" cy="270.05" r="1.3"/><circle cx="266.55" cy="267.6" r="1.3"/><circle cx="266.55" cy="265.15" r="1.3"/><circle cx="266.55" cy="262.7" r="1.3"/><circle cx="266.55" cy="260.25" r="1.3"/><circle cx="266.55" cy="257.8" r="1.3"/><circle cx="266.55" cy="255.35" r="1.3"/><circle cx="266.55" cy="252.9" r="1.3"/><circle cx="266.55" cy="250.45" r="1.3"/><circle cx="270.58" cy="242.8" r="1.3"/><circle cx="270.58" cy="246.6" r="1.3"/><circle cx="270.58" cy="275.3" r="1.3"/><circle cx="270.58" cy="272.85" r="1.3"/><circle cx="270.58" cy="270.4" r="1.3"/><circle cx="270.58" cy="267.95" r="1.3"/><circle cx="270.58" cy="265.5" r="1.3"/><circle cx="270.58" cy="263.05" r="1.3"/><circle cx="270.58" cy="260.6" r="1.3"/><circle cx="270.58" cy="258.15" r="1.3"/><circle cx="270.58" cy="255.7" r="1.3"/><circle cx="270.58" cy="253.25" r="1.3"/><circle cx="270.58" cy="250.8" r="1.3"/><circle cx="274.61" cy="237.4" r="1.3"/><circle cx="274.61" cy="272.6" r="1.3"/><circle cx="274.61" cy="270.15" r="1.3"/><circle cx="274.61" cy="267.7" r="1.3"/><circle cx="274.61" cy="265.25" r="1.3"/><circle cx="274.61" cy="262.8" r="1.3"/><circle cx="274.61" cy="260.35" r="1.3"/><circle cx="274.61" cy="257.9" r="1.3"/><circle cx="274.61" cy="255.45" r="1.3"/><circle cx="274.61" cy="253" r="1.3"/><circle cx="274.61" cy="250.55" r="1.3"/><circle cx="274.61" cy="248.1" r="1.3"/><circle cx="274.61" cy="245.65" r="1.3"/><circle cx="278.64" cy="248" r="1.3"/><circle cx="278.64" cy="245.55" r="1.3"/><circle cx="278.64" cy="270" r="1.3"/><circle cx="278.64" cy="267.55" r="1.3"/><circle cx="278.64" cy="265.1" r="1.3"/><circle cx="278.64" cy="262.65" r="1.3"/><circle cx="278.64" cy="260.2" r="1.3"/><circle cx="278.64" cy="257.75" r="1.3"/><circle cx="278.64" cy="255.3" r="1.3"/><circle cx="282.67" cy="243.5" r="1.3"/><circle cx="282.67" cy="241.05" r="1.3"/><circle cx="282.67" cy="238.6" r="1.3"/><circle cx="282.67" cy="263.5" r="1.3"/><circle cx="282.67" cy="261.05" r="1.3"/><circle cx="282.67" cy="258.6" r="1.3"/><circle cx="282.67" cy="256.15" r="1.3"/><circle cx="282.67" cy="253.7" r="1.3"/><circle cx="282.67" cy="251.25" r="1.3"/><circle cx="286.7" cy="230.5" r="1.3"/><circle cx="286.7" cy="262" r="1.3"/><circle cx="286.7" cy="259.55" r="1.3"/><circle cx="286.7" cy="257.1" r="1.3"/><circle cx="286.7" cy="254.65" r="1.3"/><circle cx="286.7" cy="252.2" r="1.3"/><circle cx="286.7" cy="249.75" r="1.3"/><circle cx="290.73" cy="233" r="1.3"/><circle cx="290.73" cy="253.5" r="1.3"/><circle cx="294.76" cy="252" r="1.3"/><circle cx="298.79" cy="228.2" r="1.3"/></g><rect x="318.2" y="224.6" width="76.3" height="76.1" fill="#ebebeb" /><line x1="328.8" y1="224.6" x2="328.8" y2="300.7" stroke="#fafafa" stroke-width="0.55"/><line x1="349.6" y1="224.6" x2="349.6" y2="300.7" stroke="#fafafa" stroke-width="0.55"/><line x1="370.4" y1="224.6" x2="370.4" y2="300.7" stroke="#fafafa" stroke-width="0.55"/><line x1="391.2" y1="224.6" x2="391.2" y2="300.7" stroke="#fafafa" stroke-width="0.55"/><line x1="318.2" y1="228.08" x2="394.5" y2="228.08" stroke="#fafafa" stroke-width="0.55"/><line x1="318.2" y1="243.53" x2="394.5" y2="243.53" stroke="#fafafa" stroke-width="0.55"/><line x1="318.2" y1="258.98" x2="394.5" y2="258.98" stroke="#fafafa" stroke-width="0.55"/><line x1="318.2" y1="274.43" x2="394.5" y2="274.43" stroke="#fafafa" stroke-width="0.55"/><line x1="318.2" y1="289.88" x2="394.5" y2="289.88" stroke="#fafafa" stroke-width="0.55"/><line x1="339.2" y1="224.6" x2="339.2" y2="300.7" stroke="#ffffff" stroke-width="0.95"/><line x1="360" y1="224.6" x2="360" y2="300.7" stroke="#ffffff" stroke-width="0.95"/><line x1="380.8" y1="224.6" x2="380.8" y2="300.7" stroke="#ffffff" stroke-width="0.95"/><line x1="318.2" y1="297.6" x2="394.5" y2="297.6" stroke="#ffffff" stroke-width="0.95"/><line x1="318.2" y1="282.15" x2="394.5" y2="282.15" stroke="#ffffff" stroke-width="0.95"/><line x1="318.2" y1="266.7" x2="394.5" y2="266.7" stroke="#ffffff" stroke-width="0.95"/><line x1="318.2" y1="251.25" x2="394.5" y2="251.25" stroke="#ffffff" stroke-width="0.95"/><line x1="318.2" y1="235.8" x2="394.5" y2="235.8" stroke="#ffffff" stroke-width="0.95"/><line x1="315.7" y1="297.6" x2="318.2" y2="297.6" stroke="#222" stroke-width="0.75"/><text x="313.2" y="299.05" font-size="4.0" text-anchor="end" fill="#555" >0</text><line x1="315.7" y1="282.15" x2="318.2" y2="282.15" stroke="#222" stroke-width="0.75"/><text x="313.2" y="283.6" font-size="4.0" text-anchor="end" fill="#555" >1</text><line x1="315.7" y1="266.7" x2="318.2" y2="266.7" stroke="#222" stroke-width="0.75"/><text x="313.2" y="268.15" font-size="4.0" text-anchor="end" fill="#555" >2</text><line x1="315.7" y1="251.25" x2="318.2" y2="251.25" stroke="#222" stroke-width="0.75"/><text x="313.2" y="252.7" font-size="4.0" text-anchor="end" fill="#555" >3</text><line x1="315.7" y1="235.8" x2="318.2" y2="235.8" stroke="#222" stroke-width="0.75"/><text x="313.2" y="237.25" font-size="4.0" text-anchor="end" fill="#555" >4</text><line x1="339.2" y1="301.3" x2="339.2" y2="303.7" stroke="#222" stroke-width="0.75"/><text x="339.2" y="308.4" font-size="4.0" text-anchor="middle" fill="#555" >5</text><line x1="360" y1="301.3" x2="360" y2="303.7" stroke="#222" stroke-width="0.75"/><text x="360" y="308.4" font-size="4.0" text-anchor="middle" fill="#555" >10</text><line x1="380.8" y1="301.3" x2="380.8" y2="303.7" stroke="#222" stroke-width="0.75"/><text x="380.8" y="308.4" font-size="4.0" text-anchor="middle" fill="#555" >15</text><g fill="#9eaef8" stroke="#0f28ec" stroke-width="1.0"><circle cx="322.56" cy="298.4" r="1.3"/><circle cx="322.56" cy="295.95" r="1.3"/><circle cx="322.56" cy="293.5" r="1.3"/><circle cx="322.56" cy="291.05" r="1.3"/><circle cx="322.56" cy="288.6" r="1.3"/><circle cx="322.56" cy="286.15" r="1.3"/><circle cx="322.56" cy="283.7" r="1.3"/><circle cx="322.56" cy="281.25" r="1.3"/><circle cx="322.56" cy="278.8" r="1.3"/><circle cx="322.56" cy="276.35" r="1.3"/><circle cx="322.56" cy="273.9" r="1.3"/><circle cx="322.56" cy="271.45" r="1.3"/><circle cx="322.56" cy="269" r="1.3"/><circle cx="322.56" cy="266.55" r="1.3"/><circle cx="322.56" cy="264.1" r="1.3"/><circle cx="322.56" cy="261.65" r="1.3"/><circle cx="322.56" cy="259.2" r="1.3"/><circle cx="322.56" cy="256.75" r="1.3"/><circle cx="322.56" cy="254.3" r="1.3"/><circle cx="322.56" cy="251.85" r="1.3"/><circle cx="322.56" cy="249.4" r="1.3"/><circle cx="322.56" cy="246.95" r="1.3"/><circle cx="322.56" cy="244.5" r="1.3"/><circle cx="322.56" cy="242.05" r="1.3"/><circle cx="322.56" cy="239.6" r="1.3"/><circle cx="326.72" cy="297.6" r="1.3"/><circle cx="326.72" cy="295.15" r="1.3"/><circle cx="326.72" cy="292.7" r="1.3"/><circle cx="326.72" cy="290.25" r="1.3"/><circle cx="326.72" cy="287.8" r="1.3"/><circle cx="326.72" cy="285.35" r="1.3"/><circle cx="326.72" cy="282.9" r="1.3"/><circle cx="326.72" cy="280.45" r="1.3"/><circle cx="326.72" cy="278" r="1.3"/><circle cx="326.72" cy="275.55" r="1.3"/><circle cx="326.72" cy="273.1" r="1.3"/><circle cx="326.72" cy="270.65" r="1.3"/><circle cx="326.72" cy="268.2" r="1.3"/><circle cx="326.72" cy="265.75" r="1.3"/><circle cx="326.72" cy="263.3" r="1.3"/><circle cx="326.72" cy="260.85" r="1.3"/><circle cx="326.72" cy="258.4" r="1.3"/><circle cx="326.72" cy="255.95" r="1.3"/><circle cx="326.72" cy="253.5" r="1.3"/><circle cx="326.72" cy="251.05" r="1.3"/><circle cx="326.72" cy="248.6" r="1.3"/><circle cx="326.72" cy="246.15" r="1.3"/><circle cx="326.72" cy="243.7" r="1.3"/><circle cx="326.72" cy="241.25" r="1.3"/><circle cx="330.88" cy="228.4" r="1.3"/><circle cx="330.88" cy="296.3" r="1.3"/><circle cx="330.88" cy="293.85" r="1.3"/><circle cx="330.88" cy="291.4" r="1.3"/><circle cx="330.88" cy="288.95" r="1.3"/><circle cx="330.88" cy="286.5" r="1.3"/><circle cx="330.88" cy="284.05" r="1.3"/><circle cx="330.88" cy="281.6" r="1.3"/><circle cx="330.88" cy="279.15" r="1.3"/><circle cx="330.88" cy="276.7" r="1.3"/><circle cx="330.88" cy="274.25" r="1.3"/><circle cx="330.88" cy="271.8" r="1.3"/><circle cx="330.88" cy="269.35" r="1.3"/><circle cx="330.88" cy="266.9" r="1.3"/><circle cx="330.88" cy="264.45" r="1.3"/><circle cx="330.88" cy="262" r="1.3"/><circle cx="330.88" cy="259.55" r="1.3"/><circle cx="330.88" cy="257.1" r="1.3"/><circle cx="330.88" cy="254.65" r="1.3"/><circle cx="330.88" cy="252.2" r="1.3"/><circle cx="330.88" cy="249.75" r="1.3"/><circle cx="330.88" cy="247.3" r="1.3"/><circle cx="330.88" cy="244.85" r="1.3"/><circle cx="330.88" cy="242.4" r="1.3"/><circle cx="330.88" cy="239.95" r="1.3"/><circle cx="335.04" cy="231" r="1.3"/><circle cx="335.04" cy="295" r="1.3"/><circle cx="335.04" cy="292.55" r="1.3"/><circle cx="335.04" cy="290.1" r="1.3"/><circle cx="335.04" cy="287.65" r="1.3"/><circle cx="335.04" cy="285.2" r="1.3"/><circle cx="335.04" cy="282.75" r="1.3"/><circle cx="335.04" cy="280.3" r="1.3"/><circle cx="335.04" cy="277.85" r="1.3"/><circle cx="335.04" cy="275.4" r="1.3"/><circle cx="335.04" cy="272.95" r="1.3"/><circle cx="335.04" cy="270.5" r="1.3"/><circle cx="335.04" cy="268.05" r="1.3"/><circle cx="335.04" cy="265.6" r="1.3"/><circle cx="335.04" cy="263.15" r="1.3"/><circle cx="335.04" cy="260.7" r="1.3"/><circle cx="335.04" cy="258.25" r="1.3"/><circle cx="335.04" cy="255.8" r="1.3"/><circle cx="335.04" cy="253.35" r="1.3"/><circle cx="335.04" cy="250.9" r="1.3"/><circle cx="335.04" cy="248.45" r="1.3"/><circle cx="335.04" cy="246" r="1.3"/><circle cx="335.04" cy="243.55" r="1.3"/><circle cx="335.04" cy="241.1" r="1.3"/><circle cx="335.04" cy="238.65" r="1.3"/><circle cx="339.2" cy="295" r="1.3"/><circle cx="339.2" cy="292.55" r="1.3"/><circle cx="339.2" cy="290.1" r="1.3"/><circle cx="339.2" cy="287.65" r="1.3"/><circle cx="339.2" cy="285.2" r="1.3"/><circle cx="339.2" cy="282.75" r="1.3"/><circle cx="339.2" cy="280.3" r="1.3"/><circle cx="339.2" cy="277.85" r="1.3"/><circle cx="339.2" cy="275.4" r="1.3"/><circle cx="339.2" cy="272.95" r="1.3"/><circle cx="339.2" cy="270.5" r="1.3"/><circle cx="339.2" cy="268.05" r="1.3"/><circle cx="339.2" cy="265.6" r="1.3"/><circle cx="339.2" cy="263.15" r="1.3"/><circle cx="339.2" cy="260.7" r="1.3"/><circle cx="339.2" cy="258.25" r="1.3"/><circle cx="339.2" cy="255.8" r="1.3"/><circle cx="339.2" cy="253.35" r="1.3"/><circle cx="339.2" cy="250.9" r="1.3"/><circle cx="339.2" cy="248.45" r="1.3"/><circle cx="339.2" cy="246" r="1.3"/><circle cx="343.36" cy="237.1" r="1.3"/><circle cx="343.36" cy="291" r="1.3"/><circle cx="343.36" cy="288.55" r="1.3"/><circle cx="343.36" cy="286.1" r="1.3"/><circle cx="343.36" cy="283.65" r="1.3"/><circle cx="343.36" cy="281.2" r="1.3"/><circle cx="343.36" cy="278.75" r="1.3"/><circle cx="343.36" cy="276.3" r="1.3"/><circle cx="343.36" cy="273.85" r="1.3"/><circle cx="343.36" cy="271.4" r="1.3"/><circle cx="343.36" cy="268.95" r="1.3"/><circle cx="343.36" cy="266.5" r="1.3"/><circle cx="343.36" cy="264.05" r="1.3"/><circle cx="343.36" cy="261.6" r="1.3"/><circle cx="343.36" cy="259.15" r="1.3"/><circle cx="343.36" cy="256.7" r="1.3"/><circle cx="343.36" cy="254.25" r="1.3"/><circle cx="343.36" cy="251.8" r="1.3"/><circle cx="343.36" cy="249.35" r="1.3"/><circle cx="343.36" cy="246.9" r="1.3"/><circle cx="343.36" cy="244.45" r="1.3"/><circle cx="343.36" cy="242" r="1.3"/><circle cx="343.36" cy="239.55" r="1.3"/><circle cx="347.52" cy="232.5" r="1.3"/><circle cx="347.52" cy="292.4" r="1.3"/><circle cx="347.52" cy="289.95" r="1.3"/><circle cx="347.52" cy="287.5" r="1.3"/><circle cx="347.52" cy="285.05" r="1.3"/><circle cx="347.52" cy="282.6" r="1.3"/><circle cx="347.52" cy="280.15" r="1.3"/><circle cx="347.52" cy="277.7" r="1.3"/><circle cx="347.52" cy="275.25" r="1.3"/><circle cx="347.52" cy="272.8" r="1.3"/><circle cx="347.52" cy="270.35" r="1.3"/><circle cx="347.52" cy="267.9" r="1.3"/><circle cx="347.52" cy="265.45" r="1.3"/><circle cx="347.52" cy="263" r="1.3"/><circle cx="347.52" cy="260.55" r="1.3"/><circle cx="347.52" cy="258.1" r="1.3"/><circle cx="347.52" cy="255.65" r="1.3"/><circle cx="347.52" cy="253.2" r="1.3"/><circle cx="347.52" cy="250.75" r="1.3"/><circle cx="347.52" cy="248.3" r="1.3"/><circle cx="347.52" cy="245.85" r="1.3"/><circle cx="347.52" cy="243.4" r="1.3"/><circle cx="347.52" cy="240.95" r="1.3"/><circle cx="351.68" cy="289.7" r="1.3"/><circle cx="351.68" cy="287.25" r="1.3"/><circle cx="351.68" cy="284.8" r="1.3"/><circle cx="351.68" cy="282.35" r="1.3"/><circle cx="351.68" cy="279.9" r="1.3"/><circle cx="351.68" cy="277.45" r="1.3"/><circle cx="351.68" cy="275" r="1.3"/><circle cx="351.68" cy="272.55" r="1.3"/><circle cx="351.68" cy="270.1" r="1.3"/><circle cx="351.68" cy="267.65" r="1.3"/><circle cx="351.68" cy="265.2" r="1.3"/><circle cx="351.68" cy="262.75" r="1.3"/><circle cx="351.68" cy="260.3" r="1.3"/><circle cx="351.68" cy="257.85" r="1.3"/><circle cx="351.68" cy="255.4" r="1.3"/><circle cx="351.68" cy="252.95" r="1.3"/><circle cx="351.68" cy="250.5" r="1.3"/><circle cx="351.68" cy="248.05" r="1.3"/><circle cx="351.68" cy="245.6" r="1.3"/><circle cx="351.68" cy="243.15" r="1.3"/><circle cx="351.68" cy="240.7" r="1.3"/><circle cx="355.84" cy="285.8" r="1.3"/><circle cx="355.84" cy="283.35" r="1.3"/><circle cx="355.84" cy="280.9" r="1.3"/><circle cx="355.84" cy="278.45" r="1.3"/><circle cx="355.84" cy="276" r="1.3"/><circle cx="355.84" cy="273.55" r="1.3"/><circle cx="355.84" cy="271.1" r="1.3"/><circle cx="355.84" cy="268.65" r="1.3"/><circle cx="355.84" cy="266.2" r="1.3"/><circle cx="355.84" cy="263.75" r="1.3"/><circle cx="355.84" cy="261.3" r="1.3"/><circle cx="355.84" cy="258.85" r="1.3"/><circle cx="355.84" cy="256.4" r="1.3"/><circle cx="355.84" cy="253.95" r="1.3"/><circle cx="355.84" cy="251.5" r="1.3"/><circle cx="355.84" cy="249.05" r="1.3"/><circle cx="355.84" cy="246.6" r="1.3"/><circle cx="355.84" cy="244.15" r="1.3"/><circle cx="355.84" cy="241.7" r="1.3"/><circle cx="360" cy="281.5" r="1.3"/><circle cx="360" cy="279.05" r="1.3"/><circle cx="360" cy="276.6" r="1.3"/><circle cx="360" cy="274.15" r="1.3"/><circle cx="360" cy="271.7" r="1.3"/><circle cx="360" cy="269.25" r="1.3"/><circle cx="360" cy="266.8" r="1.3"/><circle cx="360" cy="264.35" r="1.3"/><circle cx="360" cy="261.9" r="1.3"/><circle cx="360" cy="259.45" r="1.3"/><circle cx="360" cy="257" r="1.3"/><circle cx="360" cy="254.55" r="1.3"/><circle cx="360" cy="252.1" r="1.3"/><circle cx="360" cy="249.65" r="1.3"/><circle cx="360" cy="247.2" r="1.3"/><circle cx="360" cy="244.75" r="1.3"/><circle cx="360" cy="242.3" r="1.3"/><circle cx="364.16" cy="235.5" r="1.3"/><circle cx="364.16" cy="277.7" r="1.3"/><circle cx="364.16" cy="275.25" r="1.3"/><circle cx="364.16" cy="272.8" r="1.3"/><circle cx="364.16" cy="270.35" r="1.3"/><circle cx="364.16" cy="267.9" r="1.3"/><circle cx="364.16" cy="265.45" r="1.3"/><circle cx="364.16" cy="263" r="1.3"/><circle cx="364.16" cy="260.55" r="1.3"/><circle cx="364.16" cy="258.1" r="1.3"/><circle cx="364.16" cy="255.65" r="1.3"/><circle cx="364.16" cy="253.2" r="1.3"/><circle cx="364.16" cy="250.75" r="1.3"/><circle cx="364.16" cy="248.3" r="1.3"/><circle cx="364.16" cy="245.85" r="1.3"/><circle cx="368.32" cy="234" r="1.3"/><circle cx="368.32" cy="231.55" r="1.3"/><circle cx="368.32" cy="274.4" r="1.3"/><circle cx="368.32" cy="271.95" r="1.3"/><circle cx="368.32" cy="269.5" r="1.3"/><circle cx="368.32" cy="267.05" r="1.3"/><circle cx="368.32" cy="264.6" r="1.3"/><circle cx="368.32" cy="262.15" r="1.3"/><circle cx="368.32" cy="259.7" r="1.3"/><circle cx="368.32" cy="257.25" r="1.3"/><circle cx="368.32" cy="254.8" r="1.3"/><circle cx="368.32" cy="252.35" r="1.3"/><circle cx="368.32" cy="249.9" r="1.3"/><circle cx="372.48" cy="242" r="1.3"/><circle cx="372.48" cy="250.4" r="1.3"/><circle cx="372.48" cy="260.2" r="1.3"/><circle cx="372.48" cy="257.75" r="1.3"/><circle cx="372.48" cy="271.1" r="1.3"/><circle cx="376.64" cy="241.2" r="1.3"/><circle cx="376.64" cy="259.1" r="1.3"/><circle cx="376.64" cy="256.65" r="1.3"/><circle cx="376.64" cy="254.2" r="1.3"/><circle cx="376.64" cy="251.75" r="1.3"/><circle cx="376.64" cy="249.3" r="1.3"/><circle cx="376.64" cy="246.85" r="1.3"/><circle cx="376.64" cy="267.9" r="1.3"/><circle cx="376.64" cy="265.45" r="1.3"/><circle cx="380.8" cy="247.1" r="1.3"/><circle cx="380.8" cy="244.65" r="1.3"/><circle cx="380.8" cy="260.2" r="1.3"/><circle cx="380.8" cy="257.75" r="1.3"/><circle cx="380.8" cy="255.3" r="1.3"/><circle cx="380.8" cy="279.9" r="1.3"/><circle cx="384.96" cy="243.8" r="1.3"/><circle cx="384.96" cy="266.8" r="1.3"/><circle cx="389.12" cy="259.1" r="1.3"/><circle cx="393.28" cy="230.3" r="1.3"/></g><rect x="413.7" y="224.6" width="76.8" height="76.1" fill="#ebebeb" /><line x1="423.07" y1="224.6" x2="423.07" y2="300.7" stroke="#fafafa" stroke-width="0.55"/><line x1="443.72" y1="224.6" x2="443.72" y2="300.7" stroke="#fafafa" stroke-width="0.55"/><line x1="464.38" y1="224.6" x2="464.38" y2="300.7" stroke="#fafafa" stroke-width="0.55"/><line x1="485.02" y1="224.6" x2="485.02" y2="300.7" stroke="#fafafa" stroke-width="0.55"/><line x1="413.7" y1="233.78" x2="490.5" y2="233.78" stroke="#fafafa" stroke-width="0.55"/><line x1="413.7" y1="248.14" x2="490.5" y2="248.14" stroke="#fafafa" stroke-width="0.55"/><line x1="413.7" y1="262.5" x2="490.5" y2="262.5" stroke="#fafafa" stroke-width="0.55"/><line x1="413.7" y1="276.86" x2="490.5" y2="276.86" stroke="#fafafa" stroke-width="0.55"/><line x1="413.7" y1="291.22" x2="490.5" y2="291.22" stroke="#fafafa" stroke-width="0.55"/><line x1="433.4" y1="224.6" x2="433.4" y2="300.7" stroke="#ffffff" stroke-width="0.95"/><line x1="454.05" y1="224.6" x2="454.05" y2="300.7" stroke="#ffffff" stroke-width="0.95"/><line x1="474.7" y1="224.6" x2="474.7" y2="300.7" stroke="#ffffff" stroke-width="0.95"/><line x1="413.7" y1="298.4" x2="490.5" y2="298.4" stroke="#ffffff" stroke-width="0.95"/><line x1="413.7" y1="284.04" x2="490.5" y2="284.04" stroke="#ffffff" stroke-width="0.95"/><line x1="413.7" y1="269.68" x2="490.5" y2="269.68" stroke="#ffffff" stroke-width="0.95"/><line x1="413.7" y1="255.32" x2="490.5" y2="255.32" stroke="#ffffff" stroke-width="0.95"/><line x1="413.7" y1="240.96" x2="490.5" y2="240.96" stroke="#ffffff" stroke-width="0.95"/><line x1="413.7" y1="226.6" x2="490.5" y2="226.6" stroke="#ffffff" stroke-width="0.95"/><line x1="411.2" y1="298.4" x2="413.7" y2="298.4" stroke="#222" stroke-width="0.75"/><text x="408.7" y="299.85" font-size="4.0" text-anchor="end" fill="#555" >0</text><line x1="411.2" y1="284.04" x2="413.7" y2="284.04" stroke="#222" stroke-width="0.75"/><text x="408.7" y="285.49" font-size="4.0" text-anchor="end" fill="#555" >1</text><line x1="411.2" y1="269.68" x2="413.7" y2="269.68" stroke="#222" stroke-width="0.75"/><text x="408.7" y="271.13" font-size="4.0" text-anchor="end" fill="#555" >2</text><line x1="411.2" y1="255.32" x2="413.7" y2="255.32" stroke="#222" stroke-width="0.75"/><text x="408.7" y="256.77" font-size="4.0" text-anchor="end" fill="#555" >3</text><line x1="411.2" y1="240.96" x2="413.7" y2="240.96" stroke="#222" stroke-width="0.75"/><text x="408.7" y="242.41" font-size="4.0" text-anchor="end" fill="#555" >4</text><line x1="411.2" y1="226.6" x2="413.7" y2="226.6" stroke="#222" stroke-width="0.75"/><text x="408.7" y="228.05" font-size="4.0" text-anchor="end" fill="#555" >5</text><line x1="433.4" y1="301.3" x2="433.4" y2="303.7" stroke="#222" stroke-width="0.75"/><text x="433.4" y="308.4" font-size="4.0" text-anchor="middle" fill="#555" >5</text><line x1="454.05" y1="301.3" x2="454.05" y2="303.7" stroke="#222" stroke-width="0.75"/><text x="454.05" y="308.4" font-size="4.0" text-anchor="middle" fill="#555" >10</text><line x1="474.7" y1="301.3" x2="474.7" y2="303.7" stroke="#222" stroke-width="0.75"/><text x="474.7" y="308.4" font-size="4.0" text-anchor="middle" fill="#555" >15</text><g fill="#9eaef8" stroke="#0f28ec" stroke-width="1.0"><circle cx="416.88" cy="298.4" r="1.3"/><circle cx="416.88" cy="295.95" r="1.3"/><circle cx="416.88" cy="293.5" r="1.3"/><circle cx="416.88" cy="291.05" r="1.3"/><circle cx="416.88" cy="288.6" r="1.3"/><circle cx="416.88" cy="286.15" r="1.3"/><circle cx="416.88" cy="283.7" r="1.3"/><circle cx="416.88" cy="281.25" r="1.3"/><circle cx="416.88" cy="278.8" r="1.3"/><circle cx="416.88" cy="276.35" r="1.3"/><circle cx="416.88" cy="273.9" r="1.3"/><circle cx="416.88" cy="271.45" r="1.3"/><circle cx="416.88" cy="269" r="1.3"/><circle cx="416.88" cy="266.55" r="1.3"/><circle cx="416.88" cy="264.1" r="1.3"/><circle cx="416.88" cy="261.65" r="1.3"/><circle cx="416.88" cy="259.2" r="1.3"/><circle cx="416.88" cy="256.75" r="1.3"/><circle cx="416.88" cy="254.3" r="1.3"/><circle cx="416.88" cy="251.85" r="1.3"/><circle cx="416.88" cy="249.4" r="1.3"/><circle cx="421.01" cy="297.6" r="1.3"/><circle cx="421.01" cy="295.15" r="1.3"/><circle cx="421.01" cy="292.7" r="1.3"/><circle cx="421.01" cy="290.25" r="1.3"/><circle cx="421.01" cy="287.8" r="1.3"/><circle cx="421.01" cy="285.35" r="1.3"/><circle cx="421.01" cy="282.9" r="1.3"/><circle cx="421.01" cy="280.45" r="1.3"/><circle cx="421.01" cy="278" r="1.3"/><circle cx="421.01" cy="275.55" r="1.3"/><circle cx="421.01" cy="273.1" r="1.3"/><circle cx="421.01" cy="270.65" r="1.3"/><circle cx="421.01" cy="268.2" r="1.3"/><circle cx="421.01" cy="265.75" r="1.3"/><circle cx="421.01" cy="263.3" r="1.3"/><circle cx="421.01" cy="260.85" r="1.3"/><circle cx="421.01" cy="258.4" r="1.3"/><circle cx="421.01" cy="255.95" r="1.3"/><circle cx="421.01" cy="253.5" r="1.3"/><circle cx="421.01" cy="251.05" r="1.3"/><circle cx="421.01" cy="248.6" r="1.3"/><circle cx="421.01" cy="246.15" r="1.3"/><circle cx="425.14" cy="238.4" r="1.3"/><circle cx="425.14" cy="296.3" r="1.3"/><circle cx="425.14" cy="293.85" r="1.3"/><circle cx="425.14" cy="291.4" r="1.3"/><circle cx="425.14" cy="288.95" r="1.3"/><circle cx="425.14" cy="286.5" r="1.3"/><circle cx="425.14" cy="284.05" r="1.3"/><circle cx="425.14" cy="281.6" r="1.3"/><circle cx="425.14" cy="279.15" r="1.3"/><circle cx="425.14" cy="276.7" r="1.3"/><circle cx="425.14" cy="274.25" r="1.3"/><circle cx="425.14" cy="271.8" r="1.3"/><circle cx="425.14" cy="269.35" r="1.3"/><circle cx="425.14" cy="266.9" r="1.3"/><circle cx="425.14" cy="264.45" r="1.3"/><circle cx="425.14" cy="262" r="1.3"/><circle cx="425.14" cy="259.55" r="1.3"/><circle cx="425.14" cy="257.1" r="1.3"/><circle cx="425.14" cy="254.65" r="1.3"/><circle cx="425.14" cy="252.2" r="1.3"/><circle cx="425.14" cy="249.75" r="1.3"/><circle cx="425.14" cy="247.3" r="1.3"/><circle cx="425.14" cy="244.85" r="1.3"/><circle cx="425.14" cy="242.4" r="1.3"/><circle cx="429.27" cy="295" r="1.3"/><circle cx="429.27" cy="292.55" r="1.3"/><circle cx="429.27" cy="290.1" r="1.3"/><circle cx="429.27" cy="287.65" r="1.3"/><circle cx="429.27" cy="285.2" r="1.3"/><circle cx="429.27" cy="282.75" r="1.3"/><circle cx="429.27" cy="280.3" r="1.3"/><circle cx="429.27" cy="277.85" r="1.3"/><circle cx="429.27" cy="275.4" r="1.3"/><circle cx="429.27" cy="272.95" r="1.3"/><circle cx="429.27" cy="270.5" r="1.3"/><circle cx="429.27" cy="268.05" r="1.3"/><circle cx="429.27" cy="265.6" r="1.3"/><circle cx="429.27" cy="263.15" r="1.3"/><circle cx="429.27" cy="260.7" r="1.3"/><circle cx="429.27" cy="258.25" r="1.3"/><circle cx="429.27" cy="255.8" r="1.3"/><circle cx="429.27" cy="253.35" r="1.3"/><circle cx="429.27" cy="250.9" r="1.3"/><circle cx="429.27" cy="248.45" r="1.3"/><circle cx="429.27" cy="246" r="1.3"/><circle cx="429.27" cy="243.55" r="1.3"/><circle cx="429.27" cy="241.1" r="1.3"/><circle cx="433.4" cy="293.7" r="1.3"/><circle cx="433.4" cy="291.25" r="1.3"/><circle cx="433.4" cy="288.8" r="1.3"/><circle cx="433.4" cy="286.35" r="1.3"/><circle cx="433.4" cy="283.9" r="1.3"/><circle cx="433.4" cy="281.45" r="1.3"/><circle cx="433.4" cy="279" r="1.3"/><circle cx="433.4" cy="276.55" r="1.3"/><circle cx="433.4" cy="274.1" r="1.3"/><circle cx="433.4" cy="271.65" r="1.3"/><circle cx="433.4" cy="269.2" r="1.3"/><circle cx="433.4" cy="266.75" r="1.3"/><circle cx="433.4" cy="264.3" r="1.3"/><circle cx="433.4" cy="261.85" r="1.3"/><circle cx="433.4" cy="259.4" r="1.3"/><circle cx="433.4" cy="256.95" r="1.3"/><circle cx="433.4" cy="254.5" r="1.3"/><circle cx="433.4" cy="252.05" r="1.3"/><circle cx="433.4" cy="249.6" r="1.3"/><circle cx="437.53" cy="292.4" r="1.3"/><circle cx="437.53" cy="289.95" r="1.3"/><circle cx="437.53" cy="287.5" r="1.3"/><circle cx="437.53" cy="285.05" r="1.3"/><circle cx="437.53" cy="282.6" r="1.3"/><circle cx="437.53" cy="280.15" r="1.3"/><circle cx="437.53" cy="277.7" r="1.3"/><circle cx="437.53" cy="275.25" r="1.3"/><circle cx="437.53" cy="272.8" r="1.3"/><circle cx="437.53" cy="270.35" r="1.3"/><circle cx="437.53" cy="267.9" r="1.3"/><circle cx="437.53" cy="265.45" r="1.3"/><circle cx="437.53" cy="263" r="1.3"/><circle cx="437.53" cy="260.55" r="1.3"/><circle cx="437.53" cy="258.1" r="1.3"/><circle cx="437.53" cy="255.65" r="1.3"/><circle cx="437.53" cy="253.2" r="1.3"/><circle cx="437.53" cy="250.75" r="1.3"/><circle cx="437.53" cy="248.3" r="1.3"/><circle cx="441.66" cy="289.5" r="1.3"/><circle cx="441.66" cy="287.05" r="1.3"/><circle cx="441.66" cy="284.6" r="1.3"/><circle cx="441.66" cy="282.15" r="1.3"/><circle cx="441.66" cy="279.7" r="1.3"/><circle cx="441.66" cy="277.25" r="1.3"/><circle cx="441.66" cy="274.8" r="1.3"/><circle cx="441.66" cy="272.35" r="1.3"/><circle cx="441.66" cy="269.9" r="1.3"/><circle cx="441.66" cy="267.45" r="1.3"/><circle cx="441.66" cy="265" r="1.3"/><circle cx="441.66" cy="262.55" r="1.3"/><circle cx="441.66" cy="260.1" r="1.3"/><circle cx="441.66" cy="257.65" r="1.3"/><circle cx="441.66" cy="255.2" r="1.3"/><circle cx="441.66" cy="252.75" r="1.3"/><circle cx="441.66" cy="250.3" r="1.3"/><circle cx="441.66" cy="247.85" r="1.3"/><circle cx="441.66" cy="245.4" r="1.3"/><circle cx="441.66" cy="242.95" r="1.3"/><circle cx="441.66" cy="240.5" r="1.3"/><circle cx="441.66" cy="238.05" r="1.3"/><circle cx="445.79" cy="286.5" r="1.3"/><circle cx="445.79" cy="284.05" r="1.3"/><circle cx="445.79" cy="281.6" r="1.3"/><circle cx="445.79" cy="279.15" r="1.3"/><circle cx="445.79" cy="276.7" r="1.3"/><circle cx="445.79" cy="274.25" r="1.3"/><circle cx="445.79" cy="271.8" r="1.3"/><circle cx="445.79" cy="269.35" r="1.3"/><circle cx="445.79" cy="266.9" r="1.3"/><circle cx="445.79" cy="264.45" r="1.3"/><circle cx="445.79" cy="262" r="1.3"/><circle cx="445.79" cy="259.55" r="1.3"/><circle cx="445.79" cy="257.1" r="1.3"/><circle cx="445.79" cy="254.65" r="1.3"/><circle cx="445.79" cy="252.2" r="1.3"/><circle cx="445.79" cy="249.75" r="1.3"/><circle cx="445.79" cy="247.3" r="1.3"/><circle cx="445.79" cy="244.85" r="1.3"/><circle cx="445.79" cy="242.4" r="1.3"/><circle cx="449.92" cy="277.6" r="1.3"/><circle cx="449.92" cy="275.15" r="1.3"/><circle cx="449.92" cy="272.7" r="1.3"/><circle cx="449.92" cy="270.25" r="1.3"/><circle cx="449.92" cy="267.8" r="1.3"/><circle cx="449.92" cy="265.35" r="1.3"/><circle cx="449.92" cy="262.9" r="1.3"/><circle cx="449.92" cy="260.45" r="1.3"/><circle cx="449.92" cy="258" r="1.3"/><circle cx="449.92" cy="255.55" r="1.3"/><circle cx="449.92" cy="253.1" r="1.3"/><circle cx="449.92" cy="250.65" r="1.3"/><circle cx="449.92" cy="248.2" r="1.3"/><circle cx="449.92" cy="245.75" r="1.3"/><circle cx="454.05" cy="277.6" r="1.3"/><circle cx="454.05" cy="275.15" r="1.3"/><circle cx="454.05" cy="272.7" r="1.3"/><circle cx="454.05" cy="270.25" r="1.3"/><circle cx="454.05" cy="267.8" r="1.3"/><circle cx="454.05" cy="265.35" r="1.3"/><circle cx="454.05" cy="262.9" r="1.3"/><circle cx="454.05" cy="260.45" r="1.3"/><circle cx="454.05" cy="258" r="1.3"/><circle cx="454.05" cy="255.55" r="1.3"/><circle cx="454.05" cy="253.1" r="1.3"/><circle cx="454.05" cy="250.65" r="1.3"/><circle cx="454.05" cy="248.2" r="1.3"/><circle cx="454.05" cy="245.75" r="1.3"/><circle cx="454.05" cy="243.3" r="1.3"/><circle cx="458.18" cy="273.2" r="1.3"/><circle cx="458.18" cy="270.75" r="1.3"/><circle cx="458.18" cy="268.3" r="1.3"/><circle cx="458.18" cy="265.85" r="1.3"/><circle cx="458.18" cy="263.4" r="1.3"/><circle cx="458.18" cy="260.95" r="1.3"/><circle cx="458.18" cy="258.5" r="1.3"/><circle cx="458.18" cy="256.05" r="1.3"/><circle cx="458.18" cy="253.6" r="1.3"/><circle cx="458.18" cy="251.15" r="1.3"/><circle cx="458.18" cy="248.7" r="1.3"/><circle cx="458.18" cy="246.25" r="1.3"/><circle cx="458.18" cy="243.8" r="1.3"/><circle cx="458.18" cy="241.35" r="1.3"/><circle cx="462.31" cy="236.2" r="1.3"/><circle cx="462.31" cy="233.75" r="1.3"/><circle cx="462.31" cy="271" r="1.3"/><circle cx="462.31" cy="268.55" r="1.3"/><circle cx="462.31" cy="266.1" r="1.3"/><circle cx="462.31" cy="263.65" r="1.3"/><circle cx="462.31" cy="261.2" r="1.3"/><circle cx="462.31" cy="258.75" r="1.3"/><circle cx="462.31" cy="256.3" r="1.3"/><circle cx="462.31" cy="253.85" r="1.3"/><circle cx="462.31" cy="251.4" r="1.3"/><circle cx="462.31" cy="248.95" r="1.3"/><circle cx="466.44" cy="242.7" r="1.3"/><circle cx="466.44" cy="258" r="1.3"/><circle cx="466.44" cy="255.55" r="1.3"/><circle cx="466.44" cy="253.1" r="1.3"/><circle cx="466.44" cy="250.65" r="1.3"/><circle cx="466.44" cy="265.1" r="1.3"/><circle cx="470.57" cy="248.1" r="1.3"/><circle cx="470.57" cy="245.65" r="1.3"/><circle cx="470.57" cy="243.2" r="1.3"/><circle cx="470.57" cy="240.75" r="1.3"/><circle cx="470.57" cy="263.4" r="1.3"/><circle cx="470.57" cy="260.95" r="1.3"/><circle cx="470.57" cy="258.5" r="1.3"/><circle cx="470.57" cy="256.05" r="1.3"/><circle cx="470.57" cy="253.6" r="1.3"/><circle cx="474.7" cy="256.9" r="1.3"/><circle cx="474.7" cy="254.45" r="1.3"/><circle cx="474.7" cy="252" r="1.3"/><circle cx="474.7" cy="249.55" r="1.3"/><circle cx="474.7" cy="247.1" r="1.3"/><circle cx="474.7" cy="244.65" r="1.3"/><circle cx="474.7" cy="242.2" r="1.3"/><circle cx="474.7" cy="268.8" r="1.3"/><circle cx="478.83" cy="239.4" r="1.3"/><circle cx="478.83" cy="260.1" r="1.3"/><circle cx="482.96" cy="252.5" r="1.3"/><circle cx="487.09" cy="228.1" r="1.3"/></g><rect x="507.9" y="224.6" width="77.6" height="76.1" fill="#ebebeb" /><line x1="518.2" y1="224.6" x2="518.2" y2="300.7" stroke="#fafafa" stroke-width="0.55"/><line x1="538.6" y1="224.6" x2="538.6" y2="300.7" stroke="#fafafa" stroke-width="0.55"/><line x1="559" y1="224.6" x2="559" y2="300.7" stroke="#fafafa" stroke-width="0.55"/><line x1="579.4" y1="224.6" x2="579.4" y2="300.7" stroke="#fafafa" stroke-width="0.55"/><line x1="507.9" y1="232.5" x2="585.5" y2="232.5" stroke="#fafafa" stroke-width="0.55"/><line x1="507.9" y1="251.1" x2="585.5" y2="251.1" stroke="#fafafa" stroke-width="0.55"/><line x1="507.9" y1="269.7" x2="585.5" y2="269.7" stroke="#fafafa" stroke-width="0.55"/><line x1="507.9" y1="288.3" x2="585.5" y2="288.3" stroke="#fafafa" stroke-width="0.55"/><line x1="528.4" y1="224.6" x2="528.4" y2="300.7" stroke="#ffffff" stroke-width="0.95"/><line x1="548.8" y1="224.6" x2="548.8" y2="300.7" stroke="#ffffff" stroke-width="0.95"/><line x1="569.2" y1="224.6" x2="569.2" y2="300.7" stroke="#ffffff" stroke-width="0.95"/><line x1="507.9" y1="297.6" x2="585.5" y2="297.6" stroke="#ffffff" stroke-width="0.95"/><line x1="507.9" y1="279" x2="585.5" y2="279" stroke="#ffffff" stroke-width="0.95"/><line x1="507.9" y1="260.4" x2="585.5" y2="260.4" stroke="#ffffff" stroke-width="0.95"/><line x1="507.9" y1="241.8" x2="585.5" y2="241.8" stroke="#ffffff" stroke-width="0.95"/><line x1="505.4" y1="297.6" x2="507.9" y2="297.6" stroke="#222" stroke-width="0.75"/><text x="502.9" y="299.05" font-size="4.0" text-anchor="end" fill="#555" >0</text><line x1="505.4" y1="279" x2="507.9" y2="279" stroke="#222" stroke-width="0.75"/><text x="502.9" y="280.45" font-size="4.0" text-anchor="end" fill="#555" >2</text><line x1="505.4" y1="260.4" x2="507.9" y2="260.4" stroke="#222" stroke-width="0.75"/><text x="502.9" y="261.85" font-size="4.0" text-anchor="end" fill="#555" >4</text><line x1="505.4" y1="241.8" x2="507.9" y2="241.8" stroke="#222" stroke-width="0.75"/><text x="502.9" y="243.25" font-size="4.0" text-anchor="end" fill="#555" >6</text><line x1="528.4" y1="301.3" x2="528.4" y2="303.7" stroke="#222" stroke-width="0.75"/><text x="528.4" y="308.4" font-size="4.0" text-anchor="middle" fill="#555" >5</text><line x1="548.8" y1="301.3" x2="548.8" y2="303.7" stroke="#222" stroke-width="0.75"/><text x="548.8" y="308.4" font-size="4.0" text-anchor="middle" fill="#555" >10</text><line x1="569.2" y1="301.3" x2="569.2" y2="303.7" stroke="#222" stroke-width="0.75"/><text x="569.2" y="308.4" font-size="4.0" text-anchor="middle" fill="#555" >15</text><g fill="#9eaef8" stroke="#0f28ec" stroke-width="1.0"><circle cx="512.08" cy="270.8" r="1.3"/><circle cx="512.08" cy="297.5" r="1.3"/><circle cx="512.08" cy="295.05" r="1.3"/><circle cx="512.08" cy="292.6" r="1.3"/><circle cx="512.08" cy="290.15" r="1.3"/><circle cx="512.08" cy="287.7" r="1.3"/><circle cx="512.08" cy="285.25" r="1.3"/><circle cx="512.08" cy="282.8" r="1.3"/><circle cx="512.08" cy="280.35" r="1.3"/><circle cx="512.08" cy="277.9" r="1.3"/><circle cx="516.16" cy="296.3" r="1.3"/><circle cx="516.16" cy="293.85" r="1.3"/><circle cx="516.16" cy="291.4" r="1.3"/><circle cx="516.16" cy="288.95" r="1.3"/><circle cx="516.16" cy="286.5" r="1.3"/><circle cx="516.16" cy="284.05" r="1.3"/><circle cx="516.16" cy="281.6" r="1.3"/><circle cx="516.16" cy="279.15" r="1.3"/><circle cx="516.16" cy="276.7" r="1.3"/><circle cx="516.16" cy="274.25" r="1.3"/><circle cx="516.16" cy="271.8" r="1.3"/><circle cx="516.16" cy="269.35" r="1.3"/><circle cx="520.24" cy="257" r="1.3"/><circle cx="520.24" cy="295" r="1.3"/><circle cx="520.24" cy="292.55" r="1.3"/><circle cx="520.24" cy="290.1" r="1.3"/><circle cx="520.24" cy="287.65" r="1.3"/><circle cx="520.24" cy="285.2" r="1.3"/><circle cx="520.24" cy="282.75" r="1.3"/><circle cx="520.24" cy="280.3" r="1.3"/><circle cx="520.24" cy="277.85" r="1.3"/><circle cx="520.24" cy="275.4" r="1.3"/><circle cx="520.24" cy="272.95" r="1.3"/><circle cx="520.24" cy="270.5" r="1.3"/><circle cx="520.24" cy="268.05" r="1.3"/><circle cx="524.32" cy="293.8" r="1.3"/><circle cx="524.32" cy="291.35" r="1.3"/><circle cx="524.32" cy="288.9" r="1.3"/><circle cx="524.32" cy="286.45" r="1.3"/><circle cx="524.32" cy="284" r="1.3"/><circle cx="524.32" cy="281.55" r="1.3"/><circle cx="524.32" cy="279.1" r="1.3"/><circle cx="524.32" cy="276.65" r="1.3"/><circle cx="524.32" cy="274.2" r="1.3"/><circle cx="524.32" cy="271.75" r="1.3"/><circle cx="524.32" cy="269.3" r="1.3"/><circle cx="524.32" cy="266.85" r="1.3"/><circle cx="524.32" cy="264.4" r="1.3"/><circle cx="528.4" cy="259" r="1.3"/><circle cx="528.4" cy="292.8" r="1.3"/><circle cx="528.4" cy="290.35" r="1.3"/><circle cx="528.4" cy="287.9" r="1.3"/><circle cx="528.4" cy="285.45" r="1.3"/><circle cx="528.4" cy="283" r="1.3"/><circle cx="528.4" cy="280.55" r="1.3"/><circle cx="528.4" cy="278.1" r="1.3"/><circle cx="528.4" cy="275.65" r="1.3"/><circle cx="528.4" cy="273.2" r="1.3"/><circle cx="528.4" cy="270.75" r="1.3"/><circle cx="528.4" cy="268.3" r="1.3"/><circle cx="528.4" cy="265.85" r="1.3"/><circle cx="532.48" cy="291.5" r="1.3"/><circle cx="532.48" cy="289.05" r="1.3"/><circle cx="532.48" cy="286.6" r="1.3"/><circle cx="532.48" cy="284.15" r="1.3"/><circle cx="532.48" cy="281.7" r="1.3"/><circle cx="532.48" cy="279.25" r="1.3"/><circle cx="532.48" cy="276.8" r="1.3"/><circle cx="532.48" cy="274.35" r="1.3"/><circle cx="532.48" cy="271.9" r="1.3"/><circle cx="532.48" cy="269.45" r="1.3"/><circle cx="536.56" cy="259.5" r="1.3"/><circle cx="536.56" cy="257.05" r="1.3"/><circle cx="536.56" cy="254.6" r="1.3"/><circle cx="536.56" cy="290.3" r="1.3"/><circle cx="536.56" cy="287.85" r="1.3"/><circle cx="536.56" cy="285.4" r="1.3"/><circle cx="536.56" cy="282.95" r="1.3"/><circle cx="536.56" cy="280.5" r="1.3"/><circle cx="536.56" cy="278.05" r="1.3"/><circle cx="536.56" cy="275.6" r="1.3"/><circle cx="536.56" cy="273.15" r="1.3"/><circle cx="536.56" cy="270.7" r="1.3"/><circle cx="536.56" cy="268.25" r="1.3"/><circle cx="536.56" cy="265.8" r="1.3"/><circle cx="536.56" cy="263.35" r="1.3"/><circle cx="540.64" cy="288.3" r="1.3"/><circle cx="540.64" cy="285.85" r="1.3"/><circle cx="540.64" cy="283.4" r="1.3"/><circle cx="540.64" cy="280.95" r="1.3"/><circle cx="540.64" cy="278.5" r="1.3"/><circle cx="540.64" cy="276.05" r="1.3"/><circle cx="540.64" cy="273.6" r="1.3"/><circle cx="540.64" cy="271.15" r="1.3"/><circle cx="540.64" cy="268.7" r="1.3"/><circle cx="540.64" cy="266.25" r="1.3"/><circle cx="540.64" cy="263.8" r="1.3"/><circle cx="540.64" cy="261.35" r="1.3"/><circle cx="540.64" cy="258.9" r="1.3"/><circle cx="540.64" cy="256.45" r="1.3"/><circle cx="544.72" cy="258.3" r="1.3"/><circle cx="544.72" cy="255.85" r="1.3"/><circle cx="544.72" cy="286.5" r="1.3"/><circle cx="544.72" cy="284.05" r="1.3"/><circle cx="544.72" cy="281.6" r="1.3"/><circle cx="544.72" cy="279.15" r="1.3"/><circle cx="544.72" cy="276.7" r="1.3"/><circle cx="544.72" cy="274.25" r="1.3"/><circle cx="544.72" cy="271.8" r="1.3"/><circle cx="544.72" cy="269.35" r="1.3"/><circle cx="544.72" cy="266.9" r="1.3"/><circle cx="548.8" cy="259.5" r="1.3"/><circle cx="548.8" cy="257.05" r="1.3"/><circle cx="548.8" cy="254.6" r="1.3"/><circle cx="548.8" cy="252.15" r="1.3"/><circle cx="548.8" cy="249.7" r="1.3"/><circle cx="548.8" cy="247.25" r="1.3"/><circle cx="548.8" cy="285" r="1.3"/><circle cx="548.8" cy="282.55" r="1.3"/><circle cx="548.8" cy="280.1" r="1.3"/><circle cx="548.8" cy="277.65" r="1.3"/><circle cx="548.8" cy="275.2" r="1.3"/><circle cx="548.8" cy="272.75" r="1.3"/><circle cx="548.8" cy="270.3" r="1.3"/><circle cx="548.8" cy="267.85" r="1.3"/><circle cx="548.8" cy="265.4" r="1.3"/><circle cx="552.88" cy="245" r="1.3"/><circle cx="552.88" cy="255.8" r="1.3"/><circle cx="552.88" cy="253.35" r="1.3"/><circle cx="552.88" cy="250.9" r="1.3"/><circle cx="552.88" cy="283.3" r="1.3"/><circle cx="552.88" cy="280.85" r="1.3"/><circle cx="552.88" cy="278.4" r="1.3"/><circle cx="552.88" cy="275.95" r="1.3"/><circle cx="552.88" cy="273.5" r="1.3"/><circle cx="552.88" cy="271.05" r="1.3"/><circle cx="552.88" cy="268.6" r="1.3"/><circle cx="552.88" cy="266.15" r="1.3"/><circle cx="552.88" cy="263.7" r="1.3"/><circle cx="556.96" cy="247" r="1.3"/><circle cx="556.96" cy="282" r="1.3"/><circle cx="556.96" cy="279.55" r="1.3"/><circle cx="556.96" cy="277.1" r="1.3"/><circle cx="556.96" cy="274.65" r="1.3"/><circle cx="556.96" cy="272.2" r="1.3"/><circle cx="556.96" cy="269.75" r="1.3"/><circle cx="556.96" cy="267.3" r="1.3"/><circle cx="556.96" cy="264.85" r="1.3"/><circle cx="561.04" cy="260.8" r="1.3"/><circle cx="561.04" cy="258.35" r="1.3"/><circle cx="561.04" cy="255.9" r="1.3"/><circle cx="561.04" cy="253.45" r="1.3"/><circle cx="561.04" cy="275.8" r="1.3"/><circle cx="561.04" cy="273.35" r="1.3"/><circle cx="561.04" cy="270.9" r="1.3"/><circle cx="565.12" cy="241.5" r="1.3"/><circle cx="565.12" cy="249.5" r="1.3"/><circle cx="565.12" cy="257" r="1.3"/><circle cx="565.12" cy="275.8" r="1.3"/><circle cx="565.12" cy="273.35" r="1.3"/><circle cx="565.12" cy="270.9" r="1.3"/><circle cx="565.12" cy="268.45" r="1.3"/><circle cx="565.12" cy="266" r="1.3"/><circle cx="565.12" cy="263.55" r="1.3"/><circle cx="569.2" cy="268.3" r="1.3"/><circle cx="569.2" cy="265.85" r="1.3"/><circle cx="569.2" cy="263.4" r="1.3"/><circle cx="569.2" cy="260.95" r="1.3"/><circle cx="569.2" cy="258.5" r="1.3"/><circle cx="569.2" cy="256.05" r="1.3"/><circle cx="573.28" cy="228.3" r="1.3"/><circle cx="573.28" cy="252" r="1.3"/><circle cx="577.36" cy="255" r="1.3"/><circle cx="581.44" cy="232" r="1.3"/></g><rect x="604.5" y="224.6" width="75" height="76.1" fill="#ebebeb" /><line x1="614.12" y1="224.6" x2="614.12" y2="300.7" stroke="#fafafa" stroke-width="0.55"/><line x1="634.28" y1="224.6" x2="634.28" y2="300.7" stroke="#fafafa" stroke-width="0.55"/><line x1="654.42" y1="224.6" x2="654.42" y2="300.7" stroke="#fafafa" stroke-width="0.55"/><line x1="674.58" y1="224.6" x2="674.58" y2="300.7" stroke="#fafafa" stroke-width="0.55"/><line x1="604.5" y1="227.44" x2="679.5" y2="227.44" stroke="#fafafa" stroke-width="0.55"/><line x1="604.5" y1="243.16" x2="679.5" y2="243.16" stroke="#fafafa" stroke-width="0.55"/><line x1="604.5" y1="258.89" x2="679.5" y2="258.89" stroke="#fafafa" stroke-width="0.55"/><line x1="604.5" y1="274.61" x2="679.5" y2="274.61" stroke="#fafafa" stroke-width="0.55"/><line x1="604.5" y1="290.34" x2="679.5" y2="290.34" stroke="#fafafa" stroke-width="0.55"/><line x1="624.2" y1="224.6" x2="624.2" y2="300.7" stroke="#ffffff" stroke-width="0.95"/><line x1="644.35" y1="224.6" x2="644.35" y2="300.7" stroke="#ffffff" stroke-width="0.95"/><line x1="664.5" y1="224.6" x2="664.5" y2="300.7" stroke="#ffffff" stroke-width="0.95"/><line x1="604.5" y1="298.2" x2="679.5" y2="298.2" stroke="#ffffff" stroke-width="0.95"/><line x1="604.5" y1="282.48" x2="679.5" y2="282.48" stroke="#ffffff" stroke-width="0.95"/><line x1="604.5" y1="266.75" x2="679.5" y2="266.75" stroke="#ffffff" stroke-width="0.95"/><line x1="604.5" y1="251.03" x2="679.5" y2="251.03" stroke="#ffffff" stroke-width="0.95"/><line x1="604.5" y1="235.3" x2="679.5" y2="235.3" stroke="#ffffff" stroke-width="0.95"/><line x1="602" y1="298.2" x2="604.5" y2="298.2" stroke="#222" stroke-width="0.75"/><text x="599.5" y="299.65" font-size="4.0" text-anchor="end" fill="#555" >0.0</text><line x1="602" y1="282.48" x2="604.5" y2="282.48" stroke="#222" stroke-width="0.75"/><text x="599.5" y="283.93" font-size="4.0" text-anchor="end" fill="#555" >0.5</text><line x1="602" y1="266.75" x2="604.5" y2="266.75" stroke="#222" stroke-width="0.75"/><text x="599.5" y="268.2" font-size="4.0" text-anchor="end" fill="#555" >1.0</text><line x1="602" y1="251.03" x2="604.5" y2="251.03" stroke="#222" stroke-width="0.75"/><text x="599.5" y="252.47" font-size="4.0" text-anchor="end" fill="#555" >1.5</text><line x1="602" y1="235.3" x2="604.5" y2="235.3" stroke="#222" stroke-width="0.75"/><text x="599.5" y="236.75" font-size="4.0" text-anchor="end" fill="#555" >2.0</text><line x1="624.2" y1="301.3" x2="624.2" y2="303.7" stroke="#222" stroke-width="0.75"/><text x="624.2" y="308.4" font-size="4.0" text-anchor="middle" fill="#555" >5</text><line x1="644.35" y1="301.3" x2="644.35" y2="303.7" stroke="#222" stroke-width="0.75"/><text x="644.35" y="308.4" font-size="4.0" text-anchor="middle" fill="#555" >10</text><line x1="664.5" y1="301.3" x2="664.5" y2="303.7" stroke="#222" stroke-width="0.75"/><text x="664.5" y="308.4" font-size="4.0" text-anchor="middle" fill="#555" >15</text><g fill="#9eaef8" stroke="#0f28ec" stroke-width="1.0"><circle cx="608.08" cy="297" r="1.3"/><circle cx="608.08" cy="294.55" r="1.3"/><circle cx="608.08" cy="292.1" r="1.3"/><circle cx="608.08" cy="289.65" r="1.3"/><circle cx="608.08" cy="287.2" r="1.3"/><circle cx="608.08" cy="284.75" r="1.3"/><circle cx="608.08" cy="282.3" r="1.3"/><circle cx="608.08" cy="279.85" r="1.3"/><circle cx="608.08" cy="277.4" r="1.3"/><circle cx="608.08" cy="274.95" r="1.3"/><circle cx="608.08" cy="272.5" r="1.3"/><circle cx="608.08" cy="270.05" r="1.3"/><circle cx="608.08" cy="267.6" r="1.3"/><circle cx="608.08" cy="265.15" r="1.3"/><circle cx="608.08" cy="262.7" r="1.3"/><circle cx="608.08" cy="260.25" r="1.3"/><circle cx="608.08" cy="257.8" r="1.3"/><circle cx="608.08" cy="255.35" r="1.3"/><circle cx="608.08" cy="252.9" r="1.3"/><circle cx="608.08" cy="250.45" r="1.3"/><circle cx="608.08" cy="248" r="1.3"/><circle cx="608.08" cy="245.55" r="1.3"/><circle cx="608.08" cy="243.1" r="1.3"/><circle cx="608.08" cy="240.65" r="1.3"/><circle cx="608.08" cy="238.2" r="1.3"/><circle cx="608.08" cy="235.75" r="1.3"/><circle cx="608.08" cy="233.3" r="1.3"/><circle cx="612.11" cy="296.5" r="1.3"/><circle cx="612.11" cy="294.05" r="1.3"/><circle cx="612.11" cy="291.6" r="1.3"/><circle cx="612.11" cy="289.15" r="1.3"/><circle cx="612.11" cy="286.7" r="1.3"/><circle cx="612.11" cy="284.25" r="1.3"/><circle cx="612.11" cy="281.8" r="1.3"/><circle cx="612.11" cy="279.35" r="1.3"/><circle cx="612.11" cy="276.9" r="1.3"/><circle cx="612.11" cy="274.45" r="1.3"/><circle cx="612.11" cy="272" r="1.3"/><circle cx="612.11" cy="269.55" r="1.3"/><circle cx="612.11" cy="267.1" r="1.3"/><circle cx="612.11" cy="264.65" r="1.3"/><circle cx="612.11" cy="262.2" r="1.3"/><circle cx="612.11" cy="259.75" r="1.3"/><circle cx="612.11" cy="257.3" r="1.3"/><circle cx="612.11" cy="254.85" r="1.3"/><circle cx="612.11" cy="252.4" r="1.3"/><circle cx="612.11" cy="249.95" r="1.3"/><circle cx="612.11" cy="247.5" r="1.3"/><circle cx="612.11" cy="245.05" r="1.3"/><circle cx="612.11" cy="242.6" r="1.3"/><circle cx="612.11" cy="240.15" r="1.3"/><circle cx="612.11" cy="237.7" r="1.3"/><circle cx="612.11" cy="235.25" r="1.3"/><circle cx="616.14" cy="295.8" r="1.3"/><circle cx="616.14" cy="293.35" r="1.3"/><circle cx="616.14" cy="290.9" r="1.3"/><circle cx="616.14" cy="288.45" r="1.3"/><circle cx="616.14" cy="286" r="1.3"/><circle cx="616.14" cy="283.55" r="1.3"/><circle cx="616.14" cy="281.1" r="1.3"/><circle cx="616.14" cy="278.65" r="1.3"/><circle cx="616.14" cy="276.2" r="1.3"/><circle cx="616.14" cy="273.75" r="1.3"/><circle cx="616.14" cy="271.3" r="1.3"/><circle cx="616.14" cy="268.85" r="1.3"/><circle cx="616.14" cy="266.4" r="1.3"/><circle cx="616.14" cy="263.95" r="1.3"/><circle cx="616.14" cy="261.5" r="1.3"/><circle cx="616.14" cy="259.05" r="1.3"/><circle cx="616.14" cy="256.6" r="1.3"/><circle cx="616.14" cy="254.15" r="1.3"/><circle cx="616.14" cy="251.7" r="1.3"/><circle cx="616.14" cy="249.25" r="1.3"/><circle cx="616.14" cy="246.8" r="1.3"/><circle cx="616.14" cy="244.35" r="1.3"/><circle cx="616.14" cy="241.9" r="1.3"/><circle cx="616.14" cy="239.45" r="1.3"/><circle cx="616.14" cy="237" r="1.3"/><circle cx="616.14" cy="234.55" r="1.3"/><circle cx="620.17" cy="228.3" r="1.3"/><circle cx="620.17" cy="296.5" r="1.3"/><circle cx="620.17" cy="294.05" r="1.3"/><circle cx="620.17" cy="291.6" r="1.3"/><circle cx="620.17" cy="289.15" r="1.3"/><circle cx="620.17" cy="286.7" r="1.3"/><circle cx="620.17" cy="284.25" r="1.3"/><circle cx="620.17" cy="281.8" r="1.3"/><circle cx="620.17" cy="279.35" r="1.3"/><circle cx="620.17" cy="276.9" r="1.3"/><circle cx="620.17" cy="274.45" r="1.3"/><circle cx="620.17" cy="272" r="1.3"/><circle cx="620.17" cy="269.55" r="1.3"/><circle cx="620.17" cy="267.1" r="1.3"/><circle cx="620.17" cy="264.65" r="1.3"/><circle cx="620.17" cy="262.2" r="1.3"/><circle cx="620.17" cy="259.75" r="1.3"/><circle cx="620.17" cy="257.3" r="1.3"/><circle cx="620.17" cy="254.85" r="1.3"/><circle cx="620.17" cy="252.4" r="1.3"/><circle cx="620.17" cy="249.95" r="1.3"/><circle cx="620.17" cy="247.5" r="1.3"/><circle cx="620.17" cy="245.05" r="1.3"/><circle cx="620.17" cy="242.6" r="1.3"/><circle cx="620.17" cy="240.15" r="1.3"/><circle cx="620.17" cy="237.7" r="1.3"/><circle cx="620.17" cy="235.25" r="1.3"/><circle cx="620.17" cy="232.8" r="1.3"/><circle cx="624.2" cy="295.8" r="1.3"/><circle cx="624.2" cy="293.35" r="1.3"/><circle cx="624.2" cy="290.9" r="1.3"/><circle cx="624.2" cy="288.45" r="1.3"/><circle cx="624.2" cy="286" r="1.3"/><circle cx="624.2" cy="283.55" r="1.3"/><circle cx="624.2" cy="281.1" r="1.3"/><circle cx="624.2" cy="278.65" r="1.3"/><circle cx="624.2" cy="276.2" r="1.3"/><circle cx="624.2" cy="273.75" r="1.3"/><circle cx="624.2" cy="271.3" r="1.3"/><circle cx="624.2" cy="268.85" r="1.3"/><circle cx="624.2" cy="266.4" r="1.3"/><circle cx="624.2" cy="263.95" r="1.3"/><circle cx="624.2" cy="261.5" r="1.3"/><circle cx="624.2" cy="259.05" r="1.3"/><circle cx="624.2" cy="256.6" r="1.3"/><circle cx="624.2" cy="254.15" r="1.3"/><circle cx="624.2" cy="251.7" r="1.3"/><circle cx="624.2" cy="249.25" r="1.3"/><circle cx="624.2" cy="246.8" r="1.3"/><circle cx="624.2" cy="244.35" r="1.3"/><circle cx="624.2" cy="241.9" r="1.3"/><circle cx="624.2" cy="239.45" r="1.3"/><circle cx="624.2" cy="237" r="1.3"/><circle cx="628.23" cy="230.3" r="1.3"/><circle cx="628.23" cy="294.5" r="1.3"/><circle cx="628.23" cy="292.05" r="1.3"/><circle cx="628.23" cy="289.6" r="1.3"/><circle cx="628.23" cy="287.15" r="1.3"/><circle cx="628.23" cy="284.7" r="1.3"/><circle cx="628.23" cy="282.25" r="1.3"/><circle cx="628.23" cy="279.8" r="1.3"/><circle cx="628.23" cy="277.35" r="1.3"/><circle cx="628.23" cy="274.9" r="1.3"/><circle cx="628.23" cy="272.45" r="1.3"/><circle cx="628.23" cy="270" r="1.3"/><circle cx="628.23" cy="267.55" r="1.3"/><circle cx="628.23" cy="265.1" r="1.3"/><circle cx="628.23" cy="262.65" r="1.3"/><circle cx="628.23" cy="260.2" r="1.3"/><circle cx="628.23" cy="257.75" r="1.3"/><circle cx="628.23" cy="255.3" r="1.3"/><circle cx="628.23" cy="252.85" r="1.3"/><circle cx="628.23" cy="250.4" r="1.3"/><circle cx="628.23" cy="247.95" r="1.3"/><circle cx="628.23" cy="245.5" r="1.3"/><circle cx="628.23" cy="243.05" r="1.3"/><circle cx="628.23" cy="240.6" r="1.3"/><circle cx="628.23" cy="238.15" r="1.3"/><circle cx="632.26" cy="228.3" r="1.3"/><circle cx="632.26" cy="292" r="1.3"/><circle cx="632.26" cy="289.55" r="1.3"/><circle cx="632.26" cy="287.1" r="1.3"/><circle cx="632.26" cy="284.65" r="1.3"/><circle cx="632.26" cy="282.2" r="1.3"/><circle cx="632.26" cy="279.75" r="1.3"/><circle cx="632.26" cy="277.3" r="1.3"/><circle cx="632.26" cy="274.85" r="1.3"/><circle cx="632.26" cy="272.4" r="1.3"/><circle cx="632.26" cy="269.95" r="1.3"/><circle cx="632.26" cy="267.5" r="1.3"/><circle cx="632.26" cy="265.05" r="1.3"/><circle cx="632.26" cy="262.6" r="1.3"/><circle cx="632.26" cy="260.15" r="1.3"/><circle cx="632.26" cy="257.7" r="1.3"/><circle cx="632.26" cy="255.25" r="1.3"/><circle cx="632.26" cy="252.8" r="1.3"/><circle cx="632.26" cy="250.35" r="1.3"/><circle cx="632.26" cy="247.9" r="1.3"/><circle cx="632.26" cy="245.45" r="1.3"/><circle cx="632.26" cy="243" r="1.3"/><circle cx="632.26" cy="240.55" r="1.3"/><circle cx="632.26" cy="238.1" r="1.3"/><circle cx="632.26" cy="235.65" r="1.3"/><circle cx="636.29" cy="234.5" r="1.3"/><circle cx="636.29" cy="284.5" r="1.3"/><circle cx="636.29" cy="282.05" r="1.3"/><circle cx="636.29" cy="279.6" r="1.3"/><circle cx="636.29" cy="277.15" r="1.3"/><circle cx="636.29" cy="274.7" r="1.3"/><circle cx="636.29" cy="272.25" r="1.3"/><circle cx="636.29" cy="269.8" r="1.3"/><circle cx="636.29" cy="267.35" r="1.3"/><circle cx="636.29" cy="264.9" r="1.3"/><circle cx="636.29" cy="262.45" r="1.3"/><circle cx="636.29" cy="260" r="1.3"/><circle cx="636.29" cy="257.55" r="1.3"/><circle cx="636.29" cy="255.1" r="1.3"/><circle cx="636.29" cy="252.65" r="1.3"/><circle cx="636.29" cy="250.2" r="1.3"/><circle cx="636.29" cy="247.75" r="1.3"/><circle cx="636.29" cy="245.3" r="1.3"/><circle cx="636.29" cy="242.85" r="1.3"/><circle cx="636.29" cy="240.4" r="1.3"/><circle cx="636.29" cy="290.8" r="1.3"/><circle cx="636.29" cy="288.35" r="1.3"/><circle cx="640.32" cy="274.5" r="1.3"/><circle cx="640.32" cy="272.05" r="1.3"/><circle cx="640.32" cy="269.6" r="1.3"/><circle cx="640.32" cy="267.15" r="1.3"/><circle cx="640.32" cy="264.7" r="1.3"/><circle cx="640.32" cy="262.25" r="1.3"/><circle cx="640.32" cy="259.8" r="1.3"/><circle cx="640.32" cy="257.35" r="1.3"/><circle cx="640.32" cy="254.9" r="1.3"/><circle cx="640.32" cy="252.45" r="1.3"/><circle cx="640.32" cy="250" r="1.3"/><circle cx="640.32" cy="247.55" r="1.3"/><circle cx="640.32" cy="245.1" r="1.3"/><circle cx="640.32" cy="242.65" r="1.3"/><circle cx="640.32" cy="240.2" r="1.3"/><circle cx="640.32" cy="278.3" r="1.3"/><circle cx="644.35" cy="278.3" r="1.3"/><circle cx="644.35" cy="275.85" r="1.3"/><circle cx="644.35" cy="273.4" r="1.3"/><circle cx="644.35" cy="270.95" r="1.3"/><circle cx="644.35" cy="268.5" r="1.3"/><circle cx="644.35" cy="266.05" r="1.3"/><circle cx="644.35" cy="263.6" r="1.3"/><circle cx="644.35" cy="261.15" r="1.3"/><circle cx="644.35" cy="258.7" r="1.3"/><circle cx="644.35" cy="256.25" r="1.3"/><circle cx="644.35" cy="253.8" r="1.3"/><circle cx="644.35" cy="251.35" r="1.3"/><circle cx="644.35" cy="248.9" r="1.3"/><circle cx="644.35" cy="246.45" r="1.3"/><circle cx="644.35" cy="244" r="1.3"/><circle cx="644.35" cy="241.55" r="1.3"/><circle cx="644.35" cy="239.1" r="1.3"/><circle cx="644.35" cy="282.8" r="1.3"/><circle cx="648.38" cy="228.3" r="1.3"/><circle cx="648.38" cy="237" r="1.3"/><circle cx="648.38" cy="273.3" r="1.3"/><circle cx="648.38" cy="270.85" r="1.3"/><circle cx="648.38" cy="268.4" r="1.3"/><circle cx="648.38" cy="265.95" r="1.3"/><circle cx="648.38" cy="263.5" r="1.3"/><circle cx="648.38" cy="261.05" r="1.3"/><circle cx="648.38" cy="258.6" r="1.3"/><circle cx="648.38" cy="256.15" r="1.3"/><circle cx="648.38" cy="253.7" r="1.3"/><circle cx="648.38" cy="251.25" r="1.3"/><circle cx="648.38" cy="248.8" r="1.3"/><circle cx="652.41" cy="237.5" r="1.3"/><circle cx="652.41" cy="235.05" r="1.3"/><circle cx="652.41" cy="274.5" r="1.3"/><circle cx="652.41" cy="272.05" r="1.3"/><circle cx="652.41" cy="269.6" r="1.3"/><circle cx="652.41" cy="267.15" r="1.3"/><circle cx="652.41" cy="264.7" r="1.3"/><circle cx="652.41" cy="262.25" r="1.3"/><circle cx="652.41" cy="259.8" r="1.3"/><circle cx="652.41" cy="257.35" r="1.3"/><circle cx="652.41" cy="254.9" r="1.3"/><circle cx="652.41" cy="252.45" r="1.3"/><circle cx="652.41" cy="250" r="1.3"/><circle cx="656.44" cy="263.3" r="1.3"/><circle cx="656.44" cy="260.85" r="1.3"/><circle cx="656.44" cy="258.4" r="1.3"/><circle cx="656.44" cy="255.95" r="1.3"/><circle cx="656.44" cy="253.5" r="1.3"/><circle cx="656.44" cy="251.05" r="1.3"/><circle cx="660.47" cy="264.5" r="1.3"/><circle cx="660.47" cy="262.05" r="1.3"/><circle cx="660.47" cy="259.6" r="1.3"/><circle cx="660.47" cy="257.15" r="1.3"/><circle cx="660.47" cy="254.7" r="1.3"/><circle cx="660.47" cy="252.25" r="1.3"/><circle cx="660.47" cy="249.8" r="1.3"/><circle cx="664.5" cy="241.5" r="1.3"/><circle cx="664.5" cy="249" r="1.3"/><circle cx="664.5" cy="265.8" r="1.3"/><circle cx="664.5" cy="263.35" r="1.3"/><circle cx="664.5" cy="260.9" r="1.3"/><circle cx="664.5" cy="282.8" r="1.3"/><circle cx="668.53" cy="255.8" r="1.3"/><circle cx="668.53" cy="270.8" r="1.3"/><circle cx="672.56" cy="259.5" r="1.3"/><circle cx="676.59" cy="252.8" r="1.3"/></g>
</svg></body></html>
